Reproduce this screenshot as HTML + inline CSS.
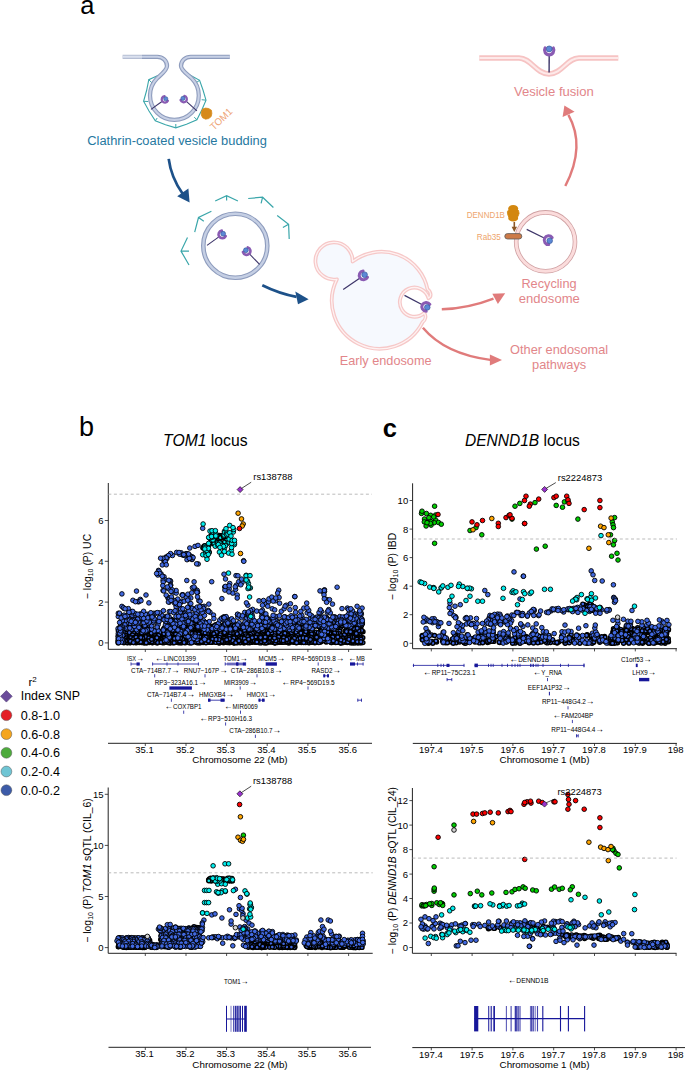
<!DOCTYPE html>
<html><head><meta charset="utf-8"><style>
html,body{margin:0;padding:0;background:#fff;overflow:hidden}
svg{display:block;font-family:"Liberation Sans", sans-serif}
</style></head><body>
<svg width="685" height="1070" viewBox="0 0 685 1070">
<rect width="685" height="1070" fill="#fff"/>
<text x="80.2" y="14.3" font-size="25.5" fill="#000">a</text>
<path d="M158.5,75.2 L148.8,79.7 L146.6,90.5 L143.6,101.3 L149,111 L155.3,120.8 L165.5,124.8 L175.8,127.8 L186.5,124.2 L196.9,119.7 L201.8,110 L206,100.2 L203,90 L199.6,80.3 L189.9,74.9" fill="none" stroke="#3aa6aa" stroke-width="1.1" stroke-linejoin="miter"/>
<line x1="148.8" y1="79.7" x2="152" y2="83" stroke="#3aa6aa" stroke-width="1.0"/>
<line x1="143.6" y1="101.3" x2="148.3" y2="101.5" stroke="#3aa6aa" stroke-width="1.0"/>
<line x1="155.3" y1="120.8" x2="157.2" y2="118.0" stroke="#3aa6aa" stroke-width="1.0"/>
<line x1="175.8" y1="127.8" x2="175.8" y2="124" stroke="#3aa6aa" stroke-width="1.0"/>
<line x1="196.9" y1="119.7" x2="194.2" y2="117.2" stroke="#3aa6aa" stroke-width="1.0"/>
<line x1="206" y1="100.2" x2="201.7" y2="99.7" stroke="#3aa6aa" stroke-width="1.0"/>
<line x1="199.6" y1="80.3" x2="196.3" y2="82.6" stroke="#3aa6aa" stroke-width="1.0"/>
<path d="M122.6,56.8 H157.3 C162.5,56.8 167,60.5 167,66 C167,70.5 160.5,74.9 157.15,78.25 A24.4,24.4 0 1 0 191.65,78.25 C188.3,74.9 181,70.5 181,66 C181,60.5 185.5,56.8 190.7,56.8 H229.8" fill="none" stroke="#8e9cbd" stroke-width="4.3"/>
<path d="M122.6,56.8 H157.3 C162.5,56.8 167,60.5 167,66 C167,70.5 160.5,74.9 157.15,78.25 A24.4,24.4 0 1 0 191.65,78.25 C188.3,74.9 181,70.5 181,66 C181,60.5 185.5,56.8 190.7,56.8 H229.8" fill="none" stroke="#c8d1e6" stroke-width="2.1"/>
<rect x="121" y="54" width="21" height="6" fill="#fff" opacity="0.35"/>
<line x1="151.0" y1="109.4" x2="162.3" y2="101.2" stroke="#3d3569" stroke-width="1.1"/>
<path d="M167.94,100.75 A3.28,3.28 0 1 1 164.55,96.05" fill="none" stroke="#8a5bb3" stroke-width="2.25" stroke-linecap="round"/>
<circle cx="165.73" cy="98.77" r="2.09" fill="#5c88d6" stroke="#2d4f8f" stroke-width="0.6"/>
<line x1="196.9" y1="110.8" x2="186.1" y2="101.2" stroke="#3d3569" stroke-width="1.1"/>
<path d="M184.37,95.81 A3.28,3.28 0 1 1 180.53,100.14" fill="none" stroke="#8a5bb3" stroke-width="2.25" stroke-linecap="round"/>
<circle cx="182.93" cy="98.40" r="2.09" fill="#5c88d6" stroke="#2d4f8f" stroke-width="0.6"/>
<path d="M211.85,113.50 L211.17,116.57 L208.70,118.55 L205.59,119.16 L202.65,117.83 L201.29,115.00 L201.32,112.01 L202.55,109.05 L205.62,108.09 L208.66,108.54 L211.44,110.26Z" fill="#d68a1b" stroke="#d68a1b" stroke-width="0.8" stroke-linejoin="round"/>
<text transform="translate(214.0,130.8) rotate(-44)" font-size="10" fill="#eea272" textLength="26.5" lengthAdjust="spacingAndGlyphs">TOM1</text>
<text x="87.3" y="145.3" font-size="12" fill="#26789f" textLength="179.6" lengthAdjust="spacingAndGlyphs">Clathrin-coated vesicle budding</text>
<path d="M168.7,158.8 Q171,177 182.5,193.5" fill="none" stroke="#1d5189" stroke-width="2.7" stroke-linecap="butt"/><path d="M189.6,202.6 L177.2,196.2 L188.4,188.6 Z" fill="#1d5189"/>
<path d="M215.2,201 L226.6,195.7 L237.9,201 M226.6,195.7 L226.6,200.6" fill="none" stroke="#3aa6aa" stroke-width="1.2"/>
<path d="M248.2,198.5 L262.6,197.2 L273.4,207.5 M262.6,197.2 L261.1,203.3" fill="none" stroke="#3aa6aa" stroke-width="1.2"/>
<path d="M277.2,215.6 L288.6,224.2 L289.2,239 M288.6,224.2 L282.9,227.6" fill="none" stroke="#3aa6aa" stroke-width="1.2"/>
<path d="M211.4,211.3 L198.5,217.5 L194.7,232.1 M198.5,217.5 L203.8,221.3" fill="none" stroke="#3aa6aa" stroke-width="1.2"/>
<path d="M187.5,237.4 L181,251.1 L189,265 M181,251.1 L189,251.1" fill="none" stroke="#3aa6aa" stroke-width="1.2"/>
<circle cx="235.3" cy="245.8" r="32.0" fill="none" stroke="#8e9cbd" stroke-width="4.6"/>
<circle cx="235.3" cy="245.8" r="32.0" fill="none" stroke="#c5cfe4" stroke-width="2.4"/>
<line x1="207.0" y1="245.4" x2="219.2" y2="236.6" stroke="#3d3569" stroke-width="1.1"/>
<path d="M225.71,236.08 A3.80,3.80 0 1 1 221.79,230.63" fill="none" stroke="#8a5bb3" stroke-width="2.61" stroke-linecap="round"/>
<circle cx="223.15" cy="233.79" r="2.43" fill="#5c88d6" stroke="#2d4f8f" stroke-width="0.6"/>
<line x1="259.6" y1="264.4" x2="249.2" y2="253.7" stroke="#3d3569" stroke-width="1.1"/>
<path d="M247.77,247.38 A3.80,3.80 0 1 1 242.95,252.06" fill="none" stroke="#8a5bb3" stroke-width="2.61" stroke-linecap="round"/>
<circle cx="245.87" cy="250.25" r="2.43" fill="#5c88d6" stroke="#2d4f8f" stroke-width="0.6"/>
<path d="M262.3,285.2 Q279,293.5 296.5,296.8" fill="none" stroke="#1d5189" stroke-width="2.7" stroke-linecap="butt"/><path d="M308.6,299.3 L295.3,291.6 L298.0,304.2 Z" fill="#1d5189"/>
<path d="M352.6,261.6 A47,47 0 0 1 427.5,289.2 C431.5,292 431.5,297 428.5,298.2 A14.6,14.6 0 1 0 424.2,313.0 C426.5,316 425.5,320 422.5,322.3 A47,47 0 0 1 336.9,279.3 A18.6,18.6 0 1 1 352.6,261.6 Z" fill="#f6f9fe" stroke="#f6c8c8" stroke-width="3.8" stroke-linejoin="round"/>
<path d="M352.6,261.6 A47,47 0 0 1 427.5,289.2 C431.5,292 431.5,297 428.5,298.2 A14.6,14.6 0 1 0 424.2,313.0 C426.5,316 425.5,320 422.5,322.3 A47,47 0 0 1 336.9,279.3 A18.6,18.6 0 1 1 352.6,261.6 Z" fill="none" stroke="#fef2f2" stroke-width="1.3" stroke-linejoin="round"/>
<line x1="343.2" y1="289.6" x2="360.0" y2="277.9" stroke="#3d3569" stroke-width="1.2"/>
<path d="M367.51,277.41 A4.40,4.40 0 1 1 363.08,271.03" fill="none" stroke="#8a5bb3" stroke-width="3.03" stroke-linecap="round"/>
<circle cx="364.59" cy="274.71" r="2.82" fill="#5c88d6" stroke="#2d4f8f" stroke-width="0.6"/>
<line x1="404.5" y1="295.4" x2="422.3" y2="304.8" stroke="#3d3569" stroke-width="1.2"/>
<path d="M426.22,311.20 A4.40,4.40 0 1 1 429.84,304.32" fill="none" stroke="#8a5bb3" stroke-width="3.03" stroke-linecap="round"/>
<circle cx="427.27" cy="307.36" r="2.82" fill="#5c88d6" stroke="#2d4f8f" stroke-width="0.6"/>
<text x="339.7" y="364.7" font-size="12.2" fill="#e2868a" textLength="91.9" lengthAdjust="spacingAndGlyphs">Early endosome</text>
<path d="M441.8,309.3 Q468,308.5 493.5,298.6" fill="none" stroke="#e07b7b" stroke-width="2.4" stroke-linecap="butt"/><path d="M505.2,293.3 L492.3,293.8 L497.9,303.9 Z" fill="#e07b7b"/>
<path d="M422.9,327.8 Q445,354 490.2,359.9" fill="none" stroke="#e07b7b" stroke-width="2.4" stroke-linecap="butt"/><path d="M502.0,360.0 L489.9,354.6 L489.9,365.4 Z" fill="#e07b7b"/>
<circle cx="545.6" cy="241.8" r="29.4" fill="#fff" stroke="#cfa0a2" stroke-width="4.6"/>
<circle cx="545.6" cy="241.8" r="29.4" fill="none" stroke="#fbdcdc" stroke-width="3.0"/>
<line x1="526.7" y1="229.4" x2="544.7" y2="238.3" stroke="#3d3569" stroke-width="1.2"/>
<path d="M548.73,244.60 A4.40,4.40 0 1 1 552.17,237.63" fill="none" stroke="#8a5bb3" stroke-width="3.03" stroke-linecap="round"/>
<circle cx="549.69" cy="240.74" r="2.82" fill="#5c88d6" stroke="#2d4f8f" stroke-width="0.6"/>
<path d="M519.08,213.20 L518.29,215.87 L516.68,218.25 L513.89,218.85 L511.06,218.85 L508.77,217.12 L507.69,214.56 L507.35,211.76 L508.96,209.45 L511.08,207.62 L513.89,207.56 L516.44,208.51 L518.48,210.43Z" fill="#d3870f" stroke="#d3870f" stroke-width="0.8" stroke-linejoin="round"/>
<ellipse cx="513.2" cy="208.5" rx="5" ry="3.5" fill="#d3870f"/>
<ellipse cx="513.2" cy="218" rx="5" ry="3.6" fill="#d3870f"/>
<line x1="514.3" y1="222" x2="514.3" y2="227.5" stroke="#8c5626" stroke-width="1.6"/>
<path d="M511.6,226.8 L517,226.8 L514.3,232 Z" fill="#8c5626"/>
<rect x="504.8" y="233.6" width="17" height="5.4" rx="2.7" fill="#cd7a48" stroke="#5a5a5a" stroke-width="0.8"/>
<text x="466.8" y="218.3" font-size="9" fill="#eea46c" textLength="38.1" lengthAdjust="spacingAndGlyphs">DENND1B</text>
<text x="476.8" y="239.6" font-size="9" fill="#eea46c" textLength="24.1" lengthAdjust="spacingAndGlyphs">Rab35</text>
<text x="521.4" y="287.6" font-size="12.4" fill="#e2868a" textLength="55.2" lengthAdjust="spacingAndGlyphs">Recycling</text>
<text x="518.8" y="303.4" font-size="12.4" fill="#e2868a" textLength="61" lengthAdjust="spacingAndGlyphs">endosome</text>
<text x="510.1" y="354.3" font-size="12.4" fill="#e2868a" textLength="98" lengthAdjust="spacingAndGlyphs">Other endosomal</text>
<text x="532" y="368.6" font-size="12.4" fill="#e2868a" textLength="54.3" lengthAdjust="spacingAndGlyphs">pathways</text>
<path d="M565.3,186 Q586,146 568.4,114.8" fill="none" stroke="#e07b7b" stroke-width="2.4" stroke-linecap="butt"/><path d="M564.4,105.6 L562.6,116.9 L574.6,111.8 Z" fill="#e07b7b"/>
<path d="M479.3,58 H519 C531,58 536,74 549,74 C562,74 567,58 579,58 H618.3" fill="none" stroke="#f6c3c3" stroke-width="5.4"/>
<path d="M479.3,58 H519 C531,58 536,74 549,74 C562,74 567,58 579,58 H618.3" fill="none" stroke="#fde9e9" stroke-width="2.0"/>
<line x1="549.1" y1="72.5" x2="549.2" y2="54.8" stroke="#3d3569" stroke-width="1.4"/>
<path d="M553.31,48.04 A4.64,4.64 0 1 1 545.11,48.00" fill="none" stroke="#8a5bb3" stroke-width="3.19" stroke-linecap="round"/>
<circle cx="549.21" cy="48.92" r="2.97" fill="#5c88d6" stroke="#2d4f8f" stroke-width="0.6"/>
<text x="513.9" y="96.3" font-size="12.4" fill="#e2868a" textLength="79.9" lengthAdjust="spacingAndGlyphs">Vesicle fusion</text>
<text x="79" y="436.2" font-size="27">b</text>
<text x="163.1" y="445.8" font-size="16.2" textLength="84.5" lengthAdjust="spacingAndGlyphs"><tspan font-style="italic">TOM1</tspan> locus</text>
<text x="382.8" y="436.9" font-size="25.5" font-weight="bold">c</text>
<text x="465" y="446" font-size="16.0" textLength="114.8" lengthAdjust="spacingAndGlyphs"><tspan font-style="italic">DENND1B</tspan> locus</text>
<g fill="#4169e1" stroke="#000" stroke-width="1.4">
<circle cx="228.8" cy="634.5" r="2.0"/><circle cx="344.4" cy="635.6" r="2.0"/><circle cx="242.4" cy="633.9" r="2.0"/><circle cx="163.2" cy="636.3" r="2.0"/><circle cx="272.3" cy="629.5" r="2.0"/><circle cx="141.1" cy="639.6" r="2.0"/><circle cx="140.2" cy="630.6" r="2.0"/><circle cx="287.9" cy="642.6" r="2.0"/><circle cx="358.6" cy="623.5" r="2.0"/><circle cx="278.2" cy="633.4" r="2.0"/><circle cx="156.6" cy="642.8" r="2.0"/><circle cx="247.5" cy="642.5" r="2.0"/><circle cx="164.6" cy="640.5" r="2.0"/><circle cx="125.4" cy="637.1" r="2.0"/><circle cx="225.9" cy="628.3" r="2.0"/><circle cx="245.2" cy="632.8" r="2.0"/><circle cx="240.4" cy="632.4" r="2.0"/><circle cx="230.0" cy="639.6" r="2.0"/><circle cx="362.4" cy="622.6" r="2.0"/><circle cx="323.9" cy="630.1" r="2.0"/><circle cx="195.2" cy="639.7" r="2.0"/><circle cx="188.8" cy="642.2" r="2.0"/><circle cx="305.7" cy="637.0" r="2.0"/><circle cx="325.4" cy="637.2" r="2.0"/><circle cx="352.7" cy="626.6" r="2.0"/><circle cx="118.1" cy="640.9" r="2.0"/><circle cx="341.0" cy="635.5" r="2.0"/><circle cx="358.2" cy="637.0" r="2.0"/><circle cx="135.9" cy="634.2" r="2.0"/><circle cx="308.7" cy="639.4" r="2.0"/><circle cx="139.4" cy="639.2" r="2.0"/><circle cx="354.2" cy="628.9" r="2.0"/><circle cx="146.9" cy="640.4" r="2.0"/><circle cx="142.8" cy="642.5" r="2.0"/><circle cx="313.3" cy="640.9" r="2.0"/><circle cx="255.0" cy="636.7" r="2.0"/><circle cx="164.7" cy="632.2" r="2.0"/><circle cx="150.1" cy="633.9" r="2.0"/><circle cx="146.5" cy="637.8" r="2.0"/><circle cx="170.2" cy="638.9" r="2.0"/><circle cx="355.9" cy="627.7" r="2.0"/><circle cx="192.5" cy="623.0" r="2.0"/><circle cx="169.6" cy="636.2" r="2.0"/><circle cx="327.3" cy="631.7" r="2.0"/><circle cx="142.6" cy="626.8" r="2.0"/><circle cx="170.2" cy="639.1" r="2.0"/><circle cx="307.3" cy="638.4" r="2.0"/><circle cx="190.6" cy="642.2" r="2.0"/><circle cx="140.1" cy="635.0" r="2.0"/><circle cx="177.5" cy="631.1" r="2.0"/><circle cx="209.1" cy="636.6" r="2.0"/><circle cx="353.0" cy="635.2" r="2.0"/><circle cx="258.8" cy="627.8" r="2.0"/><circle cx="162.8" cy="641.6" r="2.0"/><circle cx="340.6" cy="627.4" r="2.0"/><circle cx="179.1" cy="640.4" r="2.0"/><circle cx="299.2" cy="626.0" r="2.0"/><circle cx="166.2" cy="621.0" r="2.0"/><circle cx="334.1" cy="632.6" r="2.0"/><circle cx="221.3" cy="642.0" r="2.0"/><circle cx="127.5" cy="627.4" r="2.0"/><circle cx="176.4" cy="628.3" r="2.0"/><circle cx="181.0" cy="624.8" r="2.0"/><circle cx="264.1" cy="639.4" r="2.0"/><circle cx="161.0" cy="632.4" r="2.0"/><circle cx="134.9" cy="640.7" r="2.0"/><circle cx="255.0" cy="628.1" r="2.0"/><circle cx="268.5" cy="639.6" r="2.0"/><circle cx="342.8" cy="640.5" r="2.0"/><circle cx="122.1" cy="640.1" r="2.0"/><circle cx="227.2" cy="642.5" r="2.0"/><circle cx="161.2" cy="638.7" r="2.0"/><circle cx="258.2" cy="641.7" r="2.0"/><circle cx="206.7" cy="622.8" r="2.0"/><circle cx="358.2" cy="631.3" r="2.0"/><circle cx="287.3" cy="634.0" r="2.0"/><circle cx="152.4" cy="642.7" r="2.0"/><circle cx="122.4" cy="628.5" r="2.0"/><circle cx="289.7" cy="625.5" r="2.0"/><circle cx="123.2" cy="634.0" r="2.0"/><circle cx="236.1" cy="630.9" r="2.0"/><circle cx="196.1" cy="619.5" r="2.0"/><circle cx="136.4" cy="635.7" r="2.0"/><circle cx="298.6" cy="627.0" r="2.0"/><circle cx="298.6" cy="631.5" r="2.0"/><circle cx="312.4" cy="624.8" r="2.0"/><circle cx="204.2" cy="628.8" r="2.0"/><circle cx="338.7" cy="626.0" r="2.0"/><circle cx="220.2" cy="629.5" r="2.0"/><circle cx="329.6" cy="633.3" r="2.0"/><circle cx="271.1" cy="637.9" r="2.0"/><circle cx="260.8" cy="633.5" r="2.0"/><circle cx="137.6" cy="634.0" r="2.0"/><circle cx="361.4" cy="625.7" r="2.0"/><circle cx="296.4" cy="637.8" r="2.0"/><circle cx="298.1" cy="634.1" r="2.0"/><circle cx="225.9" cy="628.4" r="2.0"/><circle cx="138.5" cy="631.8" r="2.0"/><circle cx="125.3" cy="634.7" r="2.0"/><circle cx="235.8" cy="640.4" r="2.0"/><circle cx="289.1" cy="635.8" r="2.0"/><circle cx="268.6" cy="626.5" r="2.0"/><circle cx="180.7" cy="642.8" r="2.0"/><circle cx="191.8" cy="629.0" r="2.0"/><circle cx="167.6" cy="640.8" r="2.0"/><circle cx="339.9" cy="631.3" r="2.0"/><circle cx="226.3" cy="627.2" r="2.0"/><circle cx="198.1" cy="629.4" r="2.0"/><circle cx="166.6" cy="635.4" r="2.0"/><circle cx="315.5" cy="624.8" r="2.0"/><circle cx="333.7" cy="637.3" r="2.0"/><circle cx="260.9" cy="639.0" r="2.0"/><circle cx="151.4" cy="636.6" r="2.0"/><circle cx="323.1" cy="626.6" r="2.0"/><circle cx="292.2" cy="625.8" r="2.0"/><circle cx="185.8" cy="640.8" r="2.0"/><circle cx="228.4" cy="639.7" r="2.0"/><circle cx="170.4" cy="635.8" r="2.0"/><circle cx="271.3" cy="635.8" r="2.0"/><circle cx="195.3" cy="624.4" r="2.0"/><circle cx="358.6" cy="635.9" r="2.0"/><circle cx="136.3" cy="642.7" r="2.0"/><circle cx="331.8" cy="642.6" r="2.0"/><circle cx="291.6" cy="634.3" r="2.0"/><circle cx="193.7" cy="625.8" r="2.0"/><circle cx="122.7" cy="641.8" r="2.0"/><circle cx="229.4" cy="642.8" r="2.0"/><circle cx="321.3" cy="640.0" r="2.0"/><circle cx="152.5" cy="642.6" r="2.0"/><circle cx="272.1" cy="636.7" r="2.0"/><circle cx="272.3" cy="632.5" r="2.0"/><circle cx="315.8" cy="623.6" r="2.0"/><circle cx="285.7" cy="640.8" r="2.0"/><circle cx="234.4" cy="641.1" r="2.0"/><circle cx="120.6" cy="637.0" r="2.0"/><circle cx="293.0" cy="641.1" r="2.0"/><circle cx="184.7" cy="637.3" r="2.0"/><circle cx="288.8" cy="635.3" r="2.0"/><circle cx="268.5" cy="630.3" r="2.0"/><circle cx="214.4" cy="629.5" r="2.0"/><circle cx="340.0" cy="642.1" r="2.0"/><circle cx="346.5" cy="629.7" r="2.0"/><circle cx="149.8" cy="637.3" r="2.0"/><circle cx="271.3" cy="626.7" r="2.0"/><circle cx="210.3" cy="634.3" r="2.0"/><circle cx="333.4" cy="627.9" r="2.0"/><circle cx="349.3" cy="635.7" r="2.0"/><circle cx="277.6" cy="640.7" r="2.0"/><circle cx="294.9" cy="628.9" r="2.0"/><circle cx="275.2" cy="631.2" r="2.0"/><circle cx="170.3" cy="622.6" r="2.0"/><circle cx="358.2" cy="623.1" r="2.0"/><circle cx="249.6" cy="629.5" r="2.0"/><circle cx="196.5" cy="622.2" r="2.0"/><circle cx="327.7" cy="638.0" r="2.0"/><circle cx="138.3" cy="637.5" r="2.0"/><circle cx="252.8" cy="630.0" r="2.0"/><circle cx="237.4" cy="642.8" r="2.0"/><circle cx="316.2" cy="642.4" r="2.0"/><circle cx="314.0" cy="641.0" r="2.0"/><circle cx="200.1" cy="625.9" r="2.0"/><circle cx="152.4" cy="641.7" r="2.0"/><circle cx="244.5" cy="631.0" r="2.0"/><circle cx="323.8" cy="630.6" r="2.0"/><circle cx="349.7" cy="635.1" r="2.0"/><circle cx="350.5" cy="642.2" r="2.0"/><circle cx="172.2" cy="633.0" r="2.0"/><circle cx="189.1" cy="627.6" r="2.0"/><circle cx="274.5" cy="635.3" r="2.0"/><circle cx="324.7" cy="633.6" r="2.0"/><circle cx="194.4" cy="636.5" r="2.0"/><circle cx="325.1" cy="625.2" r="2.0"/><circle cx="169.0" cy="624.0" r="2.0"/><circle cx="355.3" cy="634.4" r="2.0"/><circle cx="258.4" cy="640.8" r="2.0"/><circle cx="249.3" cy="635.6" r="2.0"/><circle cx="266.3" cy="642.8" r="2.0"/><circle cx="355.5" cy="634.5" r="2.0"/><circle cx="216.1" cy="629.3" r="2.0"/><circle cx="255.9" cy="635.9" r="2.0"/><circle cx="287.3" cy="642.4" r="2.0"/><circle cx="250.0" cy="637.3" r="2.0"/><circle cx="352.4" cy="624.6" r="2.0"/><circle cx="184.0" cy="634.4" r="2.0"/><circle cx="149.1" cy="637.6" r="2.0"/><circle cx="317.9" cy="625.2" r="2.0"/><circle cx="234.8" cy="639.0" r="2.0"/><circle cx="164.9" cy="634.4" r="2.0"/><circle cx="344.7" cy="641.6" r="2.0"/><circle cx="308.9" cy="642.8" r="2.0"/><circle cx="165.6" cy="639.7" r="2.0"/><circle cx="286.3" cy="638.9" r="2.0"/><circle cx="205.1" cy="630.6" r="2.0"/><circle cx="143.7" cy="632.2" r="2.0"/><circle cx="148.1" cy="636.3" r="2.0"/><circle cx="179.4" cy="640.3" r="2.0"/><circle cx="247.9" cy="636.9" r="2.0"/><circle cx="210.1" cy="637.3" r="2.0"/><circle cx="247.7" cy="641.4" r="2.0"/><circle cx="168.0" cy="630.3" r="2.0"/><circle cx="274.4" cy="635.1" r="2.0"/><circle cx="326.6" cy="632.4" r="2.0"/><circle cx="327.9" cy="640.1" r="2.0"/><circle cx="299.5" cy="629.1" r="2.0"/><circle cx="339.2" cy="638.6" r="2.0"/><circle cx="195.2" cy="621.9" r="2.0"/><circle cx="171.4" cy="619.5" r="2.0"/><circle cx="335.4" cy="641.5" r="2.0"/><circle cx="176.6" cy="627.7" r="2.0"/><circle cx="181.6" cy="641.9" r="2.0"/><circle cx="321.9" cy="636.5" r="2.0"/><circle cx="311.5" cy="641.7" r="2.0"/><circle cx="216.7" cy="631.9" r="2.0"/><circle cx="122.4" cy="641.0" r="2.0"/><circle cx="285.2" cy="626.7" r="2.0"/><circle cx="355.3" cy="641.8" r="2.0"/><circle cx="241.9" cy="630.3" r="2.0"/><circle cx="241.2" cy="631.9" r="2.0"/><circle cx="164.3" cy="642.4" r="2.0"/><circle cx="144.0" cy="642.7" r="2.0"/><circle cx="253.2" cy="635.4" r="2.0"/><circle cx="257.3" cy="641.5" r="2.0"/><circle cx="163.2" cy="641.0" r="2.0"/><circle cx="323.9" cy="622.8" r="2.0"/><circle cx="345.1" cy="642.0" r="2.0"/><circle cx="133.2" cy="627.6" r="2.0"/><circle cx="231.2" cy="630.1" r="2.0"/><circle cx="198.1" cy="634.5" r="2.0"/><circle cx="244.2" cy="637.0" r="2.0"/><circle cx="265.2" cy="642.8" r="2.0"/><circle cx="289.8" cy="628.3" r="2.0"/><circle cx="162.4" cy="637.3" r="2.0"/><circle cx="299.1" cy="637.5" r="2.0"/><circle cx="165.8" cy="640.8" r="2.0"/><circle cx="243.6" cy="642.8" r="2.0"/><circle cx="336.8" cy="627.8" r="2.0"/><circle cx="290.6" cy="627.9" r="2.0"/><circle cx="272.2" cy="637.5" r="2.0"/><circle cx="264.9" cy="635.6" r="2.0"/><circle cx="358.8" cy="627.7" r="2.0"/><circle cx="181.3" cy="622.2" r="2.0"/><circle cx="300.4" cy="628.4" r="2.0"/><circle cx="317.6" cy="636.9" r="2.0"/><circle cx="337.7" cy="625.7" r="2.0"/><circle cx="288.2" cy="630.1" r="2.0"/><circle cx="305.5" cy="636.9" r="2.0"/><circle cx="295.0" cy="642.4" r="2.0"/><circle cx="201.7" cy="634.5" r="2.0"/><circle cx="120.6" cy="638.9" r="2.0"/><circle cx="274.5" cy="633.2" r="2.0"/><circle cx="174.9" cy="621.2" r="2.0"/><circle cx="281.2" cy="638.7" r="2.0"/><circle cx="279.6" cy="634.3" r="2.0"/><circle cx="248.6" cy="637.8" r="2.0"/><circle cx="363.0" cy="631.7" r="2.0"/><circle cx="289.8" cy="630.2" r="2.0"/><circle cx="358.1" cy="642.8" r="2.0"/><circle cx="268.8" cy="630.7" r="2.0"/><circle cx="180.9" cy="636.1" r="2.0"/><circle cx="130.4" cy="641.1" r="2.0"/><circle cx="210.0" cy="642.1" r="2.0"/><circle cx="179.5" cy="622.4" r="2.0"/><circle cx="252.8" cy="635.5" r="2.0"/><circle cx="354.9" cy="633.4" r="2.0"/><circle cx="361.8" cy="631.8" r="2.0"/><circle cx="316.3" cy="642.3" r="2.0"/><circle cx="264.4" cy="630.2" r="2.0"/><circle cx="129.1" cy="628.1" r="2.0"/><circle cx="157.2" cy="637.0" r="2.0"/><circle cx="159.4" cy="636.6" r="2.0"/><circle cx="267.7" cy="642.5" r="2.0"/><circle cx="349.6" cy="636.6" r="2.0"/><circle cx="247.1" cy="633.7" r="2.0"/><circle cx="207.6" cy="639.5" r="2.0"/><circle cx="278.5" cy="634.5" r="2.0"/><circle cx="187.5" cy="627.9" r="2.0"/><circle cx="190.5" cy="642.8" r="2.0"/><circle cx="178.0" cy="642.6" r="2.0"/><circle cx="156.4" cy="631.7" r="2.0"/><circle cx="213.5" cy="627.0" r="2.0"/><circle cx="301.3" cy="642.5" r="2.0"/><circle cx="360.2" cy="624.0" r="2.0"/><circle cx="136.0" cy="628.6" r="2.0"/><circle cx="223.2" cy="636.1" r="2.0"/><circle cx="356.4" cy="639.9" r="2.0"/><circle cx="246.2" cy="626.1" r="2.0"/><circle cx="295.1" cy="636.3" r="2.0"/><circle cx="357.8" cy="627.4" r="2.0"/><circle cx="265.9" cy="641.9" r="2.0"/><circle cx="270.9" cy="636.5" r="2.0"/><circle cx="167.9" cy="642.5" r="2.0"/><circle cx="247.4" cy="641.8" r="2.0"/><circle cx="226.5" cy="632.3" r="2.0"/><circle cx="229.6" cy="639.9" r="2.0"/><circle cx="260.6" cy="637.2" r="2.0"/><circle cx="308.6" cy="634.2" r="2.0"/><circle cx="362.4" cy="623.8" r="2.0"/><circle cx="297.9" cy="640.2" r="2.0"/><circle cx="145.9" cy="628.9" r="2.0"/><circle cx="310.2" cy="632.1" r="2.0"/><circle cx="206.0" cy="638.9" r="2.0"/><circle cx="285.8" cy="634.4" r="2.0"/><circle cx="263.0" cy="633.0" r="2.0"/><circle cx="302.6" cy="640.7" r="2.0"/><circle cx="179.0" cy="620.1" r="2.0"/><circle cx="342.4" cy="625.8" r="2.0"/><circle cx="127.7" cy="642.5" r="2.0"/><circle cx="184.4" cy="635.5" r="2.0"/><circle cx="270.7" cy="642.1" r="2.0"/><circle cx="250.7" cy="642.4" r="2.0"/><circle cx="139.2" cy="633.3" r="2.0"/><circle cx="252.9" cy="633.0" r="2.0"/><circle cx="209.4" cy="636.1" r="2.0"/><circle cx="169.6" cy="637.4" r="2.0"/><circle cx="300.5" cy="626.8" r="2.0"/><circle cx="136.2" cy="642.0" r="2.0"/><circle cx="316.2" cy="632.1" r="2.0"/><circle cx="306.3" cy="640.4" r="2.0"/><circle cx="222.0" cy="640.0" r="2.0"/><circle cx="316.4" cy="637.6" r="2.0"/><circle cx="278.1" cy="624.8" r="2.0"/><circle cx="197.7" cy="632.5" r="2.0"/><circle cx="300.8" cy="624.6" r="2.0"/><circle cx="222.8" cy="638.1" r="2.0"/><circle cx="141.8" cy="629.3" r="2.0"/><circle cx="137.2" cy="642.3" r="2.0"/><circle cx="256.2" cy="636.0" r="2.0"/><circle cx="285.9" cy="639.3" r="2.0"/><circle cx="308.0" cy="642.3" r="2.0"/><circle cx="170.2" cy="629.5" r="2.0"/><circle cx="138.0" cy="639.6" r="2.0"/><circle cx="295.6" cy="631.7" r="2.0"/><circle cx="187.3" cy="641.2" r="2.0"/><circle cx="205.7" cy="627.7" r="2.0"/><circle cx="207.8" cy="641.9" r="2.0"/><circle cx="291.8" cy="634.3" r="2.0"/><circle cx="343.0" cy="624.1" r="2.0"/><circle cx="341.8" cy="636.2" r="2.0"/><circle cx="314.7" cy="638.8" r="2.0"/><circle cx="195.8" cy="636.1" r="2.0"/><circle cx="347.0" cy="625.3" r="2.0"/><circle cx="178.8" cy="637.0" r="2.0"/><circle cx="207.6" cy="638.2" r="2.0"/><circle cx="214.9" cy="637.8" r="2.0"/><circle cx="165.8" cy="632.1" r="2.0"/><circle cx="313.3" cy="634.0" r="2.0"/><circle cx="322.9" cy="633.5" r="2.0"/><circle cx="161.3" cy="631.7" r="2.0"/><circle cx="333.8" cy="639.2" r="2.0"/><circle cx="123.4" cy="636.2" r="2.0"/><circle cx="251.3" cy="634.4" r="2.0"/><circle cx="354.8" cy="631.5" r="2.0"/><circle cx="315.1" cy="642.4" r="2.0"/><circle cx="252.0" cy="629.6" r="2.0"/><circle cx="138.6" cy="642.3" r="2.0"/><circle cx="298.6" cy="627.0" r="2.0"/><circle cx="138.8" cy="634.1" r="2.0"/><circle cx="153.3" cy="631.9" r="2.0"/><circle cx="277.0" cy="640.1" r="2.0"/><circle cx="172.0" cy="626.5" r="2.0"/><circle cx="245.8" cy="630.1" r="2.0"/><circle cx="214.6" cy="638.7" r="2.0"/><circle cx="355.2" cy="631.0" r="2.0"/><circle cx="238.9" cy="635.0" r="2.0"/><circle cx="294.6" cy="631.4" r="2.0"/><circle cx="342.2" cy="636.8" r="2.0"/><circle cx="320.4" cy="631.1" r="2.0"/><circle cx="327.1" cy="627.7" r="2.0"/><circle cx="322.3" cy="625.5" r="2.0"/><circle cx="352.7" cy="631.7" r="2.0"/><circle cx="246.3" cy="631.3" r="2.0"/><circle cx="314.6" cy="636.5" r="2.0"/><circle cx="221.0" cy="641.5" r="2.0"/><circle cx="299.6" cy="624.8" r="2.0"/><circle cx="210.0" cy="641.3" r="2.0"/><circle cx="168.1" cy="635.5" r="2.0"/><circle cx="189.5" cy="620.4" r="2.0"/><circle cx="132.5" cy="639.6" r="2.0"/><circle cx="146.1" cy="633.8" r="2.0"/><circle cx="308.1" cy="640.9" r="2.0"/><circle cx="133.3" cy="637.2" r="2.0"/><circle cx="261.1" cy="626.8" r="2.0"/><circle cx="126.9" cy="642.1" r="2.0"/><circle cx="163.2" cy="640.8" r="2.0"/><circle cx="175.7" cy="627.9" r="2.0"/><circle cx="263.7" cy="640.5" r="2.0"/><circle cx="163.3" cy="640.0" r="2.0"/><circle cx="160.3" cy="631.7" r="2.0"/><circle cx="194.4" cy="632.5" r="2.0"/><circle cx="318.2" cy="635.3" r="2.0"/><circle cx="181.8" cy="622.9" r="2.0"/><circle cx="342.0" cy="638.1" r="2.0"/><circle cx="252.1" cy="625.6" r="2.0"/><circle cx="236.2" cy="640.5" r="2.0"/><circle cx="130.2" cy="627.7" r="2.0"/><circle cx="314.3" cy="637.3" r="2.0"/><circle cx="247.3" cy="635.4" r="2.0"/><circle cx="185.3" cy="619.7" r="2.0"/><circle cx="279.1" cy="640.3" r="2.0"/><circle cx="120.7" cy="637.0" r="2.0"/><circle cx="209.0" cy="629.4" r="2.0"/><circle cx="292.8" cy="633.6" r="2.0"/><circle cx="156.5" cy="641.6" r="2.0"/><circle cx="196.8" cy="639.1" r="2.0"/><circle cx="331.0" cy="634.5" r="2.0"/><circle cx="274.1" cy="624.7" r="2.0"/><circle cx="183.3" cy="632.8" r="2.0"/><circle cx="154.9" cy="631.4" r="2.0"/><circle cx="118.3" cy="630.4" r="2.0"/><circle cx="325.3" cy="627.2" r="2.0"/><circle cx="138.2" cy="640.1" r="2.0"/><circle cx="293.5" cy="642.1" r="2.0"/><circle cx="235.6" cy="636.3" r="2.0"/><circle cx="352.1" cy="633.0" r="2.0"/><circle cx="328.0" cy="638.8" r="2.0"/><circle cx="311.4" cy="636.6" r="2.0"/><circle cx="342.6" cy="642.1" r="2.0"/><circle cx="320.4" cy="640.4" r="2.0"/><circle cx="251.1" cy="635.2" r="2.0"/><circle cx="156.6" cy="630.2" r="2.0"/><circle cx="194.3" cy="638.1" r="2.0"/><circle cx="136.6" cy="639.6" r="2.0"/><circle cx="232.5" cy="631.2" r="2.0"/><circle cx="206.1" cy="628.8" r="2.0"/><circle cx="143.9" cy="638.3" r="2.0"/><circle cx="231.1" cy="625.4" r="2.0"/><circle cx="321.3" cy="631.4" r="2.0"/><circle cx="121.0" cy="638.5" r="2.0"/><circle cx="292.0" cy="640.3" r="2.0"/><circle cx="256.2" cy="636.5" r="2.0"/><circle cx="120.6" cy="626.8" r="2.0"/><circle cx="313.9" cy="640.5" r="2.0"/><circle cx="268.9" cy="639.4" r="2.0"/><circle cx="210.1" cy="634.9" r="2.0"/><circle cx="191.1" cy="637.5" r="2.0"/><circle cx="214.1" cy="632.3" r="2.0"/><circle cx="180.8" cy="640.2" r="2.0"/><circle cx="297.2" cy="638.8" r="2.0"/><circle cx="349.5" cy="633.5" r="2.0"/><circle cx="295.3" cy="638.8" r="2.0"/><circle cx="320.6" cy="642.1" r="2.0"/><circle cx="152.5" cy="642.2" r="2.0"/><circle cx="284.0" cy="631.4" r="2.0"/><circle cx="162.1" cy="638.1" r="2.0"/><circle cx="323.0" cy="632.8" r="2.0"/><circle cx="140.1" cy="640.7" r="2.0"/><circle cx="156.5" cy="641.9" r="2.0"/><circle cx="217.7" cy="642.4" r="2.0"/><circle cx="343.6" cy="636.4" r="2.0"/><circle cx="243.3" cy="632.7" r="2.0"/><circle cx="305.9" cy="627.3" r="2.0"/><circle cx="212.6" cy="638.8" r="2.0"/><circle cx="219.0" cy="642.8" r="2.0"/><circle cx="216.2" cy="631.6" r="2.0"/><circle cx="358.6" cy="628.1" r="2.0"/><circle cx="279.8" cy="633.5" r="2.0"/><circle cx="122.5" cy="639.2" r="2.0"/><circle cx="201.8" cy="629.8" r="2.0"/><circle cx="144.0" cy="638.5" r="2.0"/><circle cx="242.8" cy="629.6" r="2.0"/><circle cx="320.2" cy="632.4" r="2.0"/><circle cx="156.8" cy="631.5" r="2.0"/><circle cx="339.2" cy="633.8" r="2.0"/><circle cx="204.4" cy="633.7" r="2.0"/><circle cx="152.7" cy="632.6" r="2.0"/><circle cx="359.8" cy="634.5" r="2.0"/><circle cx="293.3" cy="628.5" r="2.0"/><circle cx="166.3" cy="621.2" r="2.0"/><circle cx="271.6" cy="640.8" r="2.0"/><circle cx="138.4" cy="640.5" r="2.0"/><circle cx="259.2" cy="631.6" r="2.0"/><circle cx="198.7" cy="621.7" r="2.0"/><circle cx="206.5" cy="634.6" r="2.0"/><circle cx="148.4" cy="627.2" r="2.0"/><circle cx="151.2" cy="628.7" r="2.0"/><circle cx="251.1" cy="634.5" r="2.0"/><circle cx="255.3" cy="639.9" r="2.0"/><circle cx="340.8" cy="622.7" r="2.0"/><circle cx="318.3" cy="632.6" r="2.0"/><circle cx="148.0" cy="630.3" r="2.0"/><circle cx="188.7" cy="622.6" r="2.0"/><circle cx="177.0" cy="631.8" r="2.0"/><circle cx="321.5" cy="640.8" r="2.0"/><circle cx="252.2" cy="642.3" r="2.0"/><circle cx="125.8" cy="641.3" r="2.0"/><circle cx="359.8" cy="624.1" r="2.0"/><circle cx="279.3" cy="639.2" r="2.0"/><circle cx="282.5" cy="630.7" r="2.0"/><circle cx="211.5" cy="633.9" r="2.0"/><circle cx="314.9" cy="642.8" r="2.0"/><circle cx="166.9" cy="634.5" r="2.0"/><circle cx="153.0" cy="638.4" r="2.0"/><circle cx="257.5" cy="641.2" r="2.0"/><circle cx="245.3" cy="639.9" r="2.0"/><circle cx="257.2" cy="638.8" r="2.0"/><circle cx="275.2" cy="642.7" r="2.0"/><circle cx="282.4" cy="641.5" r="2.0"/><circle cx="353.0" cy="632.7" r="2.0"/><circle cx="233.1" cy="637.4" r="2.0"/><circle cx="270.8" cy="631.8" r="2.0"/><circle cx="303.7" cy="629.0" r="2.0"/><circle cx="237.0" cy="624.7" r="2.0"/><circle cx="323.4" cy="626.4" r="2.0"/><circle cx="218.2" cy="637.0" r="2.0"/><circle cx="256.7" cy="626.8" r="2.0"/><circle cx="246.9" cy="635.2" r="2.0"/><circle cx="223.9" cy="626.9" r="2.0"/><circle cx="196.6" cy="642.4" r="2.0"/><circle cx="295.8" cy="627.0" r="2.0"/><circle cx="297.3" cy="633.7" r="2.0"/><circle cx="302.2" cy="638.8" r="2.0"/><circle cx="263.4" cy="642.4" r="2.0"/><circle cx="148.5" cy="637.4" r="2.0"/><circle cx="241.1" cy="637.6" r="2.0"/><circle cx="130.7" cy="632.9" r="2.0"/><circle cx="246.9" cy="640.2" r="2.0"/><circle cx="193.0" cy="636.2" r="2.0"/><circle cx="175.8" cy="642.3" r="2.0"/><circle cx="341.3" cy="623.4" r="2.0"/><circle cx="281.1" cy="627.8" r="2.0"/><circle cx="221.2" cy="629.2" r="2.0"/><circle cx="172.3" cy="627.1" r="2.0"/><circle cx="256.9" cy="626.9" r="2.0"/><circle cx="142.1" cy="631.0" r="2.0"/><circle cx="148.3" cy="635.8" r="2.0"/><circle cx="351.0" cy="642.9" r="2.0"/><circle cx="177.8" cy="638.3" r="2.0"/><circle cx="197.6" cy="642.3" r="2.0"/><circle cx="337.3" cy="627.4" r="2.0"/><circle cx="215.3" cy="638.3" r="2.0"/><circle cx="261.4" cy="642.6" r="2.0"/><circle cx="125.6" cy="628.8" r="2.0"/><circle cx="193.4" cy="633.7" r="2.0"/><circle cx="346.8" cy="623.1" r="2.0"/><circle cx="233.8" cy="640.7" r="2.0"/><circle cx="190.4" cy="621.9" r="2.0"/><circle cx="337.7" cy="640.6" r="2.0"/><circle cx="323.3" cy="637.9" r="2.0"/><circle cx="233.8" cy="641.2" r="2.0"/><circle cx="333.5" cy="622.6" r="2.0"/><circle cx="167.5" cy="630.3" r="2.0"/><circle cx="164.9" cy="629.2" r="2.0"/><circle cx="130.3" cy="642.1" r="2.0"/><circle cx="295.8" cy="639.1" r="2.0"/><circle cx="338.6" cy="626.0" r="2.0"/><circle cx="292.7" cy="641.7" r="2.0"/><circle cx="288.5" cy="626.1" r="2.0"/><circle cx="227.1" cy="642.3" r="2.0"/><circle cx="172.7" cy="638.1" r="2.0"/><circle cx="292.1" cy="640.9" r="2.0"/><circle cx="162.3" cy="640.6" r="2.0"/><circle cx="280.8" cy="629.5" r="2.0"/><circle cx="209.3" cy="632.4" r="2.0"/><circle cx="334.7" cy="632.9" r="2.0"/><circle cx="174.1" cy="638.3" r="2.0"/><circle cx="345.1" cy="631.1" r="2.0"/><circle cx="185.8" cy="630.1" r="2.0"/><circle cx="140.0" cy="627.0" r="2.0"/><circle cx="225.9" cy="635.1" r="2.0"/><circle cx="248.0" cy="642.6" r="2.0"/><circle cx="264.9" cy="639.5" r="2.0"/><circle cx="179.5" cy="625.4" r="2.0"/><circle cx="139.4" cy="639.9" r="2.0"/><circle cx="303.1" cy="639.8" r="2.0"/><circle cx="186.4" cy="632.5" r="2.0"/><circle cx="163.7" cy="628.8" r="2.0"/><circle cx="360.0" cy="642.7" r="2.0"/><circle cx="231.1" cy="630.4" r="2.0"/><circle cx="212.3" cy="626.3" r="2.0"/><circle cx="240.5" cy="641.1" r="2.0"/><circle cx="254.2" cy="632.7" r="2.0"/><circle cx="206.1" cy="629.6" r="2.0"/><circle cx="309.8" cy="634.5" r="2.0"/><circle cx="241.9" cy="628.3" r="2.0"/><circle cx="285.6" cy="635.3" r="2.0"/><circle cx="351.1" cy="641.0" r="2.0"/><circle cx="309.0" cy="641.1" r="2.0"/><circle cx="267.0" cy="640.3" r="2.0"/><circle cx="225.9" cy="629.9" r="2.0"/><circle cx="310.7" cy="628.0" r="2.0"/><circle cx="175.8" cy="634.0" r="2.0"/><circle cx="172.2" cy="631.7" r="2.0"/><circle cx="240.2" cy="642.7" r="2.0"/><circle cx="264.2" cy="631.2" r="2.0"/><circle cx="258.3" cy="627.6" r="2.0"/><circle cx="162.1" cy="641.6" r="2.0"/><circle cx="122.4" cy="636.6" r="2.0"/><circle cx="224.5" cy="636.8" r="2.0"/><circle cx="182.4" cy="625.6" r="2.0"/><circle cx="135.8" cy="628.6" r="2.0"/><circle cx="257.4" cy="634.8" r="2.0"/><circle cx="311.9" cy="640.0" r="2.0"/><circle cx="153.8" cy="639.5" r="2.0"/><circle cx="128.4" cy="639.5" r="2.0"/><circle cx="270.2" cy="635.2" r="2.0"/><circle cx="182.9" cy="631.4" r="2.0"/><circle cx="139.7" cy="630.4" r="2.0"/><circle cx="160.0" cy="640.3" r="2.0"/><circle cx="157.2" cy="633.0" r="2.0"/><circle cx="321.6" cy="628.1" r="2.0"/><circle cx="133.0" cy="638.0" r="2.0"/><circle cx="207.3" cy="640.6" r="2.0"/><circle cx="355.8" cy="642.6" r="2.0"/><circle cx="237.9" cy="630.2" r="2.0"/><circle cx="359.6" cy="641.4" r="2.0"/><circle cx="229.6" cy="630.6" r="2.0"/><circle cx="127.6" cy="640.5" r="2.0"/><circle cx="336.1" cy="641.4" r="2.0"/><circle cx="214.3" cy="639.3" r="2.0"/><circle cx="222.0" cy="642.3" r="2.0"/><circle cx="126.4" cy="626.7" r="2.0"/><circle cx="305.0" cy="629.5" r="2.0"/><circle cx="174.3" cy="639.2" r="2.0"/><circle cx="253.2" cy="640.2" r="2.0"/><circle cx="231.1" cy="626.2" r="2.0"/><circle cx="207.2" cy="638.7" r="2.0"/><circle cx="358.4" cy="632.4" r="2.0"/><circle cx="127.7" cy="638.1" r="2.0"/><circle cx="277.2" cy="642.5" r="2.0"/><circle cx="202.1" cy="628.6" r="2.0"/><circle cx="329.8" cy="632.9" r="2.0"/><circle cx="335.2" cy="635.7" r="2.0"/><circle cx="214.3" cy="628.3" r="2.0"/><circle cx="211.4" cy="629.7" r="2.0"/><circle cx="170.8" cy="637.3" r="2.0"/><circle cx="163.0" cy="635.6" r="2.0"/><circle cx="158.1" cy="641.0" r="2.0"/><circle cx="170.5" cy="634.5" r="2.0"/><circle cx="193.6" cy="635.0" r="2.0"/><circle cx="361.4" cy="630.8" r="2.0"/><circle cx="329.4" cy="640.5" r="2.0"/><circle cx="211.8" cy="642.4" r="2.0"/><circle cx="287.4" cy="638.2" r="2.0"/><circle cx="185.3" cy="642.8" r="2.0"/><circle cx="162.6" cy="640.2" r="2.0"/><circle cx="214.3" cy="626.4" r="2.0"/><circle cx="293.2" cy="639.8" r="2.0"/><circle cx="206.5" cy="641.0" r="2.0"/><circle cx="347.5" cy="637.8" r="2.0"/><circle cx="305.6" cy="629.7" r="2.0"/><circle cx="340.2" cy="642.8" r="2.0"/><circle cx="196.9" cy="636.4" r="2.0"/><circle cx="138.4" cy="629.1" r="2.0"/><circle cx="197.7" cy="626.4" r="2.0"/><circle cx="245.2" cy="642.5" r="2.0"/><circle cx="214.5" cy="640.3" r="2.0"/><circle cx="128.0" cy="641.6" r="2.0"/><circle cx="263.9" cy="642.7" r="2.0"/><circle cx="194.5" cy="635.5" r="2.0"/><circle cx="251.3" cy="641.7" r="2.0"/><circle cx="291.1" cy="639.9" r="2.0"/><circle cx="295.7" cy="632.3" r="2.0"/><circle cx="154.1" cy="641.0" r="2.0"/><circle cx="186.7" cy="628.0" r="2.0"/><circle cx="217.3" cy="637.8" r="2.0"/><circle cx="330.2" cy="640.2" r="2.0"/><circle cx="189.6" cy="637.3" r="2.0"/><circle cx="170.9" cy="642.6" r="2.0"/><circle cx="124.0" cy="634.1" r="2.0"/><circle cx="256.7" cy="629.1" r="2.0"/><circle cx="357.0" cy="638.9" r="2.0"/><circle cx="282.3" cy="626.5" r="2.0"/><circle cx="171.0" cy="628.7" r="2.0"/><circle cx="281.3" cy="625.6" r="2.0"/><circle cx="330.8" cy="640.0" r="2.0"/><circle cx="273.0" cy="642.2" r="2.0"/><circle cx="222.8" cy="637.7" r="2.0"/><circle cx="132.7" cy="638.4" r="2.0"/><circle cx="198.4" cy="633.8" r="2.0"/><circle cx="186.6" cy="640.9" r="2.0"/><circle cx="216.6" cy="636.2" r="2.0"/><circle cx="158.8" cy="633.5" r="2.0"/><circle cx="176.8" cy="641.9" r="2.0"/><circle cx="201.7" cy="635.6" r="2.0"/><circle cx="154.9" cy="635.0" r="2.0"/><circle cx="289.8" cy="634.6" r="2.0"/><circle cx="289.5" cy="642.8" r="2.0"/><circle cx="213.9" cy="638.2" r="2.0"/><circle cx="133.4" cy="638.1" r="2.0"/><circle cx="131.4" cy="636.6" r="2.0"/><circle cx="261.5" cy="636.3" r="2.0"/><circle cx="197.8" cy="639.2" r="2.0"/><circle cx="123.8" cy="639.0" r="2.0"/><circle cx="336.5" cy="633.4" r="2.0"/><circle cx="182.2" cy="629.3" r="2.0"/><circle cx="163.6" cy="637.0" r="2.0"/><circle cx="268.7" cy="625.7" r="2.0"/><circle cx="206.8" cy="631.8" r="2.0"/><circle cx="348.9" cy="628.5" r="2.0"/><circle cx="271.7" cy="633.3" r="2.0"/><circle cx="218.7" cy="637.3" r="2.0"/><circle cx="185.7" cy="624.7" r="2.0"/><circle cx="333.5" cy="637.3" r="2.0"/><circle cx="340.9" cy="642.7" r="2.0"/><circle cx="151.3" cy="636.4" r="2.0"/><circle cx="193.6" cy="637.0" r="2.0"/><circle cx="357.4" cy="641.3" r="2.0"/><circle cx="165.2" cy="639.7" r="2.0"/><circle cx="284.6" cy="640.3" r="2.0"/><circle cx="118.2" cy="635.7" r="2.0"/><circle cx="214.5" cy="640.2" r="2.0"/><circle cx="238.9" cy="632.6" r="2.0"/><circle cx="252.3" cy="633.2" r="2.0"/><circle cx="255.4" cy="628.6" r="2.0"/><circle cx="355.4" cy="638.3" r="2.0"/><circle cx="202.9" cy="623.0" r="2.0"/><circle cx="194.8" cy="628.0" r="2.0"/><circle cx="288.4" cy="631.8" r="2.0"/><circle cx="354.2" cy="627.2" r="2.0"/><circle cx="157.1" cy="634.3" r="2.0"/><circle cx="238.2" cy="634.4" r="2.0"/><circle cx="208.5" cy="639.5" r="2.0"/><circle cx="301.5" cy="634.2" r="2.0"/><circle cx="176.1" cy="639.3" r="2.0"/><circle cx="197.6" cy="640.6" r="2.0"/><circle cx="243.9" cy="641.8" r="2.0"/><circle cx="133.5" cy="642.5" r="2.0"/><circle cx="143.0" cy="632.7" r="2.0"/><circle cx="145.6" cy="637.3" r="2.0"/><circle cx="307.2" cy="635.3" r="2.0"/><circle cx="157.8" cy="629.5" r="2.0"/><circle cx="331.1" cy="642.5" r="2.0"/><circle cx="180.2" cy="633.5" r="2.0"/><circle cx="313.1" cy="637.1" r="2.0"/><circle cx="293.4" cy="640.0" r="2.0"/><circle cx="293.4" cy="638.8" r="2.0"/><circle cx="199.8" cy="626.7" r="2.0"/><circle cx="324.5" cy="627.1" r="2.0"/><circle cx="257.0" cy="637.2" r="2.0"/><circle cx="291.2" cy="633.2" r="2.0"/><circle cx="321.6" cy="627.8" r="2.0"/><circle cx="148.7" cy="638.5" r="2.0"/><circle cx="282.0" cy="640.4" r="2.0"/><circle cx="163.2" cy="642.9" r="2.0"/><circle cx="261.5" cy="626.0" r="2.0"/><circle cx="355.8" cy="641.6" r="2.0"/><circle cx="286.5" cy="637.2" r="2.0"/><circle cx="272.7" cy="637.6" r="2.0"/><circle cx="346.7" cy="622.8" r="2.0"/><circle cx="129.9" cy="632.6" r="2.0"/><circle cx="147.0" cy="642.7" r="2.0"/><circle cx="188.1" cy="627.5" r="2.0"/><circle cx="361.4" cy="641.7" r="2.0"/><circle cx="198.9" cy="642.7" r="2.0"/><circle cx="250.9" cy="636.0" r="2.0"/><circle cx="209.5" cy="639.1" r="2.0"/><circle cx="314.1" cy="626.8" r="2.0"/><circle cx="187.5" cy="636.3" r="2.0"/><circle cx="269.4" cy="630.1" r="2.0"/><circle cx="358.3" cy="637.2" r="2.0"/><circle cx="288.0" cy="634.8" r="2.0"/><circle cx="314.0" cy="641.4" r="2.0"/><circle cx="160.9" cy="642.1" r="2.0"/><circle cx="346.7" cy="639.7" r="2.0"/><circle cx="237.6" cy="641.8" r="2.0"/><circle cx="197.3" cy="642.8" r="2.0"/><circle cx="256.7" cy="641.6" r="2.0"/><circle cx="271.2" cy="639.7" r="2.0"/><circle cx="173.8" cy="634.1" r="2.0"/><circle cx="207.6" cy="639.9" r="2.0"/><circle cx="130.6" cy="642.5" r="2.0"/><circle cx="336.7" cy="638.7" r="2.0"/><circle cx="137.2" cy="641.3" r="2.0"/><circle cx="236.4" cy="624.6" r="2.0"/><circle cx="167.5" cy="623.5" r="2.0"/><circle cx="236.6" cy="637.3" r="2.0"/><circle cx="315.7" cy="637.1" r="2.0"/><circle cx="132.1" cy="635.6" r="2.0"/><circle cx="278.9" cy="633.2" r="2.0"/><circle cx="185.9" cy="621.4" r="2.0"/><circle cx="329.8" cy="622.7" r="2.0"/><circle cx="226.6" cy="628.5" r="2.0"/><circle cx="295.6" cy="641.1" r="2.0"/><circle cx="124.6" cy="641.4" r="2.0"/><circle cx="147.1" cy="642.4" r="2.0"/><circle cx="205.9" cy="626.9" r="2.0"/><circle cx="194.0" cy="633.3" r="2.0"/><circle cx="120.6" cy="640.9" r="2.0"/><circle cx="353.0" cy="642.9" r="2.0"/><circle cx="247.2" cy="629.1" r="2.0"/><circle cx="312.1" cy="629.4" r="2.0"/><circle cx="215.8" cy="629.2" r="2.0"/><circle cx="320.8" cy="628.6" r="2.0"/><circle cx="359.6" cy="642.0" r="2.0"/><circle cx="350.8" cy="636.9" r="2.0"/><circle cx="290.8" cy="640.1" r="2.0"/><circle cx="340.9" cy="642.8" r="2.0"/><circle cx="259.3" cy="640.4" r="2.0"/><circle cx="213.2" cy="638.1" r="2.0"/><circle cx="279.0" cy="629.1" r="2.0"/><circle cx="207.3" cy="632.9" r="2.0"/><circle cx="204.7" cy="638.7" r="2.0"/><circle cx="339.8" cy="638.5" r="2.0"/><circle cx="141.1" cy="639.2" r="2.0"/><circle cx="299.7" cy="640.6" r="2.0"/><circle cx="300.1" cy="633.9" r="2.0"/><circle cx="284.7" cy="641.1" r="2.0"/><circle cx="143.9" cy="641.7" r="2.0"/><circle cx="203.8" cy="635.4" r="2.0"/><circle cx="120.3" cy="636.5" r="2.0"/><circle cx="216.8" cy="638.9" r="2.0"/><circle cx="249.6" cy="625.7" r="2.0"/><circle cx="168.1" cy="623.1" r="2.0"/><circle cx="196.6" cy="626.9" r="2.0"/><circle cx="144.5" cy="626.9" r="2.0"/><circle cx="223.4" cy="625.5" r="2.0"/><circle cx="171.8" cy="635.9" r="2.0"/><circle cx="291.0" cy="641.1" r="2.0"/><circle cx="185.0" cy="629.0" r="2.0"/><circle cx="350.2" cy="638.5" r="2.0"/><circle cx="162.9" cy="638.8" r="2.0"/><circle cx="360.4" cy="641.4" r="2.0"/><circle cx="273.5" cy="638.0" r="2.0"/><circle cx="275.7" cy="640.6" r="2.0"/><circle cx="269.0" cy="627.3" r="2.0"/><circle cx="327.8" cy="632.0" r="2.0"/><circle cx="241.7" cy="634.3" r="2.0"/><circle cx="146.0" cy="630.1" r="2.0"/><circle cx="287.0" cy="636.6" r="2.0"/><circle cx="281.0" cy="637.2" r="2.0"/><circle cx="212.2" cy="640.4" r="2.0"/><circle cx="265.2" cy="634.2" r="2.0"/><circle cx="244.2" cy="642.7" r="2.0"/><circle cx="271.7" cy="636.7" r="2.0"/><circle cx="263.4" cy="633.8" r="2.0"/><circle cx="346.2" cy="641.3" r="2.0"/><circle cx="232.8" cy="624.7" r="2.0"/><circle cx="298.8" cy="639.1" r="2.0"/><circle cx="298.5" cy="624.8" r="2.0"/><circle cx="216.5" cy="627.7" r="2.0"/><circle cx="149.0" cy="626.8" r="2.0"/><circle cx="238.3" cy="640.3" r="2.0"/><circle cx="323.9" cy="631.5" r="2.0"/><circle cx="347.7" cy="627.1" r="2.0"/><circle cx="313.4" cy="634.6" r="2.0"/><circle cx="361.5" cy="642.4" r="2.0"/><circle cx="331.2" cy="630.0" r="2.0"/><circle cx="179.4" cy="625.3" r="2.0"/><circle cx="229.2" cy="635.0" r="2.0"/><circle cx="330.1" cy="640.6" r="2.0"/><circle cx="186.5" cy="630.0" r="2.0"/><circle cx="136.0" cy="635.5" r="2.0"/><circle cx="310.8" cy="635.1" r="2.0"/><circle cx="177.2" cy="625.5" r="2.0"/><circle cx="327.5" cy="628.5" r="2.0"/><circle cx="252.6" cy="626.8" r="2.0"/><circle cx="313.2" cy="641.3" r="2.0"/><circle cx="207.6" cy="642.1" r="2.0"/><circle cx="127.0" cy="639.0" r="2.0"/><circle cx="329.9" cy="626.9" r="2.0"/><circle cx="146.8" cy="641.3" r="2.0"/><circle cx="213.2" cy="628.2" r="2.0"/><circle cx="269.2" cy="626.9" r="2.0"/><circle cx="135.6" cy="626.8" r="2.0"/><circle cx="168.7" cy="630.3" r="2.0"/><circle cx="332.8" cy="629.6" r="2.0"/><circle cx="166.3" cy="629.3" r="2.0"/><circle cx="223.5" cy="642.8" r="2.0"/><circle cx="201.2" cy="638.0" r="2.0"/><circle cx="272.3" cy="639.6" r="2.0"/><circle cx="265.8" cy="631.7" r="2.0"/><circle cx="162.3" cy="641.9" r="2.0"/><circle cx="288.0" cy="636.3" r="2.0"/><circle cx="149.6" cy="642.0" r="2.0"/><circle cx="348.6" cy="632.4" r="2.0"/><circle cx="205.6" cy="640.3" r="2.0"/><circle cx="361.7" cy="630.5" r="2.0"/><circle cx="298.4" cy="638.3" r="2.0"/><circle cx="194.0" cy="635.9" r="2.0"/><circle cx="153.8" cy="634.1" r="2.0"/><circle cx="222.1" cy="628.9" r="2.0"/><circle cx="218.2" cy="636.5" r="2.0"/><circle cx="242.1" cy="626.0" r="2.0"/><circle cx="202.9" cy="628.3" r="2.0"/><circle cx="175.6" cy="631.7" r="2.0"/><circle cx="187.8" cy="623.4" r="2.0"/><circle cx="188.2" cy="623.9" r="2.0"/><circle cx="283.8" cy="636.6" r="2.0"/><circle cx="346.8" cy="637.2" r="2.0"/><circle cx="300.1" cy="632.6" r="2.0"/><circle cx="227.9" cy="642.4" r="2.0"/><circle cx="220.7" cy="639.6" r="2.0"/><circle cx="226.0" cy="625.7" r="2.0"/><circle cx="189.8" cy="628.5" r="2.0"/><circle cx="282.7" cy="640.2" r="2.0"/><circle cx="218.8" cy="641.7" r="2.0"/><circle cx="337.4" cy="639.7" r="2.0"/><circle cx="221.1" cy="638.6" r="2.0"/><circle cx="319.0" cy="626.5" r="2.0"/><circle cx="262.7" cy="634.8" r="2.0"/><circle cx="142.4" cy="628.8" r="2.0"/><circle cx="139.7" cy="638.7" r="2.0"/><circle cx="209.7" cy="631.0" r="2.0"/><circle cx="282.0" cy="638.6" r="2.0"/><circle cx="338.0" cy="623.9" r="2.0"/><circle cx="123.7" cy="634.1" r="2.0"/><circle cx="233.0" cy="638.2" r="2.0"/><circle cx="231.9" cy="639.0" r="2.0"/><circle cx="282.4" cy="633.6" r="2.0"/><circle cx="355.7" cy="623.1" r="2.0"/><circle cx="361.2" cy="637.1" r="2.0"/><circle cx="321.0" cy="631.5" r="2.0"/><circle cx="289.8" cy="624.6" r="2.0"/><circle cx="134.3" cy="637.1" r="2.0"/><circle cx="216.3" cy="632.5" r="2.0"/><circle cx="171.4" cy="619.8" r="2.0"/><circle cx="169.3" cy="636.8" r="2.0"/><circle cx="153.0" cy="638.2" r="2.0"/><circle cx="299.7" cy="642.3" r="2.0"/><circle cx="158.9" cy="633.8" r="2.0"/><circle cx="270.6" cy="630.6" r="2.0"/><circle cx="180.1" cy="625.2" r="2.0"/><circle cx="297.1" cy="629.9" r="2.0"/><circle cx="147.3" cy="637.0" r="2.0"/><circle cx="121.9" cy="629.6" r="2.0"/><circle cx="349.4" cy="625.3" r="2.0"/><circle cx="123.9" cy="638.9" r="2.0"/><circle cx="249.3" cy="635.0" r="2.0"/><circle cx="145.3" cy="631.0" r="2.0"/><circle cx="191.9" cy="633.5" r="2.0"/><circle cx="148.5" cy="635.3" r="2.0"/><circle cx="149.8" cy="642.3" r="2.0"/><circle cx="243.5" cy="639.4" r="2.0"/><circle cx="308.5" cy="639.8" r="2.0"/><circle cx="219.4" cy="642.5" r="2.0"/><circle cx="171.3" cy="634.9" r="2.0"/><circle cx="254.7" cy="636.5" r="2.0"/><circle cx="326.4" cy="641.9" r="2.0"/><circle cx="326.3" cy="641.3" r="2.0"/><circle cx="355.7" cy="634.4" r="2.0"/><circle cx="217.6" cy="633.4" r="2.0"/><circle cx="329.6" cy="623.5" r="2.0"/><circle cx="219.3" cy="642.9" r="2.0"/><circle cx="155.7" cy="630.4" r="2.0"/><circle cx="297.9" cy="631.3" r="2.0"/><circle cx="156.4" cy="636.0" r="2.0"/><circle cx="125.0" cy="642.1" r="2.0"/><circle cx="191.7" cy="620.5" r="2.0"/><circle cx="275.5" cy="628.2" r="2.0"/><circle cx="129.3" cy="637.9" r="2.0"/><circle cx="137.2" cy="640.2" r="2.0"/><circle cx="145.4" cy="628.3" r="2.0"/><circle cx="198.6" cy="634.0" r="2.0"/><circle cx="278.2" cy="627.3" r="2.0"/><circle cx="349.9" cy="633.4" r="2.0"/><circle cx="240.7" cy="626.9" r="2.0"/><circle cx="214.6" cy="639.3" r="2.0"/><circle cx="299.1" cy="639.9" r="2.0"/><circle cx="208.1" cy="637.0" r="2.0"/><circle cx="234.8" cy="638.3" r="2.0"/><circle cx="223.5" cy="636.6" r="2.0"/><circle cx="130.1" cy="630.1" r="2.0"/><circle cx="133.1" cy="636.0" r="2.0"/><circle cx="252.1" cy="637.6" r="2.0"/><circle cx="172.6" cy="641.9" r="2.0"/><circle cx="209.1" cy="639.0" r="2.0"/><circle cx="236.6" cy="640.4" r="2.0"/><circle cx="301.6" cy="635.2" r="2.0"/><circle cx="120.2" cy="638.1" r="2.0"/><circle cx="354.7" cy="642.9" r="2.0"/><circle cx="263.4" cy="625.5" r="2.0"/><circle cx="207.6" cy="633.7" r="2.0"/><circle cx="208.4" cy="639.3" r="2.0"/><circle cx="267.3" cy="633.9" r="2.0"/><circle cx="195.2" cy="633.8" r="2.0"/><circle cx="244.5" cy="630.4" r="2.0"/><circle cx="131.0" cy="642.2" r="2.0"/><circle cx="179.7" cy="638.9" r="2.0"/><circle cx="312.9" cy="636.5" r="2.0"/><circle cx="328.7" cy="636.9" r="2.0"/><circle cx="188.0" cy="629.0" r="2.0"/><circle cx="138.9" cy="626.9" r="2.0"/><circle cx="321.7" cy="638.4" r="2.0"/><circle cx="195.8" cy="625.0" r="2.0"/><circle cx="311.1" cy="631.7" r="2.0"/><circle cx="131.9" cy="631.6" r="2.0"/><circle cx="129.7" cy="634.3" r="2.0"/><circle cx="253.3" cy="626.3" r="2.0"/><circle cx="274.5" cy="642.8" r="2.0"/><circle cx="346.9" cy="629.0" r="2.0"/><circle cx="260.1" cy="642.9" r="2.0"/><circle cx="298.5" cy="637.2" r="2.0"/><circle cx="284.5" cy="624.9" r="2.0"/><circle cx="342.6" cy="642.3" r="2.0"/><circle cx="309.4" cy="636.2" r="2.0"/><circle cx="302.1" cy="637.4" r="2.0"/><circle cx="227.7" cy="636.9" r="2.0"/><circle cx="146.9" cy="639.4" r="2.0"/><circle cx="298.0" cy="642.4" r="2.0"/><circle cx="146.4" cy="630.1" r="2.0"/><circle cx="281.2" cy="634.7" r="2.0"/><circle cx="145.7" cy="642.0" r="2.0"/><circle cx="194.0" cy="620.9" r="2.0"/><circle cx="255.2" cy="626.4" r="2.0"/><circle cx="169.7" cy="635.7" r="2.0"/><circle cx="249.4" cy="628.4" r="2.0"/><circle cx="148.2" cy="629.3" r="2.0"/><circle cx="233.7" cy="642.7" r="2.0"/><circle cx="223.8" cy="638.0" r="2.0"/><circle cx="283.2" cy="626.3" r="2.0"/><circle cx="238.9" cy="631.8" r="2.0"/><circle cx="213.1" cy="629.8" r="2.0"/><circle cx="143.8" cy="632.0" r="2.0"/><circle cx="158.8" cy="635.0" r="2.0"/><circle cx="167.5" cy="637.3" r="2.0"/><circle cx="158.1" cy="638.9" r="2.0"/><circle cx="262.9" cy="635.3" r="2.0"/><circle cx="213.2" cy="634.2" r="2.0"/><circle cx="324.4" cy="637.8" r="2.0"/><circle cx="261.0" cy="636.1" r="2.0"/><circle cx="358.2" cy="638.4" r="2.0"/><circle cx="288.9" cy="640.3" r="2.0"/><circle cx="182.0" cy="627.5" r="2.0"/><circle cx="258.9" cy="640.0" r="2.0"/><circle cx="133.7" cy="630.3" r="2.0"/><circle cx="210.5" cy="631.2" r="2.0"/><circle cx="224.0" cy="633.3" r="2.0"/><circle cx="255.1" cy="625.1" r="2.0"/><circle cx="340.9" cy="635.8" r="2.0"/><circle cx="237.3" cy="640.4" r="2.0"/><circle cx="302.5" cy="642.0" r="2.0"/><circle cx="193.1" cy="624.1" r="2.0"/><circle cx="126.6" cy="632.8" r="2.0"/><circle cx="257.2" cy="634.7" r="2.0"/><circle cx="199.6" cy="641.1" r="2.0"/><circle cx="351.0" cy="628.7" r="2.0"/><circle cx="315.4" cy="642.0" r="2.0"/><circle cx="310.1" cy="640.3" r="2.0"/><circle cx="166.8" cy="632.8" r="2.0"/><circle cx="267.4" cy="641.8" r="2.0"/><circle cx="305.4" cy="633.1" r="2.0"/><circle cx="338.3" cy="624.6" r="2.0"/><circle cx="286.9" cy="638.2" r="2.0"/><circle cx="351.0" cy="629.8" r="2.0"/><circle cx="189.3" cy="623.8" r="2.0"/><circle cx="296.1" cy="639.8" r="2.0"/><circle cx="179.1" cy="642.8" r="2.0"/><circle cx="249.6" cy="640.0" r="2.0"/><circle cx="189.8" cy="639.2" r="2.0"/><circle cx="150.2" cy="636.8" r="2.0"/><circle cx="184.8" cy="638.6" r="2.0"/><circle cx="186.0" cy="633.5" r="2.0"/><circle cx="332.1" cy="641.2" r="2.0"/><circle cx="328.6" cy="626.4" r="2.0"/><circle cx="267.3" cy="634.8" r="2.0"/><circle cx="297.8" cy="635.0" r="2.0"/><circle cx="279.7" cy="626.5" r="2.0"/><circle cx="307.9" cy="639.6" r="2.0"/><circle cx="131.3" cy="628.0" r="2.0"/><circle cx="206.9" cy="625.9" r="2.0"/><circle cx="175.2" cy="634.8" r="2.0"/><circle cx="208.8" cy="630.9" r="2.0"/><circle cx="349.2" cy="634.8" r="2.0"/><circle cx="256.7" cy="638.5" r="2.0"/><circle cx="174.9" cy="621.0" r="2.0"/><circle cx="145.0" cy="627.9" r="2.0"/><circle cx="279.0" cy="642.4" r="2.0"/><circle cx="338.9" cy="642.0" r="2.0"/><circle cx="256.5" cy="641.9" r="2.0"/><circle cx="360.3" cy="638.7" r="2.0"/><circle cx="331.7" cy="642.4" r="2.0"/><circle cx="281.3" cy="642.4" r="2.0"/><circle cx="125.3" cy="635.2" r="2.0"/><circle cx="358.8" cy="630.7" r="2.0"/><circle cx="327.6" cy="628.2" r="2.0"/><circle cx="245.7" cy="642.3" r="2.0"/><circle cx="247.1" cy="641.0" r="2.0"/><circle cx="247.0" cy="638.4" r="2.0"/><circle cx="240.3" cy="640.8" r="2.0"/><circle cx="290.7" cy="637.3" r="2.0"/><circle cx="237.0" cy="642.3" r="2.0"/><circle cx="237.3" cy="634.6" r="2.0"/><circle cx="356.3" cy="633.5" r="2.0"/><circle cx="151.0" cy="639.7" r="2.0"/><circle cx="200.2" cy="628.3" r="2.0"/><circle cx="348.0" cy="623.2" r="2.0"/><circle cx="350.7" cy="624.5" r="2.0"/><circle cx="328.4" cy="624.3" r="2.0"/><circle cx="122.9" cy="636.7" r="2.0"/><circle cx="262.7" cy="631.9" r="2.0"/><circle cx="268.1" cy="633.4" r="2.0"/><circle cx="346.6" cy="642.2" r="2.0"/><circle cx="245.2" cy="625.5" r="2.0"/><circle cx="125.8" cy="642.1" r="2.0"/><circle cx="330.9" cy="623.7" r="2.0"/><circle cx="123.9" cy="642.7" r="2.0"/><circle cx="321.3" cy="630.6" r="2.0"/><circle cx="245.3" cy="634.1" r="2.0"/><circle cx="303.6" cy="627.6" r="2.0"/><circle cx="118.2" cy="642.5" r="2.0"/><circle cx="312.6" cy="623.2" r="2.0"/><circle cx="322.2" cy="636.8" r="2.0"/><circle cx="200.2" cy="637.3" r="2.0"/><circle cx="121.7" cy="631.4" r="2.0"/><circle cx="182.3" cy="631.5" r="2.0"/><circle cx="246.9" cy="638.7" r="2.0"/><circle cx="283.4" cy="636.6" r="2.0"/><circle cx="175.4" cy="623.1" r="2.0"/><circle cx="161.0" cy="641.6" r="2.0"/><circle cx="180.1" cy="634.2" r="2.0"/><circle cx="310.0" cy="638.3" r="2.0"/><circle cx="176.4" cy="629.7" r="2.0"/><circle cx="181.8" cy="633.1" r="2.0"/><circle cx="180.5" cy="623.2" r="2.0"/><circle cx="163.2" cy="640.6" r="2.0"/><circle cx="191.9" cy="637.7" r="2.0"/><circle cx="296.0" cy="632.1" r="2.0"/><circle cx="311.6" cy="634.0" r="2.0"/><circle cx="137.3" cy="631.6" r="2.0"/><circle cx="177.9" cy="639.9" r="2.0"/><circle cx="219.5" cy="624.8" r="2.0"/><circle cx="208.8" cy="638.3" r="2.0"/><circle cx="341.2" cy="622.8" r="2.0"/><circle cx="212.9" cy="641.7" r="2.0"/><circle cx="311.5" cy="628.3" r="2.0"/><circle cx="200.8" cy="625.8" r="2.0"/><circle cx="211.0" cy="639.5" r="2.0"/><circle cx="263.4" cy="630.6" r="2.0"/><circle cx="234.6" cy="628.9" r="2.0"/><circle cx="121.4" cy="636.5" r="2.0"/><circle cx="211.2" cy="642.4" r="2.0"/><circle cx="342.1" cy="641.4" r="2.0"/><circle cx="168.4" cy="623.2" r="2.0"/><circle cx="353.3" cy="624.4" r="2.0"/><circle cx="201.8" cy="621.6" r="2.0"/><circle cx="152.7" cy="632.5" r="2.0"/><circle cx="349.7" cy="640.7" r="2.0"/><circle cx="151.2" cy="633.2" r="2.0"/><circle cx="334.2" cy="629.6" r="2.0"/><circle cx="350.6" cy="635.9" r="2.0"/><circle cx="209.2" cy="641.8" r="2.0"/><circle cx="184.9" cy="621.4" r="2.0"/><circle cx="135.6" cy="641.2" r="2.0"/><circle cx="203.1" cy="642.5" r="2.0"/><circle cx="193.2" cy="640.5" r="2.0"/><circle cx="148.1" cy="636.0" r="2.0"/><circle cx="250.4" cy="634.4" r="2.0"/><circle cx="304.8" cy="634.3" r="2.0"/><circle cx="350.0" cy="642.2" r="2.0"/><circle cx="172.6" cy="642.2" r="2.0"/><circle cx="193.8" cy="626.7" r="2.0"/><circle cx="344.4" cy="634.8" r="2.0"/><circle cx="157.3" cy="639.2" r="2.0"/><circle cx="257.3" cy="639.4" r="2.0"/><circle cx="312.2" cy="623.3" r="2.0"/><circle cx="230.6" cy="633.6" r="2.0"/><circle cx="325.3" cy="635.6" r="2.0"/><circle cx="164.7" cy="627.8" r="2.0"/><circle cx="357.6" cy="642.8" r="2.0"/><circle cx="304.9" cy="637.0" r="2.0"/><circle cx="130.7" cy="641.5" r="2.0"/><circle cx="160.4" cy="632.1" r="2.0"/><circle cx="169.8" cy="642.8" r="2.0"/><circle cx="171.8" cy="625.6" r="2.0"/><circle cx="240.3" cy="632.6" r="2.0"/><circle cx="231.9" cy="641.1" r="2.0"/><circle cx="121.7" cy="639.6" r="2.0"/><circle cx="128.2" cy="640.2" r="2.0"/><circle cx="269.6" cy="638.1" r="2.0"/><circle cx="233.9" cy="633.2" r="2.0"/><circle cx="195.7" cy="637.1" r="2.0"/><circle cx="334.6" cy="633.1" r="2.0"/><circle cx="220.2" cy="634.9" r="2.0"/><circle cx="230.8" cy="638.7" r="2.0"/><circle cx="341.9" cy="640.0" r="2.0"/><circle cx="347.3" cy="626.4" r="2.0"/><circle cx="334.1" cy="641.1" r="2.0"/><circle cx="242.7" cy="624.9" r="2.0"/><circle cx="188.7" cy="640.7" r="2.0"/><circle cx="295.2" cy="640.3" r="2.0"/><circle cx="261.0" cy="641.4" r="2.0"/><circle cx="350.1" cy="639.2" r="2.0"/><circle cx="141.7" cy="633.1" r="2.0"/><circle cx="203.0" cy="632.2" r="2.0"/><circle cx="239.8" cy="626.4" r="2.0"/><circle cx="244.0" cy="637.9" r="2.0"/><circle cx="118.4" cy="636.6" r="2.0"/><circle cx="183.9" cy="631.8" r="2.0"/><circle cx="272.8" cy="636.4" r="2.0"/><circle cx="140.0" cy="636.5" r="2.0"/><circle cx="236.0" cy="632.8" r="2.0"/><circle cx="355.7" cy="639.2" r="2.0"/><circle cx="226.5" cy="642.2" r="2.0"/><circle cx="314.0" cy="640.0" r="2.0"/><circle cx="321.1" cy="627.9" r="2.0"/><circle cx="180.4" cy="622.5" r="2.0"/><circle cx="241.5" cy="637.1" r="2.0"/><circle cx="254.0" cy="625.9" r="2.0"/><circle cx="238.0" cy="636.0" r="2.0"/><circle cx="189.2" cy="624.3" r="2.0"/><circle cx="241.2" cy="638.6" r="2.0"/><circle cx="166.1" cy="640.0" r="2.0"/><circle cx="322.4" cy="627.7" r="2.0"/><circle cx="357.8" cy="624.7" r="2.0"/><circle cx="285.9" cy="629.4" r="2.0"/><circle cx="292.4" cy="629.1" r="2.0"/><circle cx="314.3" cy="640.9" r="2.0"/><circle cx="317.6" cy="638.8" r="2.0"/><circle cx="177.8" cy="622.0" r="2.0"/><circle cx="123.6" cy="636.3" r="2.0"/><circle cx="202.1" cy="625.8" r="2.0"/><circle cx="267.6" cy="626.7" r="2.0"/><circle cx="346.5" cy="631.6" r="2.0"/><circle cx="133.8" cy="633.4" r="2.0"/><circle cx="144.8" cy="627.0" r="2.0"/><circle cx="331.5" cy="638.7" r="2.0"/><circle cx="163.6" cy="632.9" r="2.0"/><circle cx="303.7" cy="622.9" r="2.0"/><circle cx="270.6" cy="641.8" r="2.0"/><circle cx="296.0" cy="642.5" r="2.0"/><circle cx="330.6" cy="628.6" r="2.0"/><circle cx="310.4" cy="625.9" r="2.0"/><circle cx="257.4" cy="625.9" r="2.0"/><circle cx="274.6" cy="635.9" r="2.0"/><circle cx="212.2" cy="638.4" r="2.0"/><circle cx="123.6" cy="641.5" r="2.0"/><circle cx="312.9" cy="640.1" r="2.0"/><circle cx="278.1" cy="629.9" r="2.0"/><circle cx="288.1" cy="635.4" r="2.0"/><circle cx="195.4" cy="638.8" r="2.0"/><circle cx="163.9" cy="633.8" r="2.0"/><circle cx="286.1" cy="626.0" r="2.0"/><circle cx="199.0" cy="621.7" r="2.0"/><circle cx="341.3" cy="639.1" r="2.0"/><circle cx="351.3" cy="632.2" r="2.0"/><circle cx="353.8" cy="628.5" r="2.0"/><circle cx="199.7" cy="638.7" r="2.0"/><circle cx="246.0" cy="635.9" r="2.0"/><circle cx="126.7" cy="629.5" r="2.0"/><circle cx="249.2" cy="636.2" r="2.0"/><circle cx="300.4" cy="639.8" r="2.0"/><circle cx="166.8" cy="631.6" r="2.0"/><circle cx="177.1" cy="637.7" r="2.0"/><circle cx="135.1" cy="642.6" r="2.0"/><circle cx="205.1" cy="633.0" r="2.0"/><circle cx="350.5" cy="631.7" r="2.0"/><circle cx="219.5" cy="637.4" r="2.0"/><circle cx="175.7" cy="634.3" r="2.0"/><circle cx="353.0" cy="641.7" r="2.0"/><circle cx="224.1" cy="631.9" r="2.0"/><circle cx="304.8" cy="633.7" r="2.0"/><circle cx="275.1" cy="626.1" r="2.0"/><circle cx="339.1" cy="639.7" r="2.0"/><circle cx="250.6" cy="624.6" r="2.0"/><circle cx="247.3" cy="641.0" r="2.0"/><circle cx="305.7" cy="642.5" r="2.0"/><circle cx="154.8" cy="635.6" r="2.0"/><circle cx="184.8" cy="627.9" r="2.0"/><circle cx="296.1" cy="639.0" r="2.0"/><circle cx="305.9" cy="631.5" r="2.0"/><circle cx="291.0" cy="636.5" r="2.0"/><circle cx="224.0" cy="642.0" r="2.0"/><circle cx="234.3" cy="625.7" r="2.0"/><circle cx="335.7" cy="642.5" r="2.0"/><circle cx="135.4" cy="640.1" r="2.0"/><circle cx="288.1" cy="636.9" r="2.0"/><circle cx="149.3" cy="637.7" r="2.0"/><circle cx="258.4" cy="630.6" r="2.0"/><circle cx="216.7" cy="632.6" r="2.0"/><circle cx="284.9" cy="633.4" r="2.0"/><circle cx="129.4" cy="632.6" r="2.0"/><circle cx="149.5" cy="642.6" r="2.0"/><circle cx="234.0" cy="642.8" r="2.0"/><circle cx="135.9" cy="638.3" r="2.0"/><circle cx="232.8" cy="642.0" r="2.0"/><circle cx="351.7" cy="626.5" r="2.0"/><circle cx="237.2" cy="633.9" r="2.0"/><circle cx="195.3" cy="620.0" r="2.0"/><circle cx="147.4" cy="639.6" r="2.0"/><circle cx="172.1" cy="623.6" r="2.0"/><circle cx="242.7" cy="637.4" r="2.0"/><circle cx="215.7" cy="627.3" r="2.0"/><circle cx="181.1" cy="625.8" r="2.0"/><circle cx="291.5" cy="636.7" r="2.0"/><circle cx="207.6" cy="636.9" r="2.0"/><circle cx="229.0" cy="639.0" r="2.0"/><circle cx="270.8" cy="637.4" r="2.0"/><circle cx="192.4" cy="626.3" r="2.0"/><circle cx="229.5" cy="636.2" r="2.0"/><circle cx="333.5" cy="635.9" r="2.0"/><circle cx="210.1" cy="627.0" r="2.0"/><circle cx="357.2" cy="628.2" r="2.0"/><circle cx="216.4" cy="632.2" r="2.0"/><circle cx="299.5" cy="639.3" r="2.0"/><circle cx="295.4" cy="625.8" r="2.0"/><circle cx="278.7" cy="632.2" r="2.0"/><circle cx="224.6" cy="632.6" r="2.0"/><circle cx="173.4" cy="626.4" r="2.0"/><circle cx="250.1" cy="625.0" r="2.0"/><circle cx="201.7" cy="628.1" r="2.0"/><circle cx="122.1" cy="637.9" r="2.0"/><circle cx="305.8" cy="639.6" r="2.0"/><circle cx="268.3" cy="640.5" r="2.0"/><circle cx="215.6" cy="624.7" r="2.0"/><circle cx="166.2" cy="622.2" r="2.0"/><circle cx="132.6" cy="635.0" r="2.0"/><circle cx="319.2" cy="626.8" r="2.0"/><circle cx="213.9" cy="633.9" r="2.0"/><circle cx="292.5" cy="630.2" r="2.0"/><circle cx="300.9" cy="633.1" r="2.0"/><circle cx="179.6" cy="638.6" r="2.0"/><circle cx="255.5" cy="639.6" r="2.0"/><circle cx="359.8" cy="642.1" r="2.0"/><circle cx="309.3" cy="640.9" r="2.0"/><circle cx="296.0" cy="637.1" r="2.0"/><circle cx="185.2" cy="639.4" r="2.0"/><circle cx="247.4" cy="639.9" r="2.0"/><circle cx="158.9" cy="639.1" r="2.0"/><circle cx="336.9" cy="638.8" r="2.0"/><circle cx="188.8" cy="638.0" r="2.0"/><circle cx="220.9" cy="642.0" r="2.0"/><circle cx="266.4" cy="640.1" r="2.0"/><circle cx="247.8" cy="636.8" r="2.0"/><circle cx="257.5" cy="637.1" r="2.0"/><circle cx="204.4" cy="638.3" r="2.0"/><circle cx="136.5" cy="641.1" r="2.0"/><circle cx="287.5" cy="638.7" r="2.0"/><circle cx="321.0" cy="640.6" r="2.0"/><circle cx="185.0" cy="640.7" r="2.0"/><circle cx="249.6" cy="642.8" r="2.0"/><circle cx="209.8" cy="638.9" r="2.0"/><circle cx="154.4" cy="641.0" r="2.0"/><circle cx="331.8" cy="637.2" r="2.0"/><circle cx="179.2" cy="641.8" r="2.0"/><circle cx="146.8" cy="642.4" r="2.0"/><circle cx="312.5" cy="638.4" r="2.0"/><circle cx="182.8" cy="639.9" r="2.0"/><circle cx="288.4" cy="642.7" r="2.0"/><circle cx="318.6" cy="637.6" r="2.0"/><circle cx="169.8" cy="638.6" r="2.0"/><circle cx="289.3" cy="640.8" r="2.0"/><circle cx="333.2" cy="641.6" r="2.0"/><circle cx="234.1" cy="641.0" r="2.0"/><circle cx="226.3" cy="637.9" r="2.0"/><circle cx="257.6" cy="639.2" r="2.0"/><circle cx="359.8" cy="641.5" r="2.0"/><circle cx="172.6" cy="639.1" r="2.0"/><circle cx="154.8" cy="637.0" r="2.0"/><circle cx="201.6" cy="640.2" r="2.0"/><circle cx="223.6" cy="637.8" r="2.0"/><circle cx="342.3" cy="638.8" r="2.0"/><circle cx="160.0" cy="640.7" r="2.0"/><circle cx="291.1" cy="641.6" r="2.0"/><circle cx="334.3" cy="637.6" r="2.0"/><circle cx="173.5" cy="640.7" r="2.0"/><circle cx="174.0" cy="638.5" r="2.0"/><circle cx="129.5" cy="638.6" r="2.0"/><circle cx="133.3" cy="637.8" r="2.0"/><circle cx="251.1" cy="639.3" r="2.0"/><circle cx="141.3" cy="642.6" r="2.0"/><circle cx="204.5" cy="636.9" r="2.0"/><circle cx="265.0" cy="637.6" r="2.0"/><circle cx="133.3" cy="642.3" r="2.0"/><circle cx="123.1" cy="638.6" r="2.0"/><circle cx="161.2" cy="641.2" r="2.0"/><circle cx="281.4" cy="638.6" r="2.0"/><circle cx="197.0" cy="640.0" r="2.0"/><circle cx="188.8" cy="639.5" r="2.0"/><circle cx="205.2" cy="640.7" r="2.0"/><circle cx="179.0" cy="641.1" r="2.0"/><circle cx="181.9" cy="642.8" r="2.0"/><circle cx="194.0" cy="639.3" r="2.0"/><circle cx="183.8" cy="642.2" r="2.0"/><circle cx="325.3" cy="640.0" r="2.0"/><circle cx="243.4" cy="641.0" r="2.0"/><circle cx="335.3" cy="638.3" r="2.0"/><circle cx="270.5" cy="638.9" r="2.0"/><circle cx="287.6" cy="639.8" r="2.0"/><circle cx="219.2" cy="640.5" r="2.0"/><circle cx="241.5" cy="640.0" r="2.0"/><circle cx="247.6" cy="639.6" r="2.0"/><circle cx="311.2" cy="637.4" r="2.0"/><circle cx="172.9" cy="642.8" r="2.0"/><circle cx="191.8" cy="642.7" r="2.0"/><circle cx="313.1" cy="639.1" r="2.0"/><circle cx="188.0" cy="641.7" r="2.0"/><circle cx="330.8" cy="637.8" r="2.0"/><circle cx="285.5" cy="638.7" r="2.0"/><circle cx="300.4" cy="640.1" r="2.0"/><circle cx="215.4" cy="639.5" r="2.0"/><circle cx="333.7" cy="636.8" r="2.0"/><circle cx="342.7" cy="637.8" r="2.0"/><circle cx="136.2" cy="641.4" r="2.0"/><circle cx="355.9" cy="639.6" r="2.0"/><circle cx="244.1" cy="641.0" r="2.0"/><circle cx="329.2" cy="639.7" r="2.0"/><circle cx="360.6" cy="642.4" r="2.0"/><circle cx="361.4" cy="642.8" r="2.0"/><circle cx="154.3" cy="640.5" r="2.0"/><circle cx="274.7" cy="642.2" r="2.0"/><circle cx="255.8" cy="637.2" r="2.0"/><circle cx="224.7" cy="638.2" r="2.0"/><circle cx="263.0" cy="639.3" r="2.0"/><circle cx="160.4" cy="640.1" r="2.0"/><circle cx="338.6" cy="638.8" r="2.0"/><circle cx="171.1" cy="640.2" r="2.0"/><circle cx="251.2" cy="640.8" r="2.0"/><circle cx="259.6" cy="639.0" r="2.0"/><circle cx="122.4" cy="641.6" r="2.0"/><circle cx="278.9" cy="641.6" r="2.0"/><circle cx="135.8" cy="638.2" r="2.0"/><circle cx="199.8" cy="637.0" r="2.0"/><circle cx="254.9" cy="642.3" r="2.0"/><circle cx="274.0" cy="641.3" r="2.0"/><circle cx="317.5" cy="638.5" r="2.0"/><circle cx="303.8" cy="642.5" r="2.0"/><circle cx="126.4" cy="638.0" r="2.0"/><circle cx="152.4" cy="641.7" r="2.0"/><circle cx="125.3" cy="641.9" r="2.0"/><circle cx="234.0" cy="637.0" r="2.0"/><circle cx="196.7" cy="641.3" r="2.0"/><circle cx="320.8" cy="641.8" r="2.0"/><circle cx="273.6" cy="639.1" r="2.0"/><circle cx="347.2" cy="642.6" r="2.0"/><circle cx="256.0" cy="640.6" r="2.0"/><circle cx="319.8" cy="641.4" r="2.0"/><circle cx="293.2" cy="641.8" r="2.0"/><circle cx="239.3" cy="637.0" r="2.0"/><circle cx="176.8" cy="641.2" r="2.0"/><circle cx="342.8" cy="638.8" r="2.0"/><circle cx="134.1" cy="641.8" r="2.0"/><circle cx="176.1" cy="641.1" r="2.0"/><circle cx="324.9" cy="638.6" r="2.0"/><circle cx="358.0" cy="638.8" r="2.0"/><circle cx="271.8" cy="640.6" r="2.0"/><circle cx="293.8" cy="639.9" r="2.0"/><circle cx="132.4" cy="639.9" r="2.0"/><circle cx="212.1" cy="639.7" r="2.0"/><circle cx="129.9" cy="642.7" r="2.0"/><circle cx="358.8" cy="640.6" r="2.0"/><circle cx="198.9" cy="642.0" r="2.0"/><circle cx="263.2" cy="637.3" r="2.0"/><circle cx="162.2" cy="639.8" r="2.0"/><circle cx="240.4" cy="638.2" r="2.0"/><circle cx="256.4" cy="641.4" r="2.0"/><circle cx="164.5" cy="638.5" r="2.0"/><circle cx="137.1" cy="637.6" r="2.0"/><circle cx="126.2" cy="641.7" r="2.0"/><circle cx="232.6" cy="637.7" r="2.0"/><circle cx="269.8" cy="638.3" r="2.0"/><circle cx="304.5" cy="638.5" r="2.0"/><circle cx="130.6" cy="637.8" r="2.0"/><circle cx="154.2" cy="641.9" r="2.0"/><circle cx="127.2" cy="642.7" r="2.0"/><circle cx="332.9" cy="640.6" r="2.0"/><circle cx="139.2" cy="642.6" r="2.0"/><circle cx="325.4" cy="639.2" r="2.0"/><circle cx="342.5" cy="642.7" r="2.0"/><circle cx="145.6" cy="641.1" r="2.0"/><circle cx="164.8" cy="642.2" r="2.0"/><circle cx="167.1" cy="639.0" r="2.0"/><circle cx="159.2" cy="641.9" r="2.0"/><circle cx="249.2" cy="640.6" r="2.0"/><circle cx="154.7" cy="639.4" r="2.0"/><circle cx="242.4" cy="640.5" r="2.0"/><circle cx="234.2" cy="642.7" r="2.0"/><circle cx="268.7" cy="641.7" r="2.0"/><circle cx="200.3" cy="642.8" r="2.0"/><circle cx="335.5" cy="639.3" r="2.0"/><circle cx="214.1" cy="639.6" r="2.0"/><circle cx="348.3" cy="642.1" r="2.0"/><circle cx="211.9" cy="638.6" r="2.0"/><circle cx="209.2" cy="638.6" r="2.0"/><circle cx="340.5" cy="642.6" r="2.0"/><circle cx="187.7" cy="641.1" r="2.0"/><circle cx="301.8" cy="638.1" r="2.0"/><circle cx="289.4" cy="637.2" r="2.0"/><circle cx="163.5" cy="640.5" r="2.0"/><circle cx="327.0" cy="638.2" r="2.0"/><circle cx="145.6" cy="636.9" r="2.0"/><circle cx="299.4" cy="637.6" r="2.0"/><circle cx="206.7" cy="639.2" r="2.0"/><circle cx="352.9" cy="637.4" r="2.0"/><circle cx="259.4" cy="637.5" r="2.0"/><circle cx="362.8" cy="637.8" r="2.0"/><circle cx="278.7" cy="637.0" r="2.0"/><circle cx="153.2" cy="640.4" r="2.0"/><circle cx="256.2" cy="642.1" r="2.0"/><circle cx="309.3" cy="642.5" r="2.0"/><circle cx="272.0" cy="641.2" r="2.0"/><circle cx="197.1" cy="639.2" r="2.0"/><circle cx="164.9" cy="640.2" r="2.0"/><circle cx="328.0" cy="636.9" r="2.0"/><circle cx="182.3" cy="640.7" r="2.0"/><circle cx="288.0" cy="641.7" r="2.0"/><circle cx="326.0" cy="641.7" r="2.0"/><circle cx="254.4" cy="640.8" r="2.0"/><circle cx="118.3" cy="642.9" r="2.0"/><circle cx="118.5" cy="640.9" r="2.0"/><circle cx="185.4" cy="636.8" r="2.0"/><circle cx="274.2" cy="642.5" r="2.0"/><circle cx="293.4" cy="641.5" r="2.0"/><circle cx="236.0" cy="638.5" r="2.0"/><circle cx="327.9" cy="637.2" r="2.0"/><circle cx="221.1" cy="641.0" r="2.0"/><circle cx="215.4" cy="641.0" r="2.0"/><circle cx="299.7" cy="640.1" r="2.0"/><circle cx="286.0" cy="642.0" r="2.0"/><circle cx="309.8" cy="637.0" r="2.0"/><circle cx="167.7" cy="639.1" r="2.0"/><circle cx="157.7" cy="642.7" r="2.0"/><circle cx="219.4" cy="641.8" r="2.0"/><circle cx="297.0" cy="639.4" r="2.0"/><circle cx="283.3" cy="637.0" r="2.0"/><circle cx="132.3" cy="642.3" r="2.0"/><circle cx="126.8" cy="640.1" r="2.0"/><circle cx="320.0" cy="638.7" r="2.0"/><circle cx="252.2" cy="637.7" r="2.0"/><circle cx="209.2" cy="642.2" r="2.0"/><circle cx="275.2" cy="642.7" r="2.0"/><circle cx="174.2" cy="642.7" r="2.0"/><circle cx="157.6" cy="642.5" r="2.0"/><circle cx="248.2" cy="642.1" r="2.0"/><circle cx="265.8" cy="637.9" r="2.0"/><circle cx="202.4" cy="642.2" r="2.0"/><circle cx="282.4" cy="638.4" r="2.0"/><circle cx="334.6" cy="639.5" r="2.0"/><circle cx="260.6" cy="637.6" r="2.0"/><circle cx="283.9" cy="636.9" r="2.0"/><circle cx="188.3" cy="638.2" r="2.0"/><circle cx="273.0" cy="640.0" r="2.0"/><circle cx="120.6" cy="640.0" r="2.0"/><circle cx="182.5" cy="639.2" r="2.0"/><circle cx="242.8" cy="639.8" r="2.0"/><circle cx="132.4" cy="642.1" r="2.0"/><circle cx="266.7" cy="638.7" r="2.0"/><circle cx="360.7" cy="638.0" r="2.0"/><circle cx="189.1" cy="640.1" r="2.0"/><circle cx="241.9" cy="638.0" r="2.0"/><circle cx="214.7" cy="637.3" r="2.0"/><circle cx="236.6" cy="640.5" r="2.0"/><circle cx="235.5" cy="640.7" r="2.0"/><circle cx="362.9" cy="642.6" r="2.0"/><circle cx="215.9" cy="642.4" r="2.0"/><circle cx="284.1" cy="642.0" r="2.0"/><circle cx="154.5" cy="640.3" r="2.0"/><circle cx="265.5" cy="638.2" r="2.0"/><circle cx="226.9" cy="641.1" r="2.0"/><circle cx="208.1" cy="637.5" r="2.0"/><circle cx="170.2" cy="642.8" r="2.0"/><circle cx="335.0" cy="639.9" r="2.0"/><circle cx="150.4" cy="642.1" r="2.0"/><circle cx="336.1" cy="638.3" r="2.0"/><circle cx="133.8" cy="638.8" r="2.0"/><circle cx="170.4" cy="640.2" r="2.0"/><circle cx="266.2" cy="642.6" r="2.0"/><circle cx="347.2" cy="640.8" r="2.0"/><circle cx="153.3" cy="638.1" r="2.0"/><circle cx="144.7" cy="642.7" r="2.0"/><circle cx="277.7" cy="640.0" r="2.0"/><circle cx="338.6" cy="638.1" r="2.0"/><circle cx="168.6" cy="642.6" r="2.0"/><circle cx="265.8" cy="640.0" r="2.0"/><circle cx="191.8" cy="637.3" r="2.0"/><circle cx="169.1" cy="639.0" r="2.0"/><circle cx="136.0" cy="637.2" r="2.0"/><circle cx="350.4" cy="639.1" r="2.0"/><circle cx="196.5" cy="638.5" r="2.0"/><circle cx="339.4" cy="638.0" r="2.0"/><circle cx="128.0" cy="639.8" r="2.0"/><circle cx="152.3" cy="639.6" r="2.0"/><circle cx="350.8" cy="637.6" r="2.0"/><circle cx="179.0" cy="639.5" r="2.0"/><circle cx="195.8" cy="641.9" r="2.0"/><circle cx="300.2" cy="638.3" r="2.0"/><circle cx="200.5" cy="640.3" r="2.0"/><circle cx="288.6" cy="638.4" r="2.0"/><circle cx="231.6" cy="642.2" r="2.0"/><circle cx="141.4" cy="641.9" r="2.0"/><circle cx="320.5" cy="639.9" r="2.0"/><circle cx="275.9" cy="640.7" r="2.0"/><circle cx="208.4" cy="641.8" r="2.0"/><circle cx="356.8" cy="639.2" r="2.0"/><circle cx="149.5" cy="638.6" r="2.0"/><circle cx="264.5" cy="639.1" r="2.0"/><circle cx="306.6" cy="639.2" r="2.0"/><circle cx="332.7" cy="637.0" r="2.0"/><circle cx="217.6" cy="638.9" r="2.0"/><circle cx="209.7" cy="640.4" r="2.0"/><circle cx="207.7" cy="638.9" r="2.0"/><circle cx="204.4" cy="640.7" r="2.0"/><circle cx="325.5" cy="638.0" r="2.0"/><circle cx="283.7" cy="637.7" r="2.0"/><circle cx="212.6" cy="639.0" r="2.0"/><circle cx="179.6" cy="641.0" r="2.0"/><circle cx="142.7" cy="638.0" r="2.0"/><circle cx="343.7" cy="641.0" r="2.0"/><circle cx="210.7" cy="642.2" r="2.0"/><circle cx="152.8" cy="639.0" r="2.0"/><circle cx="336.5" cy="642.4" r="2.0"/><circle cx="180.4" cy="638.3" r="2.0"/><circle cx="173.3" cy="637.5" r="2.0"/><circle cx="204.4" cy="640.0" r="2.0"/><circle cx="167.4" cy="641.1" r="2.0"/><circle cx="222.0" cy="641.2" r="2.0"/><circle cx="296.6" cy="642.7" r="2.0"/><circle cx="274.5" cy="638.0" r="2.0"/><circle cx="197.9" cy="641.7" r="2.0"/><circle cx="147.4" cy="642.4" r="2.0"/><circle cx="312.1" cy="639.2" r="2.0"/><circle cx="121.7" cy="640.1" r="2.0"/><circle cx="264.7" cy="640.9" r="2.0"/><circle cx="126.5" cy="640.3" r="2.0"/><circle cx="204.6" cy="636.9" r="2.0"/><circle cx="206.1" cy="637.3" r="2.0"/><circle cx="330.7" cy="639.4" r="2.0"/><circle cx="148.9" cy="638.0" r="2.0"/><circle cx="140.1" cy="639.5" r="2.0"/><circle cx="141.8" cy="642.3" r="2.0"/><circle cx="218.6" cy="641.9" r="2.0"/><circle cx="361.0" cy="639.4" r="2.0"/><circle cx="337.8" cy="637.0" r="2.0"/><circle cx="303.7" cy="638.9" r="2.0"/><circle cx="233.9" cy="638.1" r="2.0"/><circle cx="282.0" cy="641.9" r="2.0"/><circle cx="247.9" cy="640.4" r="2.0"/><circle cx="244.3" cy="638.5" r="2.0"/><circle cx="286.8" cy="639.4" r="2.0"/><circle cx="311.3" cy="637.8" r="2.0"/><circle cx="140.6" cy="642.0" r="2.0"/><circle cx="129.6" cy="641.9" r="2.0"/><circle cx="352.9" cy="641.0" r="2.0"/><circle cx="225.6" cy="640.1" r="2.0"/><circle cx="256.3" cy="641.2" r="2.0"/><circle cx="308.8" cy="640.9" r="2.0"/><circle cx="325.2" cy="638.0" r="2.0"/><circle cx="118.3" cy="639.5" r="2.0"/><circle cx="140.8" cy="637.5" r="2.0"/><circle cx="135.0" cy="641.3" r="2.0"/><circle cx="306.3" cy="639.3" r="2.0"/><circle cx="281.4" cy="640.4" r="2.0"/><circle cx="245.5" cy="641.7" r="2.0"/><circle cx="231.3" cy="641.3" r="2.0"/><circle cx="283.5" cy="642.2" r="2.0"/><circle cx="151.7" cy="641.7" r="2.0"/><circle cx="248.6" cy="639.3" r="2.0"/><circle cx="118.7" cy="636.9" r="2.0"/><circle cx="322.7" cy="640.6" r="2.0"/><circle cx="156.9" cy="637.8" r="2.0"/><circle cx="357.4" cy="641.8" r="2.0"/><circle cx="303.2" cy="637.9" r="2.0"/><circle cx="347.6" cy="641.6" r="2.0"/><circle cx="147.5" cy="641.9" r="2.0"/><circle cx="174.7" cy="637.4" r="2.0"/><circle cx="340.9" cy="640.0" r="2.0"/><circle cx="149.2" cy="640.7" r="2.0"/><circle cx="177.1" cy="638.9" r="2.0"/><circle cx="294.4" cy="638.2" r="2.0"/><circle cx="225.1" cy="640.1" r="2.0"/><circle cx="232.6" cy="640.6" r="2.0"/><circle cx="229.5" cy="638.7" r="2.0"/><circle cx="292.3" cy="640.9" r="2.0"/><circle cx="256.9" cy="642.0" r="2.0"/><circle cx="129.1" cy="640.5" r="2.0"/><circle cx="206.0" cy="642.7" r="2.0"/><circle cx="137.5" cy="640.3" r="2.0"/><circle cx="348.9" cy="637.8" r="2.0"/><circle cx="125.4" cy="641.0" r="2.0"/><circle cx="208.3" cy="641.0" r="2.0"/><circle cx="151.6" cy="639.3" r="2.0"/><circle cx="323.6" cy="640.6" r="2.0"/><circle cx="161.2" cy="642.3" r="2.0"/><circle cx="121.7" cy="638.2" r="2.0"/><circle cx="174.5" cy="638.5" r="2.0"/><circle cx="311.7" cy="642.4" r="2.0"/><circle cx="164.3" cy="641.0" r="2.0"/><circle cx="306.4" cy="638.4" r="2.0"/><circle cx="192.2" cy="640.1" r="2.0"/><circle cx="205.0" cy="640.0" r="2.0"/><circle cx="312.4" cy="641.3" r="2.0"/><circle cx="316.6" cy="637.3" r="2.0"/><circle cx="265.2" cy="637.0" r="2.0"/><circle cx="347.8" cy="641.9" r="2.0"/><circle cx="360.9" cy="641.7" r="2.0"/><circle cx="315.1" cy="642.2" r="2.0"/><circle cx="192.2" cy="640.2" r="2.0"/><circle cx="323.6" cy="638.7" r="2.0"/><circle cx="167.9" cy="637.4" r="2.0"/><circle cx="330.0" cy="639.8" r="2.0"/><circle cx="130.4" cy="641.2" r="2.0"/><circle cx="189.6" cy="640.3" r="2.0"/><circle cx="348.9" cy="639.3" r="2.0"/><circle cx="318.8" cy="642.5" r="2.0"/><circle cx="178.1" cy="638.4" r="2.0"/><circle cx="201.4" cy="641.5" r="2.0"/><circle cx="133.4" cy="642.6" r="2.0"/><circle cx="219.0" cy="639.6" r="2.0"/><circle cx="216.0" cy="639.4" r="2.0"/><circle cx="189.3" cy="642.8" r="2.0"/><circle cx="283.2" cy="640.8" r="2.0"/><circle cx="238.4" cy="640.6" r="2.0"/><circle cx="184.1" cy="642.6" r="2.0"/><circle cx="190.7" cy="641.1" r="2.0"/><circle cx="146.2" cy="642.7" r="2.0"/><circle cx="235.8" cy="642.8" r="2.0"/><circle cx="333.3" cy="640.7" r="2.0"/><circle cx="226.7" cy="639.7" r="2.0"/><circle cx="123.9" cy="642.3" r="2.0"/><circle cx="310.4" cy="639.5" r="2.0"/><circle cx="238.9" cy="640.8" r="2.0"/>
</g>
<g fill="#4169e1" stroke="#000" stroke-width="0.9">
<circle cx="302.0" cy="622.9" r="2.3"/><circle cx="312.1" cy="619.0" r="2.3"/><circle cx="337.0" cy="619.8" r="2.3"/><circle cx="283.1" cy="623.2" r="2.3"/><circle cx="248.7" cy="619.8" r="2.3"/><circle cx="246.7" cy="615.5" r="2.3"/><circle cx="328.2" cy="628.0" r="2.3"/><circle cx="302.2" cy="621.7" r="2.3"/><circle cx="264.6" cy="614.2" r="2.3"/><circle cx="130.1" cy="623.3" r="2.3"/><circle cx="210.0" cy="612.2" r="2.3"/><circle cx="158.3" cy="620.7" r="2.3"/><circle cx="153.4" cy="617.4" r="2.3"/><circle cx="237.8" cy="617.3" r="2.3"/><circle cx="193.2" cy="608.5" r="2.3"/><circle cx="119.7" cy="627.3" r="2.3"/><circle cx="297.7" cy="618.7" r="2.3"/><circle cx="308.4" cy="625.5" r="2.3"/><circle cx="137.8" cy="618.9" r="2.3"/><circle cx="297.2" cy="629.3" r="2.3"/><circle cx="347.0" cy="620.5" r="2.3"/><circle cx="126.2" cy="623.0" r="2.3"/><circle cx="200.9" cy="624.4" r="2.3"/><circle cx="334.9" cy="617.3" r="2.3"/><circle cx="148.4" cy="623.3" r="2.3"/><circle cx="185.0" cy="612.8" r="2.3"/><circle cx="144.9" cy="625.4" r="2.3"/><circle cx="218.5" cy="623.3" r="2.3"/><circle cx="224.6" cy="621.0" r="2.3"/><circle cx="348.4" cy="614.4" r="2.3"/><circle cx="340.3" cy="618.5" r="2.3"/><circle cx="173.9" cy="621.5" r="2.3"/><circle cx="230.6" cy="619.6" r="2.3"/><circle cx="266.5" cy="624.1" r="2.3"/><circle cx="361.0" cy="623.8" r="2.3"/><circle cx="122.8" cy="629.8" r="2.3"/><circle cx="169.3" cy="611.6" r="2.3"/><circle cx="324.0" cy="628.1" r="2.3"/><circle cx="176.1" cy="621.6" r="2.3"/><circle cx="310.7" cy="618.3" r="2.3"/><circle cx="182.5" cy="624.4" r="2.3"/><circle cx="354.9" cy="613.8" r="2.3"/><circle cx="293.6" cy="623.7" r="2.3"/><circle cx="301.0" cy="620.0" r="2.3"/><circle cx="242.8" cy="625.2" r="2.3"/><circle cx="246.7" cy="618.3" r="2.3"/><circle cx="197.5" cy="613.5" r="2.3"/><circle cx="153.9" cy="613.3" r="2.3"/><circle cx="169.8" cy="621.9" r="2.3"/><circle cx="353.3" cy="614.1" r="2.3"/><circle cx="344.7" cy="616.9" r="2.3"/><circle cx="325.9" cy="618.9" r="2.3"/><circle cx="256.8" cy="628.7" r="2.3"/><circle cx="297.3" cy="619.2" r="2.3"/><circle cx="323.3" cy="628.1" r="2.3"/><circle cx="133.0" cy="618.8" r="2.3"/><circle cx="237.5" cy="614.5" r="2.3"/><circle cx="360.7" cy="621.8" r="2.3"/><circle cx="283.5" cy="620.2" r="2.3"/><circle cx="288.0" cy="624.8" r="2.3"/><circle cx="274.7" cy="629.0" r="2.3"/><circle cx="338.5" cy="619.8" r="2.3"/><circle cx="314.6" cy="623.3" r="2.3"/><circle cx="168.3" cy="617.3" r="2.3"/><circle cx="284.7" cy="622.0" r="2.3"/><circle cx="144.6" cy="631.4" r="2.3"/><circle cx="215.5" cy="626.7" r="2.3"/><circle cx="173.6" cy="622.0" r="2.3"/><circle cx="219.8" cy="620.0" r="2.3"/><circle cx="341.7" cy="620.3" r="2.3"/><circle cx="123.1" cy="615.7" r="2.3"/><circle cx="267.2" cy="617.6" r="2.3"/><circle cx="268.3" cy="624.1" r="2.3"/><circle cx="201.1" cy="625.0" r="2.3"/><circle cx="280.7" cy="629.2" r="2.3"/><circle cx="284.9" cy="616.7" r="2.3"/><circle cx="281.6" cy="620.9" r="2.3"/><circle cx="316.0" cy="617.5" r="2.3"/><circle cx="317.1" cy="617.1" r="2.3"/><circle cx="230.6" cy="629.8" r="2.3"/><circle cx="268.5" cy="619.3" r="2.3"/><circle cx="329.4" cy="621.3" r="2.3"/><circle cx="207.0" cy="629.9" r="2.3"/><circle cx="321.5" cy="621.3" r="2.3"/><circle cx="359.4" cy="619.5" r="2.3"/><circle cx="326.9" cy="619.5" r="2.3"/><circle cx="360.8" cy="621.5" r="2.3"/><circle cx="337.8" cy="623.8" r="2.3"/><circle cx="120.8" cy="625.5" r="2.3"/><circle cx="204.1" cy="606.3" r="2.3"/><circle cx="214.7" cy="626.2" r="2.3"/><circle cx="287.2" cy="628.7" r="2.3"/><circle cx="192.8" cy="618.5" r="2.3"/><circle cx="148.5" cy="620.5" r="2.3"/><circle cx="221.6" cy="618.2" r="2.3"/><circle cx="201.2" cy="606.6" r="2.3"/><circle cx="165.9" cy="616.5" r="2.3"/><circle cx="173.4" cy="626.2" r="2.3"/><circle cx="191.9" cy="608.3" r="2.3"/><circle cx="189.4" cy="616.6" r="2.3"/><circle cx="246.4" cy="625.3" r="2.3"/><circle cx="249.0" cy="628.9" r="2.3"/><circle cx="203.6" cy="620.7" r="2.3"/><circle cx="317.8" cy="619.6" r="2.3"/><circle cx="289.7" cy="621.7" r="2.3"/><circle cx="330.3" cy="619.8" r="2.3"/><circle cx="131.5" cy="629.2" r="2.3"/><circle cx="301.2" cy="619.2" r="2.3"/><circle cx="360.4" cy="616.8" r="2.3"/><circle cx="156.7" cy="620.7" r="2.3"/><circle cx="271.0" cy="620.0" r="2.3"/><circle cx="150.9" cy="613.5" r="2.3"/><circle cx="243.0" cy="625.3" r="2.3"/><circle cx="358.3" cy="622.7" r="2.3"/><circle cx="135.1" cy="619.8" r="2.3"/><circle cx="181.6" cy="622.1" r="2.3"/><circle cx="192.1" cy="614.2" r="2.3"/><circle cx="196.4" cy="613.0" r="2.3"/><circle cx="339.8" cy="616.5" r="2.3"/><circle cx="335.8" cy="617.5" r="2.3"/><circle cx="180.0" cy="609.8" r="2.3"/><circle cx="140.0" cy="621.1" r="2.3"/><circle cx="136.5" cy="629.7" r="2.3"/><circle cx="350.4" cy="626.7" r="2.3"/><circle cx="293.7" cy="622.9" r="2.3"/><circle cx="118.3" cy="616.5" r="2.3"/><circle cx="132.9" cy="616.1" r="2.3"/><circle cx="318.5" cy="622.8" r="2.3"/><circle cx="227.3" cy="629.6" r="2.3"/><circle cx="289.5" cy="629.5" r="2.3"/><circle cx="246.9" cy="613.6" r="2.3"/><circle cx="284.1" cy="628.3" r="2.3"/><circle cx="294.7" cy="620.7" r="2.3"/><circle cx="198.7" cy="610.8" r="2.3"/><circle cx="259.8" cy="622.7" r="2.3"/><circle cx="246.8" cy="625.2" r="2.3"/><circle cx="188.4" cy="608.4" r="2.3"/><circle cx="203.6" cy="610.8" r="2.3"/><circle cx="207.9" cy="626.1" r="2.3"/><circle cx="118.3" cy="613.3" r="2.3"/><circle cx="302.1" cy="617.6" r="2.3"/><circle cx="262.3" cy="628.9" r="2.3"/><circle cx="158.0" cy="630.5" r="2.3"/><circle cx="268.0" cy="619.5" r="2.3"/><circle cx="352.1" cy="624.1" r="2.3"/><circle cx="175.2" cy="622.0" r="2.3"/><circle cx="154.1" cy="630.9" r="2.3"/><circle cx="239.0" cy="622.7" r="2.3"/><circle cx="208.2" cy="610.4" r="2.3"/><circle cx="194.9" cy="609.7" r="2.3"/><circle cx="248.5" cy="628.2" r="2.3"/><circle cx="125.3" cy="620.6" r="2.3"/><circle cx="332.2" cy="628.0" r="2.3"/><circle cx="290.0" cy="626.8" r="2.3"/><circle cx="286.3" cy="618.0" r="2.3"/><circle cx="296.2" cy="626.8" r="2.3"/><circle cx="156.2" cy="613.2" r="2.3"/><circle cx="342.3" cy="617.1" r="2.3"/><circle cx="250.6" cy="629.1" r="2.3"/><circle cx="208.4" cy="611.4" r="2.3"/><circle cx="134.4" cy="626.3" r="2.3"/><circle cx="128.4" cy="616.2" r="2.3"/><circle cx="204.6" cy="624.8" r="2.3"/><circle cx="205.3" cy="622.4" r="2.3"/><circle cx="224.2" cy="620.7" r="2.3"/><circle cx="279.2" cy="628.6" r="2.3"/><circle cx="248.9" cy="629.1" r="2.3"/><circle cx="226.2" cy="617.5" r="2.3"/><circle cx="182.3" cy="609.8" r="2.3"/><circle cx="177.8" cy="618.5" r="2.3"/><circle cx="312.1" cy="628.6" r="2.3"/><circle cx="253.7" cy="620.5" r="2.3"/><circle cx="293.1" cy="617.2" r="2.3"/><circle cx="288.2" cy="626.9" r="2.3"/><circle cx="166.8" cy="617.2" r="2.3"/><circle cx="186.9" cy="615.2" r="2.3"/><circle cx="140.0" cy="619.1" r="2.3"/><circle cx="220.1" cy="629.3" r="2.3"/><circle cx="147.6" cy="614.3" r="2.3"/><circle cx="326.0" cy="618.2" r="2.3"/><circle cx="213.5" cy="615.1" r="2.3"/><circle cx="159.7" cy="617.6" r="2.3"/><circle cx="348.8" cy="625.4" r="2.3"/><circle cx="119.0" cy="629.1" r="2.3"/><circle cx="138.5" cy="617.2" r="2.3"/><circle cx="266.5" cy="621.9" r="2.3"/><circle cx="146.1" cy="619.8" r="2.3"/><circle cx="151.5" cy="629.0" r="2.3"/><circle cx="263.5" cy="618.8" r="2.3"/><circle cx="314.2" cy="619.1" r="2.3"/><circle cx="151.6" cy="625.8" r="2.3"/><circle cx="153.3" cy="622.3" r="2.3"/><circle cx="124.9" cy="616.0" r="2.3"/><circle cx="285.0" cy="618.2" r="2.3"/><circle cx="237.6" cy="614.2" r="2.3"/><circle cx="322.5" cy="618.9" r="2.3"/><circle cx="315.4" cy="626.1" r="2.3"/><circle cx="202.6" cy="625.3" r="2.3"/><circle cx="305.3" cy="623.2" r="2.3"/><circle cx="359.7" cy="624.2" r="2.3"/><circle cx="223.6" cy="617.0" r="2.3"/><circle cx="355.4" cy="617.0" r="2.3"/><circle cx="334.2" cy="617.5" r="2.3"/><circle cx="184.6" cy="614.0" r="2.3"/><circle cx="133.6" cy="619.7" r="2.3"/><circle cx="351.4" cy="620.9" r="2.3"/><circle cx="153.7" cy="620.8" r="2.3"/><circle cx="134.0" cy="623.4" r="2.3"/><circle cx="137.6" cy="624.1" r="2.3"/><circle cx="318.4" cy="620.0" r="2.3"/><circle cx="327.1" cy="623.2" r="2.3"/><circle cx="226.1" cy="629.2" r="2.3"/><circle cx="311.3" cy="622.1" r="2.3"/><circle cx="217.9" cy="628.0" r="2.3"/><circle cx="230.3" cy="629.0" r="2.3"/><circle cx="147.4" cy="630.0" r="2.3"/><circle cx="222.1" cy="628.0" r="2.3"/><circle cx="320.7" cy="621.5" r="2.3"/><circle cx="330.4" cy="622.0" r="2.3"/><circle cx="157.1" cy="626.2" r="2.3"/><circle cx="323.7" cy="621.7" r="2.3"/><circle cx="276.3" cy="620.0" r="2.3"/><circle cx="129.8" cy="628.0" r="2.3"/><circle cx="223.7" cy="617.3" r="2.3"/><circle cx="349.2" cy="619.6" r="2.3"/><circle cx="181.6" cy="625.5" r="2.3"/><circle cx="254.9" cy="622.8" r="2.3"/><circle cx="346.0" cy="625.6" r="2.3"/><circle cx="168.2" cy="626.2" r="2.3"/><circle cx="125.0" cy="617.1" r="2.3"/><circle cx="331.4" cy="626.8" r="2.3"/><circle cx="121.8" cy="620.9" r="2.3"/><circle cx="178.4" cy="614.0" r="2.3"/><circle cx="341.4" cy="619.5" r="2.3"/><circle cx="186.6" cy="614.2" r="2.3"/><circle cx="188.9" cy="611.1" r="2.3"/><circle cx="181.2" cy="608.8" r="2.3"/><circle cx="284.2" cy="616.9" r="2.3"/><circle cx="202.7" cy="607.1" r="2.3"/><circle cx="260.6" cy="625.5" r="2.3"/><circle cx="276.5" cy="625.1" r="2.3"/><circle cx="145.8" cy="630.8" r="2.3"/><circle cx="267.6" cy="625.9" r="2.3"/><circle cx="142.5" cy="617.5" r="2.3"/><circle cx="152.8" cy="617.4" r="2.3"/><circle cx="184.9" cy="619.1" r="2.3"/><circle cx="346.5" cy="616.2" r="2.3"/><circle cx="322.5" cy="617.1" r="2.3"/><circle cx="265.9" cy="613.9" r="2.3"/><circle cx="270.5" cy="620.4" r="2.3"/><circle cx="197.3" cy="618.8" r="2.3"/><circle cx="257.6" cy="625.7" r="2.3"/><circle cx="275.3" cy="616.3" r="2.3"/><circle cx="294.5" cy="627.0" r="2.3"/><circle cx="124.8" cy="624.9" r="2.3"/><circle cx="224.4" cy="617.2" r="2.3"/><circle cx="252.0" cy="620.9" r="2.3"/><circle cx="266.4" cy="620.6" r="2.3"/><circle cx="284.1" cy="621.8" r="2.3"/><circle cx="253.4" cy="625.9" r="2.3"/><circle cx="148.3" cy="623.4" r="2.3"/><circle cx="335.2" cy="617.2" r="2.3"/><circle cx="189.8" cy="614.8" r="2.3"/><circle cx="245.0" cy="622.0" r="2.3"/><circle cx="161.7" cy="615.3" r="2.3"/><circle cx="138.9" cy="627.4" r="2.3"/><circle cx="186.3" cy="622.4" r="2.3"/><circle cx="165.4" cy="625.0" r="2.3"/><circle cx="246.3" cy="627.0" r="2.3"/><circle cx="275.4" cy="620.5" r="2.3"/><circle cx="271.0" cy="622.1" r="2.3"/><circle cx="268.0" cy="625.0" r="2.3"/><circle cx="231.7" cy="618.8" r="2.3"/><circle cx="170.8" cy="611.6" r="2.3"/><circle cx="261.4" cy="612.7" r="2.3"/><circle cx="269.0" cy="620.8" r="2.3"/><circle cx="306.2" cy="625.3" r="2.3"/><circle cx="209.3" cy="621.6" r="2.3"/><circle cx="298.0" cy="620.8" r="2.3"/><circle cx="163.4" cy="610.7" r="2.3"/><circle cx="358.6" cy="621.0" r="2.3"/><circle cx="361.9" cy="619.1" r="2.3"/><circle cx="212.2" cy="628.6" r="2.3"/><circle cx="122.3" cy="620.7" r="2.3"/><circle cx="294.0" cy="621.8" r="2.3"/><circle cx="309.8" cy="623.6" r="2.3"/><circle cx="299.8" cy="622.4" r="2.3"/><circle cx="273.4" cy="621.2" r="2.3"/><circle cx="281.4" cy="621.6" r="2.3"/><circle cx="140.2" cy="619.4" r="2.3"/><circle cx="290.4" cy="624.1" r="2.3"/><circle cx="355.6" cy="621.3" r="2.3"/><circle cx="158.8" cy="621.7" r="2.3"/><circle cx="205.7" cy="623.2" r="2.3"/><circle cx="335.7" cy="626.5" r="2.3"/><circle cx="292.5" cy="627.7" r="2.3"/><circle cx="244.7" cy="612.4" r="2.3"/><circle cx="139.7" cy="616.2" r="2.3"/><circle cx="119.5" cy="613.2" r="2.3"/><circle cx="340.6" cy="623.1" r="2.3"/><circle cx="274.2" cy="622.6" r="2.3"/><circle cx="158.1" cy="624.7" r="2.3"/><circle cx="226.1" cy="616.6" r="2.3"/><circle cx="146.0" cy="621.7" r="2.3"/><circle cx="233.5" cy="620.8" r="2.3"/><circle cx="312.1" cy="621.7" r="2.3"/><circle cx="197.2" cy="607.1" r="2.3"/><circle cx="264.7" cy="625.3" r="2.3"/><circle cx="252.1" cy="614.7" r="2.3"/><circle cx="129.4" cy="620.3" r="2.3"/><circle cx="237.5" cy="625.1" r="2.3"/><circle cx="157.1" cy="627.1" r="2.3"/><circle cx="225.2" cy="623.6" r="2.3"/><circle cx="265.3" cy="625.4" r="2.3"/><circle cx="269.9" cy="622.1" r="2.3"/><circle cx="312.9" cy="619.3" r="2.3"/><circle cx="176.1" cy="606.6" r="2.3"/><circle cx="251.9" cy="624.1" r="2.3"/><circle cx="180.4" cy="612.0" r="2.3"/><circle cx="225.0" cy="619.6" r="2.3"/><circle cx="180.7" cy="609.0" r="2.3"/><circle cx="182.8" cy="608.8" r="2.3"/><circle cx="225.4" cy="623.9" r="2.3"/><circle cx="259.5" cy="620.8" r="2.3"/><circle cx="252.2" cy="620.1" r="2.3"/><circle cx="350.7" cy="617.3" r="2.3"/><circle cx="140.6" cy="613.8" r="2.3"/><circle cx="121.8" cy="630.5" r="2.3"/><circle cx="318.5" cy="625.4" r="2.3"/><circle cx="125.2" cy="628.3" r="2.3"/><circle cx="239.3" cy="615.2" r="2.3"/><circle cx="122.9" cy="628.5" r="2.3"/><circle cx="121.1" cy="630.5" r="2.3"/><circle cx="195.2" cy="616.5" r="2.3"/><circle cx="355.3" cy="618.7" r="2.3"/><circle cx="327.4" cy="621.6" r="2.3"/><circle cx="341.0" cy="620.4" r="2.3"/><circle cx="176.8" cy="618.9" r="2.3"/><circle cx="235.5" cy="628.2" r="2.3"/><circle cx="344.4" cy="622.0" r="2.3"/><circle cx="167.1" cy="616.9" r="2.3"/><circle cx="315.3" cy="625.5" r="2.3"/><circle cx="262.0" cy="628.4" r="2.3"/><circle cx="177.1" cy="622.7" r="2.3"/><circle cx="241.8" cy="617.8" r="2.3"/><circle cx="173.7" cy="612.5" r="2.3"/><circle cx="261.6" cy="616.7" r="2.3"/><circle cx="361.9" cy="623.5" r="2.3"/><circle cx="362.1" cy="621.7" r="2.3"/><circle cx="242.9" cy="626.9" r="2.3"/><circle cx="138.8" cy="620.0" r="2.3"/><circle cx="143.2" cy="630.8" r="2.3"/><circle cx="138.6" cy="621.9" r="2.3"/><circle cx="166.0" cy="621.5" r="2.3"/><circle cx="305.9" cy="623.5" r="2.3"/><circle cx="154.1" cy="618.7" r="2.3"/><circle cx="361.7" cy="619.1" r="2.3"/><circle cx="227.0" cy="621.6" r="2.3"/><circle cx="290.2" cy="618.3" r="2.3"/><circle cx="310.5" cy="625.8" r="2.3"/><circle cx="309.1" cy="627.4" r="2.3"/><circle cx="149.4" cy="622.1" r="2.3"/><circle cx="163.2" cy="619.3" r="2.3"/><circle cx="187.6" cy="607.3" r="2.3"/><circle cx="224.2" cy="617.7" r="2.3"/><circle cx="349.5" cy="621.7" r="2.3"/><circle cx="306.3" cy="623.0" r="2.3"/><circle cx="215.8" cy="628.3" r="2.3"/><circle cx="279.4" cy="615.8" r="2.3"/><circle cx="286.5" cy="625.5" r="2.3"/><circle cx="246.7" cy="623.7" r="2.3"/><circle cx="213.9" cy="618.6" r="2.3"/><circle cx="119.6" cy="622.5" r="2.3"/><circle cx="243.4" cy="627.4" r="2.3"/><circle cx="297.4" cy="626.8" r="2.3"/><circle cx="216.8" cy="626.6" r="2.3"/><circle cx="264.4" cy="622.5" r="2.3"/><circle cx="285.5" cy="623.8" r="2.3"/><circle cx="310.0" cy="622.3" r="2.3"/><circle cx="143.7" cy="622.6" r="2.3"/><circle cx="180.0" cy="620.4" r="2.3"/><circle cx="350.3" cy="621.3" r="2.3"/><circle cx="299.0" cy="628.1" r="2.3"/><circle cx="272.2" cy="628.1" r="2.3"/><circle cx="172.3" cy="623.9" r="2.3"/><circle cx="124.1" cy="615.1" r="2.3"/><circle cx="354.3" cy="623.0" r="2.3"/><circle cx="121.1" cy="617.9" r="2.3"/><circle cx="280.4" cy="629.4" r="2.3"/><circle cx="305.8" cy="627.9" r="2.3"/><circle cx="175.1" cy="610.7" r="2.3"/><circle cx="306.0" cy="626.0" r="2.3"/><circle cx="242.5" cy="615.8" r="2.3"/><circle cx="265.9" cy="621.0" r="2.3"/><circle cx="163.3" cy="630.0" r="2.3"/><circle cx="164.0" cy="619.8" r="2.3"/><circle cx="264.0" cy="622.0" r="2.3"/><circle cx="273.8" cy="620.9" r="2.3"/><circle cx="276.2" cy="623.5" r="2.3"/><circle cx="324.3" cy="622.3" r="2.3"/><circle cx="333.7" cy="616.8" r="2.3"/><circle cx="320.8" cy="619.6" r="2.3"/><circle cx="287.1" cy="622.1" r="2.3"/><circle cx="178.7" cy="624.4" r="2.3"/><circle cx="279.9" cy="626.2" r="2.3"/><circle cx="268.0" cy="620.7" r="2.3"/><circle cx="266.8" cy="622.7" r="2.3"/><circle cx="176.7" cy="620.3" r="2.3"/><circle cx="288.7" cy="617.5" r="2.3"/><circle cx="196.1" cy="620.1" r="2.3"/><circle cx="227.7" cy="623.3" r="2.3"/><circle cx="272.9" cy="617.7" r="2.3"/><circle cx="306.1" cy="619.4" r="2.3"/><circle cx="295.7" cy="617.2" r="2.3"/><circle cx="227.9" cy="623.0" r="2.3"/><circle cx="277.6" cy="625.1" r="2.3"/><circle cx="321.2" cy="623.7" r="2.3"/><circle cx="254.4" cy="620.8" r="2.3"/><circle cx="207.2" cy="629.8" r="2.3"/><circle cx="186.2" cy="616.8" r="2.3"/><circle cx="122.8" cy="640.7" r="2.3"/><circle cx="122.5" cy="627.0" r="2.3"/><circle cx="122.0" cy="638.3" r="2.3"/><circle cx="118.1" cy="628.5" r="2.3"/><circle cx="118.3" cy="638.0" r="2.3"/><circle cx="122.7" cy="631.9" r="2.3"/><circle cx="122.1" cy="629.3" r="2.3"/><circle cx="118.9" cy="634.7" r="2.3"/><circle cx="118.5" cy="636.7" r="2.3"/><circle cx="120.5" cy="629.6" r="2.3"/><circle cx="119.4" cy="632.0" r="2.3"/><circle cx="118.7" cy="638.7" r="2.3"/><circle cx="118.3" cy="633.4" r="2.3"/><circle cx="120.9" cy="631.3" r="2.3"/><circle cx="120.1" cy="627.6" r="2.3"/><circle cx="121.6" cy="633.6" r="2.3"/><circle cx="122.4" cy="640.0" r="2.3"/><circle cx="119.5" cy="633.9" r="2.3"/><circle cx="121.0" cy="627.3" r="2.3"/><circle cx="121.4" cy="642.1" r="2.3"/><circle cx="122.7" cy="635.3" r="2.3"/><circle cx="119.0" cy="630.5" r="2.3"/><circle cx="121.1" cy="629.0" r="2.3"/><circle cx="120.8" cy="638.7" r="2.3"/><circle cx="120.4" cy="635.3" r="2.3"/><circle cx="119.8" cy="633.4" r="2.3"/><circle cx="118.7" cy="638.8" r="2.3"/><circle cx="118.6" cy="642.5" r="2.3"/><circle cx="120.6" cy="630.9" r="2.3"/><circle cx="120.0" cy="628.2" r="2.3"/><circle cx="190.9" cy="623.2" r="2.3"/><circle cx="177.7" cy="617.6" r="2.3"/><circle cx="180.3" cy="618.8" r="2.3"/><circle cx="176.0" cy="616.4" r="2.3"/><circle cx="194.0" cy="636.0" r="2.3"/><circle cx="196.0" cy="636.7" r="2.3"/><circle cx="181.8" cy="630.2" r="2.3"/><circle cx="179.7" cy="630.7" r="2.3"/><circle cx="172.6" cy="629.7" r="2.3"/><circle cx="169.8" cy="620.0" r="2.3"/><circle cx="180.5" cy="621.9" r="2.3"/><circle cx="183.5" cy="615.9" r="2.3"/><circle cx="202.1" cy="622.1" r="2.3"/><circle cx="200.5" cy="617.3" r="2.3"/><circle cx="204.1" cy="629.3" r="2.3"/><circle cx="190.3" cy="639.7" r="2.3"/><circle cx="180.9" cy="631.6" r="2.3"/><circle cx="191.5" cy="642.4" r="2.3"/><circle cx="196.9" cy="639.5" r="2.3"/><circle cx="183.3" cy="627.5" r="2.3"/><circle cx="200.5" cy="623.8" r="2.3"/><circle cx="172.1" cy="623.0" r="2.3"/><circle cx="175.6" cy="624.2" r="2.3"/><circle cx="183.0" cy="616.3" r="2.3"/><circle cx="184.4" cy="633.2" r="2.3"/><circle cx="178.7" cy="616.3" r="2.3"/><circle cx="180.3" cy="634.0" r="2.3"/><circle cx="187.9" cy="622.9" r="2.3"/><circle cx="204.6" cy="639.3" r="2.3"/><circle cx="179.5" cy="621.7" r="2.3"/><circle cx="186.3" cy="622.4" r="2.3"/><circle cx="193.7" cy="638.8" r="2.3"/><circle cx="168.1" cy="636.0" r="2.3"/><circle cx="178.5" cy="635.8" r="2.3"/><circle cx="177.8" cy="638.0" r="2.3"/><circle cx="167.1" cy="626.5" r="2.3"/><circle cx="197.1" cy="636.6" r="2.3"/><circle cx="169.9" cy="621.5" r="2.3"/><circle cx="169.3" cy="637.2" r="2.3"/><circle cx="186.1" cy="632.5" r="2.3"/><circle cx="198.2" cy="626.9" r="2.3"/><circle cx="187.5" cy="630.4" r="2.3"/><circle cx="167.1" cy="619.4" r="2.3"/><circle cx="182.0" cy="619.2" r="2.3"/><circle cx="170.3" cy="628.8" r="2.3"/><circle cx="188.1" cy="636.7" r="2.3"/><circle cx="169.0" cy="616.8" r="2.3"/><circle cx="204.5" cy="615.4" r="2.3"/><circle cx="188.3" cy="621.4" r="2.3"/><circle cx="190.7" cy="627.7" r="2.3"/><circle cx="173.0" cy="623.6" r="2.3"/><circle cx="184.2" cy="622.7" r="2.3"/><circle cx="167.7" cy="632.6" r="2.3"/><circle cx="170.6" cy="620.7" r="2.3"/><circle cx="185.6" cy="632.8" r="2.3"/><circle cx="198.0" cy="626.6" r="2.3"/><circle cx="177.9" cy="629.9" r="2.3"/><circle cx="166.1" cy="640.0" r="2.3"/><circle cx="167.5" cy="616.2" r="2.3"/><circle cx="202.0" cy="626.0" r="2.3"/><circle cx="204.6" cy="626.1" r="2.3"/><circle cx="193.9" cy="638.4" r="2.3"/><circle cx="183.9" cy="624.3" r="2.3"/><circle cx="182.8" cy="623.3" r="2.3"/><circle cx="180.1" cy="623.3" r="2.3"/><circle cx="174.5" cy="627.3" r="2.3"/><circle cx="183.5" cy="626.4" r="2.3"/><circle cx="168.3" cy="634.0" r="2.3"/><circle cx="195.3" cy="636.3" r="2.3"/><circle cx="185.5" cy="615.5" r="2.3"/><circle cx="326.5" cy="617.4" r="2.3"/><circle cx="328.8" cy="611.1" r="2.3"/><circle cx="323.4" cy="627.4" r="2.3"/><circle cx="328.6" cy="641.2" r="2.3"/><circle cx="324.6" cy="631.4" r="2.3"/><circle cx="325.8" cy="617.5" r="2.3"/><circle cx="330.1" cy="623.9" r="2.3"/><circle cx="327.7" cy="638.6" r="2.3"/><circle cx="327.2" cy="612.1" r="2.3"/><circle cx="326.6" cy="624.4" r="2.3"/><circle cx="325.2" cy="626.8" r="2.3"/><circle cx="320.5" cy="634.0" r="2.3"/><circle cx="329.1" cy="623.7" r="2.3"/><circle cx="318.5" cy="620.8" r="2.3"/><circle cx="329.6" cy="619.7" r="2.3"/><circle cx="320.5" cy="611.5" r="2.3"/><circle cx="320.5" cy="623.9" r="2.3"/><circle cx="324.4" cy="635.1" r="2.3"/><circle cx="321.7" cy="634.4" r="2.3"/><circle cx="320.3" cy="640.4" r="2.3"/><circle cx="327.0" cy="619.3" r="2.3"/><circle cx="321.5" cy="611.5" r="2.3"/><circle cx="323.9" cy="625.5" r="2.3"/><circle cx="331.0" cy="619.8" r="2.3"/><circle cx="324.5" cy="617.1" r="2.3"/><circle cx="319.0" cy="617.8" r="2.3"/><circle cx="252.0" cy="611.3" r="2.3"/><circle cx="319.8" cy="613.3" r="2.3"/><circle cx="256.7" cy="611.1" r="2.3"/><circle cx="262.5" cy="610.3" r="2.3"/><circle cx="307.2" cy="612.8" r="2.3"/><circle cx="252.5" cy="616.9" r="2.3"/><circle cx="318.3" cy="620.8" r="2.3"/><circle cx="248.9" cy="616.2" r="2.3"/><circle cx="330.3" cy="612.9" r="2.3"/><circle cx="268.0" cy="621.2" r="2.3"/><circle cx="328.7" cy="609.6" r="2.3"/><circle cx="315.1" cy="619.3" r="2.3"/><circle cx="320.1" cy="622.3" r="2.3"/><circle cx="262.2" cy="617.6" r="2.3"/><circle cx="340.7" cy="622.0" r="2.3"/><circle cx="261.1" cy="611.3" r="2.3"/><circle cx="321.2" cy="618.4" r="2.3"/><circle cx="252.6" cy="609.4" r="2.3"/><circle cx="342.0" cy="608.6" r="2.3"/><circle cx="301.6" cy="621.2" r="2.3"/><circle cx="319.0" cy="612.6" r="2.3"/><circle cx="328.1" cy="610.9" r="2.3"/><circle cx="295.3" cy="607.6" r="2.3"/><circle cx="291.2" cy="615.7" r="2.3"/><circle cx="308.7" cy="610.4" r="2.3"/><circle cx="303.8" cy="608.1" r="2.3"/><circle cx="272.2" cy="608.8" r="2.3"/><circle cx="332.8" cy="617.2" r="2.3"/><circle cx="247.9" cy="613.3" r="2.3"/><circle cx="307.0" cy="607.8" r="2.3"/><circle cx="300.8" cy="611.4" r="2.3"/><circle cx="320.9" cy="619.9" r="2.3"/><circle cx="311.7" cy="615.8" r="2.3"/><circle cx="266.6" cy="618.3" r="2.3"/><circle cx="281.3" cy="611.3" r="2.3"/><circle cx="300.2" cy="617.6" r="2.3"/><circle cx="250.5" cy="610.5" r="2.3"/><circle cx="320.4" cy="609.7" r="2.3"/><circle cx="323.6" cy="621.5" r="2.3"/><circle cx="273.1" cy="615.4" r="2.3"/><circle cx="274.7" cy="609.9" r="2.3"/><circle cx="265.5" cy="622.3" r="2.3"/><circle cx="290.1" cy="621.7" r="2.3"/><circle cx="247.9" cy="613.2" r="2.3"/><circle cx="146.2" cy="615.9" r="2.3"/><circle cx="127.5" cy="615.6" r="2.3"/><circle cx="143.3" cy="618.8" r="2.3"/><circle cx="132.8" cy="620.6" r="2.3"/><circle cx="141.9" cy="618.0" r="2.3"/><circle cx="145.5" cy="614.2" r="2.3"/><circle cx="134.7" cy="615.1" r="2.3"/><circle cx="134.0" cy="613.4" r="2.3"/><circle cx="132.1" cy="615.2" r="2.3"/><circle cx="150.8" cy="612.7" r="2.3"/><circle cx="143.6" cy="611.3" r="2.3"/><circle cx="159.5" cy="612.8" r="2.3"/><circle cx="137.6" cy="619.2" r="2.3"/><circle cx="146.9" cy="620.9" r="2.3"/><circle cx="131.2" cy="621.3" r="2.3"/><circle cx="147.8" cy="617.8" r="2.3"/><circle cx="157.3" cy="612.6" r="2.3"/><circle cx="143.6" cy="618.3" r="2.3"/><circle cx="136.2" cy="621.9" r="2.3"/><circle cx="128.9" cy="611.8" r="2.3"/><circle cx="135.4" cy="622.4" r="2.3"/><circle cx="159.3" cy="617.8" r="2.3"/><circle cx="152.1" cy="617.0" r="2.3"/><circle cx="158.9" cy="621.5" r="2.3"/><circle cx="141.6" cy="614.6" r="2.3"/><circle cx="347.4" cy="608.1" r="2.3"/><circle cx="352.4" cy="610.8" r="2.3"/><circle cx="348.3" cy="619.9" r="2.3"/><circle cx="348.4" cy="609.5" r="2.3"/><circle cx="362.1" cy="608.1" r="2.3"/><circle cx="355.5" cy="619.6" r="2.3"/><circle cx="359.4" cy="613.0" r="2.3"/><circle cx="359.5" cy="611.4" r="2.3"/><circle cx="356.1" cy="618.1" r="2.3"/><circle cx="349.3" cy="619.9" r="2.3"/><circle cx="353.9" cy="616.1" r="2.3"/><circle cx="362.3" cy="620.7" r="2.3"/><circle cx="135.1" cy="613.6" r="2.3"/><circle cx="137.8" cy="614.2" r="2.3"/><circle cx="131.5" cy="611.6" r="2.3"/><circle cx="124.1" cy="608.5" r="2.3"/><circle cx="132.3" cy="612.7" r="2.3"/><circle cx="128.3" cy="608.6" r="2.3"/><circle cx="132.7" cy="611.4" r="2.3"/><circle cx="121.9" cy="606.4" r="2.3"/><circle cx="123.5" cy="607.7" r="2.3"/><circle cx="125.1" cy="608.8" r="2.3"/><circle cx="138.7" cy="601.8" r="2.3"/><circle cx="140.3" cy="599.4" r="2.3"/><circle cx="132.9" cy="600.3" r="2.3"/><circle cx="137.9" cy="601.5" r="2.3"/><circle cx="141.0" cy="600.7" r="2.3"/><circle cx="135.5" cy="601.7" r="2.3"/><circle cx="121.9" cy="593.9" r="2.3"/><circle cx="136.5" cy="591.1" r="2.3"/><circle cx="146.0" cy="595.0" r="2.3"/><circle cx="148.9" cy="602.9" r="2.3"/><circle cx="125.0" cy="616.4" r="2.3"/><circle cx="129.0" cy="612.3" r="2.3"/><circle cx="164.0" cy="576.7" r="2.3"/><circle cx="157.8" cy="575.0" r="2.3"/><circle cx="158.5" cy="570.4" r="2.3"/><circle cx="161.1" cy="573.9" r="2.3"/><circle cx="170.6" cy="585.2" r="2.3"/><circle cx="159.1" cy="571.2" r="2.3"/><circle cx="165.3" cy="579.9" r="2.3"/><circle cx="159.8" cy="573.4" r="2.3"/><circle cx="156.6" cy="573.5" r="2.3"/><circle cx="170.6" cy="581.2" r="2.3"/><circle cx="163.0" cy="590.5" r="2.3"/><circle cx="163.1" cy="580.2" r="2.3"/><circle cx="162.2" cy="576.3" r="2.3"/><circle cx="163.2" cy="582.1" r="2.3"/><circle cx="163.7" cy="590.9" r="2.3"/><circle cx="162.8" cy="585.6" r="2.3"/><circle cx="170.6" cy="585.1" r="2.3"/><circle cx="169.9" cy="580.6" r="2.3"/><circle cx="168.8" cy="580.3" r="2.3"/><circle cx="170.4" cy="586.0" r="2.3"/><circle cx="171.5" cy="591.3" r="2.3"/><circle cx="188.1" cy="559.0" r="2.3"/><circle cx="182.3" cy="554.8" r="2.3"/><circle cx="181.2" cy="552.8" r="2.3"/><circle cx="165.9" cy="557.1" r="2.3"/><circle cx="187.8" cy="554.2" r="2.3"/><circle cx="166.6" cy="557.3" r="2.3"/><circle cx="186.0" cy="553.6" r="2.3"/><circle cx="187.2" cy="554.0" r="2.3"/><circle cx="182.9" cy="554.8" r="2.3"/><circle cx="176.6" cy="552.4" r="2.3"/><circle cx="192.0" cy="559.5" r="2.3"/><circle cx="187.0" cy="559.7" r="2.3"/><circle cx="163.5" cy="559.9" r="2.3"/><circle cx="192.1" cy="559.1" r="2.3"/><circle cx="179.6" cy="554.2" r="2.3"/><circle cx="184.2" cy="555.4" r="2.3"/><circle cx="164.8" cy="562.0" r="2.3"/><circle cx="183.8" cy="554.6" r="2.3"/><circle cx="172.4" cy="555.5" r="2.3"/><circle cx="198.2" cy="564.0" r="2.3"/><circle cx="190.2" cy="555.9" r="2.3"/><circle cx="170.5" cy="553.6" r="2.3"/><circle cx="168.5" cy="555.5" r="2.3"/><circle cx="166.9" cy="558.5" r="2.3"/><circle cx="192.2" cy="556.8" r="2.3"/><circle cx="196.6" cy="563.8" r="2.3"/><circle cx="193.1" cy="557.6" r="2.3"/><circle cx="189.9" cy="558.3" r="2.3"/><circle cx="179.0" cy="552.5" r="2.3"/><circle cx="162.3" cy="564.9" r="2.3"/><circle cx="166.2" cy="558.0" r="2.3"/><circle cx="189.3" cy="558.3" r="2.3"/><circle cx="162.9" cy="558.3" r="2.3"/><circle cx="188.6" cy="554.0" r="2.3"/><circle cx="189.8" cy="548.0" r="2.3"/><circle cx="195.0" cy="546.4" r="2.3"/><circle cx="198.0" cy="545.4" r="2.3"/><circle cx="160.6" cy="558.2" r="2.3"/><circle cx="165.3" cy="561.7" r="2.3"/><circle cx="166.3" cy="564.8" r="2.3"/><circle cx="174.2" cy="600.5" r="2.3"/><circle cx="174.7" cy="603.3" r="2.3"/><circle cx="167.9" cy="597.9" r="2.3"/><circle cx="190.8" cy="598.0" r="2.3"/><circle cx="189.9" cy="603.7" r="2.3"/><circle cx="182.0" cy="601.1" r="2.3"/><circle cx="188.0" cy="598.4" r="2.3"/><circle cx="182.0" cy="594.9" r="2.3"/><circle cx="190.8" cy="603.6" r="2.3"/><circle cx="177.4" cy="604.2" r="2.3"/><circle cx="180.6" cy="602.6" r="2.3"/><circle cx="184.2" cy="601.2" r="2.3"/><circle cx="166.2" cy="595.2" r="2.3"/><circle cx="169.3" cy="602.1" r="2.3"/><circle cx="179.5" cy="604.5" r="2.3"/><circle cx="186.1" cy="597.1" r="2.3"/><circle cx="169.1" cy="598.2" r="2.3"/><circle cx="169.3" cy="599.2" r="2.3"/><circle cx="168.4" cy="602.0" r="2.3"/><circle cx="177.7" cy="599.1" r="2.3"/><circle cx="183.0" cy="594.8" r="2.3"/><circle cx="174.7" cy="601.2" r="2.3"/><circle cx="171.4" cy="596.9" r="2.3"/><circle cx="175.5" cy="602.8" r="2.3"/><circle cx="171.0" cy="600.4" r="2.3"/><circle cx="187.7" cy="600.2" r="2.3"/><circle cx="195.0" cy="588.8" r="2.3"/><circle cx="174.1" cy="592.2" r="2.3"/><circle cx="168.4" cy="588.7" r="2.3"/><circle cx="176.2" cy="593.1" r="2.3"/><circle cx="187.9" cy="594.2" r="2.3"/><circle cx="176.1" cy="590.5" r="2.3"/><circle cx="191.7" cy="592.8" r="2.3"/><circle cx="172.3" cy="589.9" r="2.3"/><circle cx="197.6" cy="592.4" r="2.3"/><circle cx="167.3" cy="587.0" r="2.3"/><circle cx="182.5" cy="595.2" r="2.3"/><circle cx="171.0" cy="591.4" r="2.3"/><circle cx="197.2" cy="590.4" r="2.3"/><circle cx="193.5" cy="588.1" r="2.3"/><circle cx="197.2" cy="592.2" r="2.3"/><circle cx="198.8" cy="600.7" r="2.3"/><circle cx="202.2" cy="612.5" r="2.3"/><circle cx="192.4" cy="587.7" r="2.3"/><circle cx="203.5" cy="608.6" r="2.3"/><circle cx="196.9" cy="592.3" r="2.3"/><circle cx="194.1" cy="581.8" r="2.3"/><circle cx="201.0" cy="609.7" r="2.3"/><circle cx="194.0" cy="587.0" r="2.3"/><circle cx="199.7" cy="606.7" r="2.3"/><circle cx="200.1" cy="601.3" r="2.3"/><circle cx="197.5" cy="596.9" r="2.3"/><circle cx="186.8" cy="580.5" r="2.3"/><circle cx="211.7" cy="581.7" r="2.3"/><circle cx="208.8" cy="604.1" r="2.3"/><circle cx="221.9" cy="598.6" r="2.3"/><circle cx="202.7" cy="528.3" r="2.3"/><circle cx="243.6" cy="560.7" r="2.3"/><circle cx="243.8" cy="561.3" r="2.3"/><circle cx="229.2" cy="588.8" r="2.3"/><circle cx="224.7" cy="587.0" r="2.3"/><circle cx="224.0" cy="574.2" r="2.3"/><circle cx="236.3" cy="585.2" r="2.3"/><circle cx="224.9" cy="590.1" r="2.3"/><circle cx="235.6" cy="589.4" r="2.3"/><circle cx="225.4" cy="586.4" r="2.3"/><circle cx="232.7" cy="593.1" r="2.3"/><circle cx="229.7" cy="583.5" r="2.3"/><circle cx="235.2" cy="586.8" r="2.3"/><circle cx="225.5" cy="579.0" r="2.3"/><circle cx="229.2" cy="585.8" r="2.3"/><circle cx="228.9" cy="591.9" r="2.3"/><circle cx="237.2" cy="595.0" r="2.3"/><circle cx="237.2" cy="598.0" r="2.3"/><circle cx="236.0" cy="575.6" r="2.3"/><circle cx="238.7" cy="581.7" r="2.3"/><circle cx="242.0" cy="582.6" r="2.3"/><circle cx="240.8" cy="584.8" r="2.3"/><circle cx="241.6" cy="579.1" r="2.3"/><circle cx="237.9" cy="575.8" r="2.3"/><circle cx="250.2" cy="614.1" r="2.3"/><circle cx="249.1" cy="615.8" r="2.3"/><circle cx="248.0" cy="613.0" r="2.3"/><circle cx="247.8" cy="605.2" r="2.3"/><circle cx="250.4" cy="616.6" r="2.3"/><circle cx="248.5" cy="611.9" r="2.3"/><circle cx="249.6" cy="618.1" r="2.3"/><circle cx="246.4" cy="602.9" r="2.3"/><circle cx="259.0" cy="600.8" r="2.3"/><circle cx="265.8" cy="603.5" r="2.3"/><circle cx="268.5" cy="601.8" r="2.3"/><circle cx="267.7" cy="606.2" r="2.3"/><circle cx="262.5" cy="605.2" r="2.3"/><circle cx="263.5" cy="600.5" r="2.3"/><circle cx="268.9" cy="598.9" r="2.3"/><circle cx="278.7" cy="590.2" r="2.3"/><circle cx="277.6" cy="593.1" r="2.3"/><circle cx="271.8" cy="597.1" r="2.3"/><circle cx="275.4" cy="600.8" r="2.3"/><circle cx="279.1" cy="597.5" r="2.3"/><circle cx="273.2" cy="601.1" r="2.3"/><circle cx="275.8" cy="598.0" r="2.3"/><circle cx="290.4" cy="603.8" r="2.3"/><circle cx="284.2" cy="608.7" r="2.3"/><circle cx="279.6" cy="603.2" r="2.3"/><circle cx="286.3" cy="605.2" r="2.3"/><circle cx="285.1" cy="606.1" r="2.3"/><circle cx="289.9" cy="609.7" r="2.3"/><circle cx="294.7" cy="596.6" r="2.3"/><circle cx="294.9" cy="596.6" r="2.3"/><circle cx="306.7" cy="603.1" r="2.3"/><circle cx="323.1" cy="591.9" r="2.3"/><circle cx="324.5" cy="589.8" r="2.3"/><circle cx="327.7" cy="600.1" r="2.3"/><circle cx="325.8" cy="599.2" r="2.3"/><circle cx="324.5" cy="591.5" r="2.3"/><circle cx="324.2" cy="590.5" r="2.3"/><circle cx="324.0" cy="594.9" r="2.3"/><circle cx="329.5" cy="599.7" r="2.3"/><circle cx="324.3" cy="598.8" r="2.3"/><circle cx="320.0" cy="590.9" r="2.3"/><circle cx="326.6" cy="602.3" r="2.3"/><circle cx="337.1" cy="587.2" r="2.3"/><circle cx="332.5" cy="604.1" r="2.3"/><circle cx="351.6" cy="614.9" r="2.3"/><circle cx="352.8" cy="619.2" r="2.3"/><circle cx="351.1" cy="613.9" r="2.3"/><circle cx="350.8" cy="608.7" r="2.3"/><circle cx="350.4" cy="618.2" r="2.3"/><circle cx="357.1" cy="606.3" r="2.3"/><circle cx="359.7" cy="612.0" r="2.3"/><circle cx="361.4" cy="614.1" r="2.3"/><circle cx="360.9" cy="612.7" r="2.3"/><circle cx="360.2" cy="613.7" r="2.3"/><circle cx="359.7" cy="610.9" r="2.3"/><circle cx="295.6" cy="612.3" r="2.3"/><circle cx="301.8" cy="615.4" r="2.3"/><circle cx="299.7" cy="616.1" r="2.3"/><circle cx="297.8" cy="619.7" r="2.3"/><circle cx="295.8" cy="620.2" r="2.3"/><circle cx="303.9" cy="621.6" r="2.3"/><circle cx="292.3" cy="617.3" r="2.3"/><circle cx="309.8" cy="614.5" r="2.3"/>
</g>
<g fill="#00eeee" stroke="#000" stroke-width="1.4">
<circle cx="223.0" cy="537.2" r="2.0"/><circle cx="214.7" cy="539.3" r="2.0"/><circle cx="211.3" cy="539.2" r="2.0"/><circle cx="211.6" cy="542.9" r="2.0"/><circle cx="213.2" cy="540.8" r="2.0"/><circle cx="219.6" cy="542.0" r="2.0"/><circle cx="212.4" cy="542.8" r="2.0"/><circle cx="228.1" cy="534.9" r="2.0"/><circle cx="227.4" cy="542.7" r="2.0"/><circle cx="214.6" cy="535.9" r="2.0"/><circle cx="211.3" cy="542.6" r="2.0"/><circle cx="222.7" cy="535.1" r="2.0"/><circle cx="227.7" cy="536.2" r="2.0"/><circle cx="216.7" cy="537.2" r="2.0"/><circle cx="227.9" cy="535.7" r="2.0"/><circle cx="228.5" cy="537.0" r="2.0"/><circle cx="225.2" cy="537.5" r="2.0"/><circle cx="218.6" cy="538.7" r="2.0"/><circle cx="227.7" cy="538.7" r="2.0"/><circle cx="211.5" cy="539.9" r="2.0"/><circle cx="226.7" cy="537.5" r="2.0"/><circle cx="219.7" cy="535.4" r="2.0"/><circle cx="224.6" cy="541.9" r="2.0"/><circle cx="223.6" cy="536.0" r="2.0"/><circle cx="211.1" cy="535.4" r="2.0"/><circle cx="218.8" cy="536.2" r="2.0"/><circle cx="211.2" cy="541.0" r="2.0"/><circle cx="216.5" cy="542.0" r="2.0"/><circle cx="222.8" cy="536.7" r="2.0"/><circle cx="222.7" cy="535.6" r="2.0"/><circle cx="213.1" cy="541.3" r="2.0"/><circle cx="218.2" cy="536.7" r="2.0"/><circle cx="224.3" cy="534.9" r="2.0"/><circle cx="226.7" cy="539.1" r="2.0"/><circle cx="224.3" cy="536.4" r="2.0"/><circle cx="220.4" cy="537.7" r="2.0"/><circle cx="226.4" cy="536.3" r="2.0"/><circle cx="213.8" cy="543.7" r="2.0"/><circle cx="223.7" cy="536.5" r="2.0"/><circle cx="214.4" cy="536.1" r="2.0"/><circle cx="208.1" cy="552.7" r="2.0"/><circle cx="203.2" cy="548.1" r="2.0"/><circle cx="207.0" cy="552.7" r="2.0"/><circle cx="209.3" cy="552.2" r="2.0"/><circle cx="208.7" cy="545.5" r="2.0"/><circle cx="203.0" cy="547.7" r="2.0"/><circle cx="206.4" cy="545.8" r="2.0"/><circle cx="205.6" cy="550.4" r="2.0"/><circle cx="203.9" cy="546.4" r="2.0"/><circle cx="204.6" cy="545.8" r="2.0"/>
</g>
<g fill="#00eeee" stroke="#000" stroke-width="0.9">
<circle cx="224.4" cy="531.3" r="2.3"/><circle cx="224.2" cy="535.1" r="2.3"/><circle cx="234.4" cy="544.6" r="2.3"/><circle cx="230.5" cy="542.4" r="2.3"/><circle cx="224.7" cy="532.4" r="2.3"/><circle cx="229.4" cy="533.3" r="2.3"/><circle cx="224.4" cy="548.3" r="2.3"/><circle cx="226.5" cy="533.0" r="2.3"/><circle cx="224.3" cy="551.6" r="2.3"/><circle cx="228.2" cy="543.1" r="2.3"/><circle cx="233.3" cy="532.0" r="2.3"/><circle cx="226.6" cy="534.7" r="2.3"/><circle cx="227.9" cy="534.1" r="2.3"/><circle cx="231.3" cy="550.5" r="2.3"/><circle cx="229.2" cy="542.2" r="2.3"/><circle cx="229.1" cy="539.1" r="2.3"/><circle cx="231.6" cy="542.7" r="2.3"/><circle cx="229.7" cy="532.7" r="2.3"/><circle cx="231.5" cy="547.6" r="2.3"/><circle cx="225.5" cy="545.7" r="2.3"/><circle cx="234.5" cy="543.0" r="2.3"/><circle cx="233.7" cy="529.5" r="2.3"/><circle cx="231.7" cy="543.5" r="2.3"/><circle cx="232.2" cy="540.3" r="2.3"/><circle cx="234.5" cy="540.4" r="2.3"/><circle cx="231.0" cy="536.1" r="2.3"/><circle cx="213.0" cy="539.9" r="2.3"/><circle cx="212.5" cy="537.1" r="2.3"/><circle cx="213.4" cy="533.2" r="2.3"/><circle cx="209.7" cy="537.8" r="2.3"/><circle cx="210.0" cy="531.1" r="2.3"/><circle cx="211.9" cy="536.9" r="2.3"/><circle cx="215.7" cy="533.1" r="2.3"/><circle cx="214.9" cy="536.3" r="2.3"/><circle cx="209.0" cy="537.7" r="2.3"/><circle cx="208.7" cy="537.4" r="2.3"/><circle cx="211.6" cy="536.5" r="2.3"/><circle cx="215.8" cy="535.9" r="2.3"/><circle cx="202.7" cy="554.7" r="2.3"/><circle cx="207.8" cy="549.9" r="2.3"/><circle cx="205.1" cy="550.2" r="2.3"/><circle cx="205.1" cy="547.5" r="2.3"/><circle cx="206.9" cy="556.5" r="2.3"/><circle cx="206.0" cy="553.6" r="2.3"/><circle cx="206.8" cy="550.6" r="2.3"/><circle cx="208.6" cy="543.4" r="2.3"/><circle cx="208.4" cy="548.4" r="2.3"/><circle cx="206.1" cy="555.6" r="2.3"/><circle cx="208.3" cy="554.4" r="2.3"/><circle cx="204.8" cy="548.9" r="2.3"/><circle cx="217.4" cy="543.8" r="2.3"/><circle cx="219.9" cy="543.1" r="2.3"/><circle cx="215.2" cy="546.2" r="2.3"/><circle cx="217.9" cy="545.5" r="2.3"/><circle cx="220.8" cy="545.4" r="2.3"/><circle cx="223.5" cy="546.4" r="2.3"/><circle cx="218.3" cy="544.5" r="2.3"/><circle cx="220.0" cy="547.4" r="2.3"/><circle cx="203.1" cy="524.0" r="2.3"/><circle cx="229.7" cy="525.4" r="2.3"/><circle cx="212.0" cy="530.7" r="2.3"/><circle cx="215.4" cy="530.7" r="2.3"/><circle cx="219.4" cy="552.1" r="2.3"/><circle cx="221.5" cy="555.2" r="2.3"/><circle cx="228.6" cy="553.1" r="2.3"/><circle cx="232.0" cy="554.2" r="2.3"/><circle cx="233.0" cy="527.6" r="2.3"/><circle cx="226.0" cy="528.7" r="2.3"/><circle cx="207.0" cy="559.3" r="2.3"/><circle cx="250.4" cy="587.9" r="2.3"/><circle cx="248.4" cy="583.5" r="2.3"/><circle cx="248.9" cy="588.0" r="2.3"/><circle cx="246.2" cy="575.3" r="2.3"/><circle cx="248.0" cy="588.6" r="2.3"/><circle cx="248.6" cy="587.1" r="2.3"/><circle cx="247.5" cy="581.1" r="2.3"/><circle cx="246.1" cy="575.8" r="2.3"/><circle cx="246.2" cy="580.0" r="2.3"/><circle cx="250.0" cy="575.6" r="2.3"/><circle cx="249.6" cy="597.0" r="2.3"/><circle cx="250.8" cy="616.4" r="2.3"/><circle cx="228.5" cy="573.1" r="2.3"/>
</g>
<g fill="#ffa500" stroke="#000" stroke-width="0.9">
<circle cx="238.1" cy="513.2" r="2.3"/><circle cx="241.5" cy="518.9" r="2.3"/><circle cx="243.2" cy="524.0" r="2.3"/><circle cx="242.2" cy="526.0" r="2.3"/><circle cx="240.5" cy="553.5" r="2.3"/>
</g>
<g fill="#ff0000" stroke="#000" stroke-width="0.9">
<circle cx="239.5" cy="528.5" r="2.3"/>
</g><path d="M240.1,486.6 L243.1,489.6 L240.1,492.6 L237.1,489.6 Z" fill="#9932cc" stroke="#000" stroke-width="0.6"/><line x1="241.6" y1="488.4" x2="251.2" y2="482.2" stroke="#000" stroke-width="0.7"/><text x="253.3" y="480.3" font-size="9.4">rs138788</text>
<g fill="#4169e1" stroke="#000" stroke-width="1.4">
<circle cx="148.7" cy="946.2" r="2.0"/><circle cx="118.8" cy="937.9" r="2.0"/><circle cx="123.9" cy="946.4" r="2.0"/><circle cx="138.8" cy="944.2" r="2.0"/><circle cx="146.5" cy="945.4" r="2.0"/><circle cx="148.7" cy="944.5" r="2.0"/><circle cx="137.2" cy="938.6" r="2.0"/><circle cx="139.9" cy="938.6" r="2.0"/><circle cx="140.7" cy="947.1" r="2.0"/><circle cx="146.2" cy="941.9" r="2.0"/><circle cx="127.9" cy="945.8" r="2.0"/><circle cx="145.2" cy="941.9" r="2.0"/><circle cx="148.0" cy="940.1" r="2.0"/><circle cx="148.8" cy="942.1" r="2.0"/><circle cx="140.3" cy="941.7" r="2.0"/><circle cx="126.3" cy="938.3" r="2.0"/><circle cx="128.0" cy="940.0" r="2.0"/><circle cx="148.5" cy="941.3" r="2.0"/><circle cx="122.6" cy="939.6" r="2.0"/><circle cx="139.4" cy="945.8" r="2.0"/><circle cx="119.6" cy="942.4" r="2.0"/><circle cx="119.0" cy="938.6" r="2.0"/><circle cx="134.2" cy="942.6" r="2.0"/><circle cx="131.1" cy="941.2" r="2.0"/><circle cx="147.3" cy="944.6" r="2.0"/><circle cx="130.0" cy="941.9" r="2.0"/><circle cx="127.5" cy="941.8" r="2.0"/><circle cx="135.4" cy="943.4" r="2.0"/><circle cx="139.5" cy="942.5" r="2.0"/><circle cx="120.8" cy="937.9" r="2.0"/><circle cx="129.4" cy="943.4" r="2.0"/><circle cx="130.9" cy="938.6" r="2.0"/><circle cx="148.5" cy="942.6" r="2.0"/><circle cx="130.8" cy="946.7" r="2.0"/><circle cx="146.7" cy="945.9" r="2.0"/><circle cx="135.5" cy="944.2" r="2.0"/><circle cx="128.5" cy="944.1" r="2.0"/><circle cx="124.1" cy="947.2" r="2.0"/><circle cx="135.1" cy="939.9" r="2.0"/><circle cx="138.7" cy="945.6" r="2.0"/><circle cx="140.2" cy="947.1" r="2.0"/><circle cx="131.1" cy="939.6" r="2.0"/><circle cx="147.5" cy="943.1" r="2.0"/><circle cx="145.1" cy="942.8" r="2.0"/><circle cx="134.8" cy="941.9" r="2.0"/><circle cx="149.7" cy="940.4" r="2.0"/><circle cx="133.1" cy="940.5" r="2.0"/><circle cx="138.6" cy="944.2" r="2.0"/><circle cx="143.1" cy="939.6" r="2.0"/><circle cx="137.5" cy="938.4" r="2.0"/><circle cx="118.6" cy="942.7" r="2.0"/><circle cx="138.3" cy="944.3" r="2.0"/><circle cx="123.5" cy="940.9" r="2.0"/><circle cx="131.9" cy="945.0" r="2.0"/><circle cx="119.3" cy="938.2" r="2.0"/><circle cx="129.3" cy="946.5" r="2.0"/><circle cx="124.9" cy="945.1" r="2.0"/><circle cx="145.7" cy="945.8" r="2.0"/><circle cx="126.8" cy="946.7" r="2.0"/><circle cx="133.0" cy="945.6" r="2.0"/><circle cx="129.0" cy="940.5" r="2.0"/><circle cx="147.6" cy="939.5" r="2.0"/><circle cx="119.2" cy="943.9" r="2.0"/><circle cx="145.2" cy="947.3" r="2.0"/><circle cx="124.5" cy="942.8" r="2.0"/><circle cx="130.2" cy="940.3" r="2.0"/><circle cx="141.0" cy="943.1" r="2.0"/><circle cx="126.0" cy="945.4" r="2.0"/><circle cx="126.5" cy="947.0" r="2.0"/><circle cx="139.3" cy="946.1" r="2.0"/><circle cx="146.5" cy="941.3" r="2.0"/><circle cx="119.8" cy="942.8" r="2.0"/><circle cx="137.3" cy="947.2" r="2.0"/><circle cx="133.6" cy="947.3" r="2.0"/><circle cx="142.5" cy="947.6" r="2.0"/><circle cx="138.2" cy="938.0" r="2.0"/><circle cx="145.1" cy="945.3" r="2.0"/><circle cx="135.1" cy="946.2" r="2.0"/><circle cx="129.0" cy="939.2" r="2.0"/><circle cx="144.2" cy="947.5" r="2.0"/><circle cx="130.2" cy="941.4" r="2.0"/><circle cx="123.6" cy="939.8" r="2.0"/><circle cx="146.6" cy="942.2" r="2.0"/><circle cx="129.6" cy="939.4" r="2.0"/><circle cx="134.4" cy="945.8" r="2.0"/><circle cx="126.9" cy="946.1" r="2.0"/><circle cx="144.8" cy="942.6" r="2.0"/><circle cx="140.3" cy="939.7" r="2.0"/><circle cx="149.2" cy="945.8" r="2.0"/><circle cx="131.0" cy="939.1" r="2.0"/><circle cx="142.4" cy="943.8" r="2.0"/><circle cx="139.0" cy="945.7" r="2.0"/><circle cx="123.2" cy="947.1" r="2.0"/><circle cx="130.2" cy="945.3" r="2.0"/><circle cx="134.6" cy="938.2" r="2.0"/><circle cx="122.9" cy="942.2" r="2.0"/><circle cx="145.7" cy="941.8" r="2.0"/><circle cx="134.9" cy="940.1" r="2.0"/><circle cx="118.7" cy="938.4" r="2.0"/><circle cx="140.0" cy="939.8" r="2.0"/><circle cx="144.4" cy="946.6" r="2.0"/><circle cx="120.1" cy="945.9" r="2.0"/><circle cx="134.2" cy="938.5" r="2.0"/><circle cx="147.1" cy="943.6" r="2.0"/><circle cx="137.9" cy="940.4" r="2.0"/><circle cx="128.6" cy="938.2" r="2.0"/><circle cx="148.1" cy="940.5" r="2.0"/><circle cx="146.8" cy="939.8" r="2.0"/><circle cx="138.9" cy="944.5" r="2.0"/><circle cx="127.0" cy="945.3" r="2.0"/><circle cx="119.8" cy="938.6" r="2.0"/><circle cx="127.5" cy="947.4" r="2.0"/><circle cx="128.1" cy="946.6" r="2.0"/><circle cx="132.2" cy="944.4" r="2.0"/><circle cx="123.6" cy="943.0" r="2.0"/><circle cx="131.3" cy="944.2" r="2.0"/><circle cx="144.0" cy="944.6" r="2.0"/><circle cx="135.3" cy="939.1" r="2.0"/><circle cx="148.7" cy="944.0" r="2.0"/><circle cx="119.3" cy="938.4" r="2.0"/><circle cx="134.5" cy="945.5" r="2.0"/><circle cx="122.1" cy="945.3" r="2.0"/><circle cx="127.9" cy="946.3" r="2.0"/><circle cx="119.6" cy="937.9" r="2.0"/><circle cx="144.2" cy="946.5" r="2.0"/><circle cx="133.4" cy="939.8" r="2.0"/><circle cx="134.1" cy="946.9" r="2.0"/><circle cx="128.9" cy="943.9" r="2.0"/><circle cx="147.3" cy="941.9" r="2.0"/><circle cx="132.7" cy="941.5" r="2.0"/><circle cx="119.6" cy="940.9" r="2.0"/><circle cx="143.9" cy="941.1" r="2.0"/><circle cx="129.5" cy="944.8" r="2.0"/><circle cx="118.3" cy="946.8" r="2.0"/><circle cx="122.9" cy="943.2" r="2.0"/><circle cx="142.9" cy="945.5" r="2.0"/><circle cx="133.1" cy="941.4" r="2.0"/><circle cx="138.1" cy="947.4" r="2.0"/><circle cx="147.5" cy="941.9" r="2.0"/><circle cx="127.7" cy="945.3" r="2.0"/><circle cx="140.0" cy="938.5" r="2.0"/><circle cx="128.8" cy="943.7" r="2.0"/><circle cx="135.8" cy="945.9" r="2.0"/><circle cx="131.0" cy="938.7" r="2.0"/><circle cx="135.8" cy="939.6" r="2.0"/><circle cx="126.4" cy="939.2" r="2.0"/><circle cx="143.0" cy="945.4" r="2.0"/><circle cx="135.0" cy="941.0" r="2.0"/><circle cx="136.3" cy="941.8" r="2.0"/><circle cx="125.7" cy="942.2" r="2.0"/><circle cx="129.3" cy="939.9" r="2.0"/><circle cx="129.9" cy="938.1" r="2.0"/><circle cx="136.6" cy="945.4" r="2.0"/><circle cx="131.3" cy="946.4" r="2.0"/><circle cx="141.6" cy="947.2" r="2.0"/><circle cx="137.4" cy="944.6" r="2.0"/><circle cx="142.9" cy="946.4" r="2.0"/><circle cx="139.8" cy="940.7" r="2.0"/><circle cx="125.5" cy="946.3" r="2.0"/><circle cx="129.9" cy="941.3" r="2.0"/><circle cx="126.3" cy="947.5" r="2.0"/><circle cx="132.1" cy="939.7" r="2.0"/><circle cx="123.0" cy="938.5" r="2.0"/><circle cx="134.3" cy="946.0" r="2.0"/><circle cx="121.2" cy="944.0" r="2.0"/><circle cx="133.2" cy="945.9" r="2.0"/><circle cx="120.7" cy="942.7" r="2.0"/><circle cx="126.1" cy="943.3" r="2.0"/><circle cx="132.4" cy="940.8" r="2.0"/><circle cx="136.5" cy="945.4" r="2.0"/><circle cx="123.8" cy="939.3" r="2.0"/><circle cx="119.6" cy="946.4" r="2.0"/><circle cx="120.2" cy="939.6" r="2.0"/><circle cx="135.3" cy="938.6" r="2.0"/><circle cx="138.0" cy="944.3" r="2.0"/><circle cx="131.8" cy="940.5" r="2.0"/><circle cx="125.4" cy="939.8" r="2.0"/><circle cx="131.0" cy="947.2" r="2.0"/><circle cx="129.0" cy="942.2" r="2.0"/><circle cx="122.7" cy="938.8" r="2.0"/><circle cx="147.6" cy="942.6" r="2.0"/><circle cx="146.9" cy="940.9" r="2.0"/><circle cx="135.2" cy="946.1" r="2.0"/><circle cx="148.5" cy="938.7" r="2.0"/><circle cx="132.5" cy="943.9" r="2.0"/><circle cx="120.4" cy="941.6" r="2.0"/><circle cx="145.4" cy="943.8" r="2.0"/><circle cx="127.2" cy="941.6" r="2.0"/><circle cx="143.4" cy="946.0" r="2.0"/><circle cx="127.0" cy="941.4" r="2.0"/><circle cx="119.3" cy="939.7" r="2.0"/><circle cx="128.1" cy="939.5" r="2.0"/><circle cx="132.6" cy="946.0" r="2.0"/><circle cx="118.6" cy="946.5" r="2.0"/><circle cx="126.3" cy="940.2" r="2.0"/><circle cx="143.4" cy="941.5" r="2.0"/><circle cx="127.8" cy="941.2" r="2.0"/><circle cx="141.4" cy="944.0" r="2.0"/><circle cx="120.6" cy="943.0" r="2.0"/><circle cx="125.1" cy="945.8" r="2.0"/><circle cx="130.5" cy="946.9" r="2.0"/><circle cx="146.7" cy="944.9" r="2.0"/><circle cx="146.7" cy="940.4" r="2.0"/><circle cx="118.3" cy="938.9" r="2.0"/><circle cx="143.9" cy="942.5" r="2.0"/><circle cx="146.3" cy="943.0" r="2.0"/><circle cx="118.8" cy="946.1" r="2.0"/><circle cx="127.9" cy="939.3" r="2.0"/><circle cx="144.5" cy="946.5" r="2.0"/><circle cx="129.2" cy="946.5" r="2.0"/><circle cx="125.3" cy="944.2" r="2.0"/><circle cx="131.3" cy="946.1" r="2.0"/><circle cx="139.0" cy="945.2" r="2.0"/><circle cx="146.5" cy="942.9" r="2.0"/><circle cx="131.7" cy="940.2" r="2.0"/><circle cx="129.0" cy="945.1" r="2.0"/><circle cx="121.9" cy="944.7" r="2.0"/><circle cx="125.5" cy="940.5" r="2.0"/><circle cx="129.4" cy="940.7" r="2.0"/><circle cx="126.8" cy="946.9" r="2.0"/><circle cx="127.8" cy="943.8" r="2.0"/><circle cx="147.1" cy="945.7" r="2.0"/><circle cx="124.8" cy="946.1" r="2.0"/><circle cx="126.1" cy="938.3" r="2.0"/><circle cx="147.8" cy="945.4" r="2.0"/><circle cx="119.6" cy="942.9" r="2.0"/><circle cx="136.7" cy="946.5" r="2.0"/><circle cx="131.4" cy="940.1" r="2.0"/><circle cx="118.0" cy="940.6" r="2.0"/><circle cx="139.9" cy="940.0" r="2.0"/><circle cx="133.6" cy="943.1" r="2.0"/><circle cx="134.6" cy="946.3" r="2.0"/><circle cx="134.4" cy="945.3" r="2.0"/><circle cx="128.3" cy="947.2" r="2.0"/><circle cx="123.1" cy="947.1" r="2.0"/><circle cx="135.3" cy="945.3" r="2.0"/><circle cx="135.8" cy="942.7" r="2.0"/><circle cx="125.5" cy="946.4" r="2.0"/><circle cx="137.1" cy="941.0" r="2.0"/><circle cx="140.1" cy="942.7" r="2.0"/><circle cx="136.6" cy="947.4" r="2.0"/><circle cx="127.8" cy="939.8" r="2.0"/><circle cx="130.1" cy="946.6" r="2.0"/><circle cx="131.5" cy="939.5" r="2.0"/><circle cx="121.1" cy="946.5" r="2.0"/><circle cx="133.9" cy="939.1" r="2.0"/><circle cx="130.5" cy="945.2" r="2.0"/><circle cx="142.6" cy="946.7" r="2.0"/><circle cx="127.5" cy="941.8" r="2.0"/><circle cx="145.2" cy="939.2" r="2.0"/><circle cx="128.4" cy="945.0" r="2.0"/><circle cx="129.6" cy="946.4" r="2.0"/><circle cx="126.7" cy="940.2" r="2.0"/><circle cx="149.3" cy="945.0" r="2.0"/><circle cx="120.3" cy="940.4" r="2.0"/><circle cx="148.9" cy="939.9" r="2.0"/><circle cx="131.2" cy="940.4" r="2.0"/><circle cx="142.3" cy="940.4" r="2.0"/><circle cx="133.8" cy="937.9" r="2.0"/><circle cx="143.0" cy="945.3" r="2.0"/><circle cx="177.2" cy="946.5" r="2.0"/><circle cx="175.0" cy="937.6" r="2.0"/><circle cx="179.5" cy="941.2" r="2.0"/><circle cx="191.2" cy="946.5" r="2.0"/><circle cx="174.1" cy="941.7" r="2.0"/><circle cx="179.8" cy="939.2" r="2.0"/><circle cx="197.5" cy="937.8" r="2.0"/><circle cx="181.8" cy="939.2" r="2.0"/><circle cx="181.5" cy="935.5" r="2.0"/><circle cx="183.9" cy="940.3" r="2.0"/><circle cx="175.8" cy="942.5" r="2.0"/><circle cx="190.6" cy="943.0" r="2.0"/><circle cx="196.2" cy="938.7" r="2.0"/><circle cx="198.2" cy="938.9" r="2.0"/><circle cx="182.8" cy="943.1" r="2.0"/><circle cx="160.7" cy="939.5" r="2.0"/><circle cx="190.1" cy="938.7" r="2.0"/><circle cx="190.4" cy="947.2" r="2.0"/><circle cx="187.4" cy="944.2" r="2.0"/><circle cx="175.5" cy="936.9" r="2.0"/><circle cx="176.2" cy="941.9" r="2.0"/><circle cx="162.0" cy="945.4" r="2.0"/><circle cx="168.4" cy="945.0" r="2.0"/><circle cx="180.9" cy="947.0" r="2.0"/><circle cx="163.6" cy="946.5" r="2.0"/><circle cx="189.3" cy="935.7" r="2.0"/><circle cx="190.0" cy="941.3" r="2.0"/><circle cx="165.2" cy="938.0" r="2.0"/><circle cx="165.2" cy="946.7" r="2.0"/><circle cx="180.5" cy="937.0" r="2.0"/><circle cx="172.4" cy="937.0" r="2.0"/><circle cx="173.3" cy="935.7" r="2.0"/><circle cx="189.5" cy="937.0" r="2.0"/><circle cx="199.4" cy="937.6" r="2.0"/><circle cx="167.8" cy="941.3" r="2.0"/><circle cx="181.8" cy="938.7" r="2.0"/><circle cx="169.2" cy="940.5" r="2.0"/><circle cx="171.4" cy="945.3" r="2.0"/><circle cx="178.0" cy="937.7" r="2.0"/><circle cx="182.2" cy="943.3" r="2.0"/><circle cx="169.0" cy="943.2" r="2.0"/><circle cx="176.0" cy="944.3" r="2.0"/><circle cx="172.4" cy="944.8" r="2.0"/><circle cx="171.8" cy="939.3" r="2.0"/><circle cx="185.0" cy="939.9" r="2.0"/><circle cx="197.0" cy="939.4" r="2.0"/><circle cx="165.2" cy="942.6" r="2.0"/><circle cx="181.0" cy="938.4" r="2.0"/><circle cx="181.2" cy="946.5" r="2.0"/><circle cx="179.0" cy="939.6" r="2.0"/><circle cx="191.4" cy="942.1" r="2.0"/><circle cx="168.6" cy="947.2" r="2.0"/><circle cx="180.1" cy="938.4" r="2.0"/><circle cx="164.4" cy="941.2" r="2.0"/><circle cx="183.9" cy="940.7" r="2.0"/><circle cx="169.3" cy="946.5" r="2.0"/><circle cx="160.9" cy="943.9" r="2.0"/><circle cx="195.9" cy="942.5" r="2.0"/><circle cx="199.5" cy="937.5" r="2.0"/><circle cx="183.4" cy="942.2" r="2.0"/><circle cx="182.5" cy="937.3" r="2.0"/><circle cx="173.4" cy="945.7" r="2.0"/><circle cx="195.9" cy="939.9" r="2.0"/><circle cx="175.1" cy="942.7" r="2.0"/><circle cx="164.0" cy="940.6" r="2.0"/><circle cx="191.4" cy="941.5" r="2.0"/><circle cx="187.9" cy="938.5" r="2.0"/><circle cx="173.2" cy="939.8" r="2.0"/><circle cx="198.9" cy="938.8" r="2.0"/><circle cx="167.3" cy="939.5" r="2.0"/><circle cx="185.8" cy="938.1" r="2.0"/><circle cx="188.1" cy="936.4" r="2.0"/><circle cx="199.0" cy="945.0" r="2.0"/><circle cx="179.2" cy="947.0" r="2.0"/><circle cx="199.4" cy="946.3" r="2.0"/><circle cx="177.1" cy="940.0" r="2.0"/><circle cx="177.2" cy="945.5" r="2.0"/><circle cx="180.1" cy="944.9" r="2.0"/><circle cx="179.6" cy="938.8" r="2.0"/><circle cx="172.0" cy="942.1" r="2.0"/><circle cx="185.3" cy="941.1" r="2.0"/><circle cx="192.0" cy="936.7" r="2.0"/><circle cx="198.7" cy="945.6" r="2.0"/><circle cx="179.3" cy="946.2" r="2.0"/><circle cx="187.9" cy="942.7" r="2.0"/><circle cx="194.0" cy="941.7" r="2.0"/><circle cx="191.9" cy="947.2" r="2.0"/><circle cx="184.5" cy="942.5" r="2.0"/><circle cx="193.3" cy="946.3" r="2.0"/><circle cx="163.6" cy="939.2" r="2.0"/><circle cx="173.1" cy="942.3" r="2.0"/><circle cx="176.2" cy="935.5" r="2.0"/><circle cx="185.0" cy="937.4" r="2.0"/><circle cx="193.6" cy="937.1" r="2.0"/><circle cx="177.9" cy="944.0" r="2.0"/><circle cx="180.6" cy="936.6" r="2.0"/><circle cx="195.3" cy="941.7" r="2.0"/><circle cx="196.3" cy="938.2" r="2.0"/><circle cx="161.6" cy="939.8" r="2.0"/><circle cx="191.7" cy="947.1" r="2.0"/><circle cx="175.1" cy="939.7" r="2.0"/><circle cx="180.3" cy="941.1" r="2.0"/><circle cx="163.6" cy="944.4" r="2.0"/><circle cx="194.7" cy="943.3" r="2.0"/><circle cx="179.2" cy="940.4" r="2.0"/><circle cx="171.3" cy="942.5" r="2.0"/><circle cx="180.2" cy="936.9" r="2.0"/><circle cx="193.7" cy="945.4" r="2.0"/><circle cx="180.1" cy="938.4" r="2.0"/><circle cx="195.9" cy="941.1" r="2.0"/><circle cx="185.3" cy="939.7" r="2.0"/><circle cx="186.7" cy="936.6" r="2.0"/><circle cx="199.4" cy="935.4" r="2.0"/><circle cx="165.0" cy="938.8" r="2.0"/><circle cx="175.5" cy="944.2" r="2.0"/><circle cx="164.0" cy="936.4" r="2.0"/><circle cx="195.7" cy="941.1" r="2.0"/><circle cx="179.9" cy="945.1" r="2.0"/><circle cx="197.1" cy="938.3" r="2.0"/><circle cx="166.7" cy="940.6" r="2.0"/><circle cx="199.8" cy="928.3" r="2.0"/><circle cx="180.4" cy="929.2" r="2.0"/><circle cx="188.9" cy="928.0" r="2.0"/><circle cx="185.4" cy="930.7" r="2.0"/><circle cx="197.2" cy="927.9" r="2.0"/><circle cx="193.2" cy="929.3" r="2.0"/><circle cx="173.5" cy="932.1" r="2.0"/><circle cx="172.1" cy="928.7" r="2.0"/><circle cx="170.2" cy="931.1" r="2.0"/><circle cx="196.7" cy="927.5" r="2.0"/><circle cx="195.2" cy="927.8" r="2.0"/><circle cx="199.7" cy="930.3" r="2.0"/><circle cx="194.3" cy="929.3" r="2.0"/><circle cx="189.5" cy="929.4" r="2.0"/><circle cx="176.4" cy="931.0" r="2.0"/><circle cx="173.8" cy="929.5" r="2.0"/><circle cx="179.9" cy="930.3" r="2.0"/><circle cx="193.9" cy="928.9" r="2.0"/><circle cx="174.4" cy="929.2" r="2.0"/><circle cx="179.8" cy="928.5" r="2.0"/><circle cx="172.0" cy="929.3" r="2.0"/><circle cx="194.0" cy="926.8" r="2.0"/><circle cx="198.5" cy="927.7" r="2.0"/><circle cx="198.0" cy="928.8" r="2.0"/><circle cx="189.1" cy="929.3" r="2.0"/><circle cx="192.3" cy="928.5" r="2.0"/><circle cx="169.5" cy="928.2" r="2.0"/><circle cx="174.7" cy="928.8" r="2.0"/><circle cx="179.4" cy="929.6" r="2.0"/><circle cx="176.7" cy="931.1" r="2.0"/><circle cx="192.4" cy="932.4" r="2.0"/><circle cx="177.3" cy="930.6" r="2.0"/><circle cx="196.6" cy="928.7" r="2.0"/><circle cx="195.8" cy="929.7" r="2.0"/><circle cx="178.2" cy="930.9" r="2.0"/><circle cx="198.2" cy="927.7" r="2.0"/><circle cx="192.1" cy="929.0" r="2.0"/><circle cx="185.8" cy="929.9" r="2.0"/><circle cx="189.7" cy="928.4" r="2.0"/><circle cx="187.2" cy="930.7" r="2.0"/><circle cx="171.7" cy="929.8" r="2.0"/><circle cx="184.8" cy="930.7" r="2.0"/><circle cx="169.4" cy="929.8" r="2.0"/><circle cx="183.5" cy="929.4" r="2.0"/><circle cx="192.4" cy="928.3" r="2.0"/><circle cx="178.1" cy="928.4" r="2.0"/><circle cx="175.2" cy="930.5" r="2.0"/><circle cx="173.5" cy="929.8" r="2.0"/><circle cx="178.7" cy="929.7" r="2.0"/><circle cx="187.2" cy="930.3" r="2.0"/><circle cx="181.4" cy="931.8" r="2.0"/><circle cx="186.2" cy="929.1" r="2.0"/><circle cx="196.5" cy="929.3" r="2.0"/><circle cx="185.5" cy="930.3" r="2.0"/><circle cx="199.2" cy="928.6" r="2.0"/><circle cx="178.2" cy="929.8" r="2.0"/><circle cx="178.4" cy="928.9" r="2.0"/><circle cx="170.7" cy="929.2" r="2.0"/><circle cx="191.5" cy="929.5" r="2.0"/><circle cx="194.7" cy="930.0" r="2.0"/><circle cx="188.8" cy="931.4" r="2.0"/><circle cx="176.6" cy="930.0" r="2.0"/><circle cx="182.7" cy="930.2" r="2.0"/><circle cx="184.4" cy="929.1" r="2.0"/><circle cx="167.6" cy="930.5" r="2.0"/><circle cx="175.6" cy="929.4" r="2.0"/><circle cx="194.1" cy="929.1" r="2.0"/><circle cx="188.7" cy="929.9" r="2.0"/><circle cx="191.9" cy="929.7" r="2.0"/><circle cx="175.6" cy="928.6" r="2.0"/><circle cx="279.4" cy="937.8" r="2.0"/><circle cx="292.3" cy="940.5" r="2.0"/><circle cx="248.5" cy="941.5" r="2.0"/><circle cx="279.3" cy="938.8" r="2.0"/><circle cx="262.8" cy="947.1" r="2.0"/><circle cx="275.3" cy="945.9" r="2.0"/><circle cx="272.3" cy="945.4" r="2.0"/><circle cx="289.3" cy="947.4" r="2.0"/><circle cx="274.2" cy="936.9" r="2.0"/><circle cx="278.2" cy="946.4" r="2.0"/><circle cx="273.7" cy="937.6" r="2.0"/><circle cx="277.7" cy="936.8" r="2.0"/><circle cx="286.3" cy="944.1" r="2.0"/><circle cx="253.8" cy="938.2" r="2.0"/><circle cx="270.6" cy="937.5" r="2.0"/><circle cx="268.9" cy="938.8" r="2.0"/><circle cx="254.8" cy="937.2" r="2.0"/><circle cx="288.7" cy="939.1" r="2.0"/><circle cx="284.4" cy="940.6" r="2.0"/><circle cx="256.0" cy="943.8" r="2.0"/><circle cx="261.2" cy="944.4" r="2.0"/><circle cx="275.5" cy="943.9" r="2.0"/><circle cx="278.9" cy="937.2" r="2.0"/><circle cx="294.7" cy="947.6" r="2.0"/><circle cx="276.7" cy="941.3" r="2.0"/><circle cx="268.3" cy="938.5" r="2.0"/><circle cx="289.4" cy="945.6" r="2.0"/><circle cx="277.9" cy="946.3" r="2.0"/><circle cx="268.7" cy="943.8" r="2.0"/><circle cx="286.5" cy="937.6" r="2.0"/><circle cx="288.9" cy="942.6" r="2.0"/><circle cx="281.4" cy="940.6" r="2.0"/><circle cx="273.4" cy="946.5" r="2.0"/><circle cx="260.6" cy="934.4" r="2.0"/><circle cx="276.0" cy="946.7" r="2.0"/><circle cx="264.7" cy="946.4" r="2.0"/><circle cx="253.9" cy="943.0" r="2.0"/><circle cx="261.7" cy="947.5" r="2.0"/><circle cx="271.3" cy="935.9" r="2.0"/><circle cx="269.7" cy="943.3" r="2.0"/><circle cx="265.9" cy="944.9" r="2.0"/><circle cx="263.4" cy="945.7" r="2.0"/><circle cx="268.2" cy="935.8" r="2.0"/><circle cx="265.2" cy="936.1" r="2.0"/><circle cx="271.5" cy="940.2" r="2.0"/><circle cx="270.7" cy="943.4" r="2.0"/><circle cx="289.6" cy="941.9" r="2.0"/><circle cx="256.9" cy="944.1" r="2.0"/><circle cx="266.5" cy="940.9" r="2.0"/><circle cx="265.7" cy="944.9" r="2.0"/><circle cx="262.3" cy="933.9" r="2.0"/><circle cx="282.8" cy="937.9" r="2.0"/><circle cx="290.1" cy="946.6" r="2.0"/><circle cx="273.2" cy="939.1" r="2.0"/><circle cx="270.9" cy="941.6" r="2.0"/><circle cx="277.7" cy="940.6" r="2.0"/><circle cx="256.3" cy="947.2" r="2.0"/><circle cx="260.8" cy="947.3" r="2.0"/><circle cx="262.5" cy="947.3" r="2.0"/><circle cx="252.9" cy="938.7" r="2.0"/><circle cx="257.2" cy="938.0" r="2.0"/><circle cx="267.7" cy="937.0" r="2.0"/><circle cx="274.2" cy="937.0" r="2.0"/><circle cx="268.0" cy="943.0" r="2.0"/><circle cx="291.6" cy="940.9" r="2.0"/><circle cx="268.1" cy="936.5" r="2.0"/><circle cx="282.3" cy="940.7" r="2.0"/><circle cx="249.3" cy="934.4" r="2.0"/><circle cx="253.0" cy="947.5" r="2.0"/><circle cx="263.9" cy="945.7" r="2.0"/><circle cx="259.3" cy="941.7" r="2.0"/><circle cx="271.7" cy="939.6" r="2.0"/><circle cx="288.7" cy="940.6" r="2.0"/><circle cx="288.7" cy="943.6" r="2.0"/><circle cx="255.0" cy="937.9" r="2.0"/><circle cx="294.8" cy="946.4" r="2.0"/><circle cx="276.8" cy="943.7" r="2.0"/><circle cx="294.2" cy="947.4" r="2.0"/><circle cx="270.5" cy="943.8" r="2.0"/><circle cx="265.4" cy="938.2" r="2.0"/><circle cx="248.0" cy="944.3" r="2.0"/><circle cx="293.5" cy="943.5" r="2.0"/><circle cx="248.6" cy="939.0" r="2.0"/><circle cx="278.9" cy="936.6" r="2.0"/><circle cx="289.6" cy="937.5" r="2.0"/><circle cx="260.4" cy="944.1" r="2.0"/><circle cx="280.7" cy="944.3" r="2.0"/><circle cx="265.7" cy="947.3" r="2.0"/><circle cx="257.3" cy="946.3" r="2.0"/><circle cx="265.5" cy="938.8" r="2.0"/><circle cx="257.1" cy="944.4" r="2.0"/><circle cx="251.9" cy="942.5" r="2.0"/><circle cx="275.6" cy="940.9" r="2.0"/><circle cx="278.4" cy="941.9" r="2.0"/><circle cx="280.7" cy="938.6" r="2.0"/><circle cx="287.5" cy="947.6" r="2.0"/><circle cx="291.7" cy="943.2" r="2.0"/><circle cx="294.7" cy="940.2" r="2.0"/><circle cx="269.7" cy="947.3" r="2.0"/><circle cx="252.6" cy="936.7" r="2.0"/><circle cx="248.3" cy="947.2" r="2.0"/><circle cx="280.8" cy="941.1" r="2.0"/><circle cx="279.8" cy="947.1" r="2.0"/><circle cx="293.0" cy="940.2" r="2.0"/><circle cx="248.5" cy="939.8" r="2.0"/><circle cx="263.3" cy="945.2" r="2.0"/><circle cx="276.9" cy="935.7" r="2.0"/><circle cx="249.5" cy="935.9" r="2.0"/><circle cx="291.8" cy="947.0" r="2.0"/><circle cx="290.2" cy="947.5" r="2.0"/><circle cx="263.1" cy="947.4" r="2.0"/><circle cx="256.3" cy="945.9" r="2.0"/><circle cx="274.4" cy="943.0" r="2.0"/><circle cx="293.5" cy="940.2" r="2.0"/><circle cx="251.5" cy="947.0" r="2.0"/><circle cx="261.1" cy="936.7" r="2.0"/><circle cx="285.7" cy="938.5" r="2.0"/><circle cx="288.7" cy="940.1" r="2.0"/><circle cx="274.3" cy="937.5" r="2.0"/><circle cx="286.7" cy="938.9" r="2.0"/><circle cx="289.3" cy="942.5" r="2.0"/><circle cx="252.1" cy="939.1" r="2.0"/><circle cx="280.9" cy="936.6" r="2.0"/><circle cx="283.1" cy="937.5" r="2.0"/><circle cx="290.9" cy="944.8" r="2.0"/><circle cx="291.5" cy="942.2" r="2.0"/><circle cx="268.4" cy="942.6" r="2.0"/><circle cx="271.3" cy="943.2" r="2.0"/><circle cx="281.9" cy="945.3" r="2.0"/><circle cx="268.5" cy="939.8" r="2.0"/><circle cx="293.6" cy="940.5" r="2.0"/><circle cx="274.1" cy="943.8" r="2.0"/><circle cx="279.0" cy="936.7" r="2.0"/><circle cx="248.8" cy="942.7" r="2.0"/><circle cx="261.3" cy="937.4" r="2.0"/><circle cx="279.3" cy="947.6" r="2.0"/><circle cx="290.2" cy="943.9" r="2.0"/><circle cx="254.5" cy="946.7" r="2.0"/><circle cx="251.4" cy="944.8" r="2.0"/><circle cx="251.9" cy="937.8" r="2.0"/><circle cx="254.5" cy="942.3" r="2.0"/><circle cx="278.9" cy="943.1" r="2.0"/><circle cx="261.7" cy="942.2" r="2.0"/><circle cx="269.6" cy="940.9" r="2.0"/><circle cx="275.7" cy="944.5" r="2.0"/><circle cx="280.0" cy="937.8" r="2.0"/><circle cx="293.4" cy="941.8" r="2.0"/><circle cx="261.8" cy="947.6" r="2.0"/><circle cx="268.2" cy="934.6" r="2.0"/><circle cx="294.5" cy="940.8" r="2.0"/><circle cx="257.1" cy="945.5" r="2.0"/><circle cx="255.3" cy="942.3" r="2.0"/><circle cx="292.7" cy="946.0" r="2.0"/><circle cx="286.4" cy="942.2" r="2.0"/><circle cx="260.6" cy="942.2" r="2.0"/><circle cx="250.5" cy="938.9" r="2.0"/><circle cx="290.5" cy="944.8" r="2.0"/><circle cx="293.6" cy="945.3" r="2.0"/><circle cx="264.6" cy="938.9" r="2.0"/><circle cx="258.1" cy="947.3" r="2.0"/><circle cx="271.5" cy="942.2" r="2.0"/><circle cx="255.6" cy="945.8" r="2.0"/><circle cx="253.3" cy="945.6" r="2.0"/><circle cx="255.1" cy="938.9" r="2.0"/><circle cx="289.9" cy="941.8" r="2.0"/><circle cx="258.7" cy="940.7" r="2.0"/><circle cx="292.9" cy="944.5" r="2.0"/><circle cx="282.3" cy="947.6" r="2.0"/><circle cx="284.0" cy="938.1" r="2.0"/><circle cx="273.5" cy="936.6" r="2.0"/><circle cx="276.0" cy="938.5" r="2.0"/><circle cx="271.0" cy="943.5" r="2.0"/><circle cx="260.8" cy="940.6" r="2.0"/><circle cx="284.3" cy="947.4" r="2.0"/><circle cx="279.5" cy="947.4" r="2.0"/><circle cx="278.3" cy="939.5" r="2.0"/><circle cx="291.1" cy="941.2" r="2.0"/><circle cx="278.6" cy="940.0" r="2.0"/><circle cx="279.7" cy="939.9" r="2.0"/><circle cx="280.0" cy="937.9" r="2.0"/><circle cx="264.8" cy="934.9" r="2.0"/><circle cx="257.1" cy="947.3" r="2.0"/><circle cx="250.4" cy="940.3" r="2.0"/><circle cx="288.3" cy="946.7" r="2.0"/><circle cx="289.6" cy="942.9" r="2.0"/><circle cx="279.2" cy="946.2" r="2.0"/><circle cx="294.7" cy="943.5" r="2.0"/><circle cx="259.3" cy="939.6" r="2.0"/><circle cx="250.1" cy="938.6" r="2.0"/><circle cx="287.4" cy="946.7" r="2.0"/><circle cx="259.9" cy="944.6" r="2.0"/><circle cx="257.2" cy="939.5" r="2.0"/><circle cx="286.3" cy="943.2" r="2.0"/><circle cx="280.7" cy="937.1" r="2.0"/><circle cx="286.5" cy="944.1" r="2.0"/><circle cx="290.0" cy="946.2" r="2.0"/><circle cx="286.7" cy="947.0" r="2.0"/><circle cx="263.0" cy="946.7" r="2.0"/><circle cx="274.5" cy="946.7" r="2.0"/><circle cx="276.6" cy="946.2" r="2.0"/><circle cx="279.6" cy="942.5" r="2.0"/><circle cx="262.7" cy="946.3" r="2.0"/><circle cx="283.6" cy="946.0" r="2.0"/><circle cx="263.6" cy="935.3" r="2.0"/><circle cx="289.4" cy="940.3" r="2.0"/><circle cx="278.0" cy="937.8" r="2.0"/><circle cx="287.3" cy="938.7" r="2.0"/><circle cx="283.4" cy="943.6" r="2.0"/><circle cx="283.6" cy="943.8" r="2.0"/><circle cx="274.5" cy="947.4" r="2.0"/><circle cx="255.4" cy="938.5" r="2.0"/><circle cx="252.0" cy="946.7" r="2.0"/><circle cx="289.1" cy="938.1" r="2.0"/><circle cx="293.7" cy="939.8" r="2.0"/><circle cx="262.1" cy="940.0" r="2.0"/><circle cx="272.3" cy="947.0" r="2.0"/><circle cx="255.5" cy="939.5" r="2.0"/><circle cx="267.9" cy="940.8" r="2.0"/><circle cx="291.4" cy="947.1" r="2.0"/><circle cx="255.4" cy="933.5" r="2.0"/><circle cx="312.5" cy="945.1" r="2.0"/><circle cx="337.0" cy="946.0" r="2.0"/><circle cx="327.5" cy="946.7" r="2.0"/><circle cx="351.3" cy="946.7" r="2.0"/><circle cx="346.4" cy="945.4" r="2.0"/><circle cx="334.3" cy="947.3" r="2.0"/><circle cx="355.6" cy="947.6" r="2.0"/><circle cx="354.5" cy="947.6" r="2.0"/><circle cx="327.4" cy="944.4" r="2.0"/><circle cx="340.2" cy="946.5" r="2.0"/><circle cx="361.8" cy="946.1" r="2.0"/><circle cx="318.3" cy="941.4" r="2.0"/><circle cx="342.8" cy="944.4" r="2.0"/><circle cx="359.4" cy="942.4" r="2.0"/><circle cx="323.1" cy="939.6" r="2.0"/><circle cx="355.9" cy="947.5" r="2.0"/><circle cx="334.7" cy="939.9" r="2.0"/><circle cx="328.5" cy="945.4" r="2.0"/><circle cx="333.2" cy="940.2" r="2.0"/><circle cx="306.7" cy="942.3" r="2.0"/><circle cx="345.6" cy="941.8" r="2.0"/><circle cx="342.2" cy="946.5" r="2.0"/><circle cx="342.4" cy="943.5" r="2.0"/><circle cx="313.2" cy="940.9" r="2.0"/><circle cx="339.6" cy="943.0" r="2.0"/><circle cx="342.3" cy="944.3" r="2.0"/><circle cx="314.4" cy="946.8" r="2.0"/><circle cx="306.1" cy="945.5" r="2.0"/><circle cx="318.2" cy="942.9" r="2.0"/><circle cx="311.4" cy="947.0" r="2.0"/><circle cx="335.0" cy="940.9" r="2.0"/><circle cx="333.1" cy="947.4" r="2.0"/><circle cx="358.0" cy="944.7" r="2.0"/><circle cx="357.2" cy="943.4" r="2.0"/><circle cx="356.7" cy="942.9" r="2.0"/><circle cx="347.9" cy="942.5" r="2.0"/><circle cx="343.7" cy="941.7" r="2.0"/><circle cx="357.4" cy="947.0" r="2.0"/><circle cx="332.8" cy="939.1" r="2.0"/><circle cx="343.9" cy="944.3" r="2.0"/><circle cx="329.4" cy="947.2" r="2.0"/><circle cx="329.8" cy="947.6" r="2.0"/><circle cx="315.3" cy="944.3" r="2.0"/><circle cx="330.9" cy="942.5" r="2.0"/><circle cx="339.1" cy="941.1" r="2.0"/><circle cx="337.8" cy="940.8" r="2.0"/><circle cx="308.1" cy="944.2" r="2.0"/><circle cx="358.6" cy="943.4" r="2.0"/><circle cx="352.6" cy="941.7" r="2.0"/><circle cx="315.0" cy="943.9" r="2.0"/><circle cx="355.6" cy="946.2" r="2.0"/><circle cx="334.9" cy="946.6" r="2.0"/><circle cx="310.1" cy="939.5" r="2.0"/><circle cx="347.3" cy="943.2" r="2.0"/><circle cx="356.1" cy="944.7" r="2.0"/><circle cx="353.1" cy="943.2" r="2.0"/><circle cx="331.6" cy="944.2" r="2.0"/><circle cx="317.4" cy="944.4" r="2.0"/><circle cx="353.2" cy="947.5" r="2.0"/><circle cx="359.0" cy="946.8" r="2.0"/><circle cx="334.3" cy="945.7" r="2.0"/><circle cx="308.0" cy="942.7" r="2.0"/><circle cx="316.1" cy="944.7" r="2.0"/><circle cx="352.7" cy="945.4" r="2.0"/><circle cx="325.3" cy="946.9" r="2.0"/><circle cx="307.0" cy="940.6" r="2.0"/><circle cx="333.2" cy="945.6" r="2.0"/><circle cx="348.5" cy="944.9" r="2.0"/><circle cx="318.8" cy="938.9" r="2.0"/><circle cx="329.0" cy="945.4" r="2.0"/><circle cx="360.9" cy="945.6" r="2.0"/><circle cx="332.1" cy="940.4" r="2.0"/><circle cx="342.3" cy="946.6" r="2.0"/><circle cx="308.8" cy="947.3" r="2.0"/><circle cx="314.1" cy="941.3" r="2.0"/><circle cx="327.0" cy="943.6" r="2.0"/><circle cx="322.0" cy="947.5" r="2.0"/><circle cx="361.2" cy="944.0" r="2.0"/><circle cx="344.6" cy="944.2" r="2.0"/><circle cx="308.8" cy="940.5" r="2.0"/><circle cx="354.8" cy="946.7" r="2.0"/><circle cx="354.1" cy="941.8" r="2.0"/><circle cx="315.6" cy="939.4" r="2.0"/><circle cx="308.5" cy="941.3" r="2.0"/><circle cx="360.7" cy="947.1" r="2.0"/><circle cx="331.0" cy="947.5" r="2.0"/><circle cx="335.9" cy="947.4" r="2.0"/><circle cx="333.5" cy="946.6" r="2.0"/><circle cx="316.6" cy="942.2" r="2.0"/><circle cx="319.4" cy="946.8" r="2.0"/><circle cx="322.1" cy="945.0" r="2.0"/><circle cx="343.8" cy="944.6" r="2.0"/><circle cx="338.4" cy="941.9" r="2.0"/><circle cx="321.2" cy="942.0" r="2.0"/><circle cx="309.5" cy="947.2" r="2.0"/><circle cx="337.7" cy="942.4" r="2.0"/><circle cx="321.5" cy="938.6" r="2.0"/><circle cx="312.4" cy="940.6" r="2.0"/><circle cx="336.5" cy="942.9" r="2.0"/><circle cx="329.9" cy="947.4" r="2.0"/><circle cx="330.6" cy="942.0" r="2.0"/><circle cx="347.6" cy="942.9" r="2.0"/><circle cx="322.9" cy="943.7" r="2.0"/><circle cx="312.7" cy="944.5" r="2.0"/><circle cx="329.5" cy="940.8" r="2.0"/><circle cx="311.3" cy="947.4" r="2.0"/><circle cx="340.9" cy="943.1" r="2.0"/><circle cx="310.1" cy="942.0" r="2.0"/><circle cx="314.4" cy="940.1" r="2.0"/><circle cx="341.7" cy="946.8" r="2.0"/><circle cx="327.2" cy="940.3" r="2.0"/><circle cx="359.2" cy="947.5" r="2.0"/><circle cx="330.2" cy="947.0" r="2.0"/><circle cx="360.0" cy="941.9" r="2.0"/><circle cx="329.5" cy="940.2" r="2.0"/><circle cx="320.1" cy="940.2" r="2.0"/><circle cx="316.2" cy="945.6" r="2.0"/><circle cx="335.6" cy="941.3" r="2.0"/><circle cx="332.5" cy="947.1" r="2.0"/><circle cx="307.9" cy="946.8" r="2.0"/><circle cx="321.8" cy="942.3" r="2.0"/><circle cx="316.5" cy="939.5" r="2.0"/><circle cx="342.3" cy="946.3" r="2.0"/><circle cx="338.1" cy="940.2" r="2.0"/><circle cx="320.4" cy="942.2" r="2.0"/><circle cx="341.9" cy="942.8" r="2.0"/><circle cx="343.1" cy="947.4" r="2.0"/><circle cx="354.4" cy="946.8" r="2.0"/><circle cx="340.2" cy="947.2" r="2.0"/><circle cx="350.1" cy="942.8" r="2.0"/><circle cx="351.2" cy="943.7" r="2.0"/><circle cx="357.1" cy="944.9" r="2.0"/><circle cx="353.8" cy="946.4" r="2.0"/><circle cx="313.6" cy="946.2" r="2.0"/><circle cx="328.4" cy="941.0" r="2.0"/><circle cx="349.3" cy="946.3" r="2.0"/><circle cx="349.2" cy="942.3" r="2.0"/><circle cx="328.0" cy="941.9" r="2.0"/><circle cx="322.4" cy="944.9" r="2.0"/><circle cx="317.6" cy="945.5" r="2.0"/><circle cx="310.5" cy="944.9" r="2.0"/><circle cx="350.6" cy="946.9" r="2.0"/><circle cx="318.0" cy="939.5" r="2.0"/><circle cx="325.5" cy="946.1" r="2.0"/><circle cx="315.4" cy="947.5" r="2.0"/><circle cx="355.1" cy="943.6" r="2.0"/><circle cx="360.0" cy="942.4" r="2.0"/><circle cx="341.0" cy="941.9" r="2.0"/><circle cx="320.1" cy="941.5" r="2.0"/><circle cx="351.5" cy="947.1" r="2.0"/><circle cx="357.6" cy="941.7" r="2.0"/><circle cx="318.2" cy="946.7" r="2.0"/><circle cx="312.0" cy="946.5" r="2.0"/><circle cx="325.1" cy="940.7" r="2.0"/><circle cx="318.4" cy="946.3" r="2.0"/><circle cx="344.1" cy="943.0" r="2.0"/><circle cx="306.2" cy="940.8" r="2.0"/><circle cx="344.0" cy="946.2" r="2.0"/><circle cx="332.2" cy="947.4" r="2.0"/><circle cx="330.6" cy="947.6" r="2.0"/><circle cx="347.9" cy="945.0" r="2.0"/><circle cx="315.8" cy="946.4" r="2.0"/><circle cx="338.8" cy="945.8" r="2.0"/><circle cx="348.7" cy="944.5" r="2.0"/><circle cx="349.1" cy="947.2" r="2.0"/><circle cx="317.5" cy="939.1" r="2.0"/><circle cx="346.4" cy="945.6" r="2.0"/><circle cx="362.0" cy="947.4" r="2.0"/><circle cx="339.9" cy="947.0" r="2.0"/><circle cx="323.3" cy="946.4" r="2.0"/><circle cx="327.9" cy="947.4" r="2.0"/><circle cx="316.0" cy="942.0" r="2.0"/><circle cx="315.5" cy="944.0" r="2.0"/><circle cx="360.5" cy="943.2" r="2.0"/><circle cx="311.5" cy="941.4" r="2.0"/><circle cx="338.6" cy="943.5" r="2.0"/><circle cx="350.7" cy="941.8" r="2.0"/><circle cx="326.3" cy="940.5" r="2.0"/><circle cx="317.4" cy="943.3" r="2.0"/><circle cx="355.5" cy="943.1" r="2.0"/><circle cx="325.4" cy="939.7" r="2.0"/><circle cx="338.6" cy="939.7" r="2.0"/><circle cx="350.9" cy="945.4" r="2.0"/><circle cx="325.8" cy="946.9" r="2.0"/><circle cx="355.7" cy="947.2" r="2.0"/><circle cx="310.6" cy="945.6" r="2.0"/><circle cx="313.6" cy="946.2" r="2.0"/><circle cx="345.0" cy="946.2" r="2.0"/><circle cx="353.9" cy="945.8" r="2.0"/><circle cx="354.6" cy="942.8" r="2.0"/><circle cx="320.7" cy="943.2" r="2.0"/><circle cx="343.9" cy="947.0" r="2.0"/><circle cx="308.0" cy="939.9" r="2.0"/><circle cx="306.8" cy="946.5" r="2.0"/><circle cx="313.4" cy="940.3" r="2.0"/><circle cx="342.4" cy="945.0" r="2.0"/><circle cx="334.0" cy="938.8" r="2.0"/><circle cx="317.7" cy="940.4" r="2.0"/><circle cx="322.4" cy="946.0" r="2.0"/><circle cx="344.6" cy="945.7" r="2.0"/>
</g>
<g fill="#4169e1" stroke="#000" stroke-width="0.9">
<circle cx="136.4" cy="938.0" r="2.3"/><circle cx="128.6" cy="937.5" r="2.3"/><circle cx="141.9" cy="937.7" r="2.3"/><circle cx="142.9" cy="938.0" r="2.3"/><circle cx="144.6" cy="938.1" r="2.3"/><circle cx="138.5" cy="937.8" r="2.3"/><circle cx="118.2" cy="938.1" r="2.3"/><circle cx="130.7" cy="938.1" r="2.3"/><circle cx="144.5" cy="938.4" r="2.3"/><circle cx="122.6" cy="937.9" r="2.3"/><circle cx="126.9" cy="937.8" r="2.3"/><circle cx="146.0" cy="938.0" r="2.3"/><circle cx="131.5" cy="937.7" r="2.3"/><circle cx="135.5" cy="938.4" r="2.3"/><circle cx="132.2" cy="938.0" r="2.3"/><circle cx="148.4" cy="938.1" r="2.3"/><circle cx="145.4" cy="939.5" r="2.3"/><circle cx="143.1" cy="939.7" r="2.3"/><circle cx="124.0" cy="939.4" r="2.3"/><circle cx="122.4" cy="939.8" r="2.3"/><circle cx="132.6" cy="939.8" r="2.3"/><circle cx="127.8" cy="939.4" r="2.3"/><circle cx="135.9" cy="939.8" r="2.3"/><circle cx="133.6" cy="939.9" r="2.3"/><circle cx="133.2" cy="939.4" r="2.3"/><circle cx="133.4" cy="939.9" r="2.3"/><circle cx="140.7" cy="939.0" r="2.3"/><circle cx="129.4" cy="939.7" r="2.3"/><circle cx="122.4" cy="939.4" r="2.3"/><circle cx="126.4" cy="939.0" r="2.3"/><circle cx="130.6" cy="939.2" r="2.3"/><circle cx="123.7" cy="939.8" r="2.3"/><circle cx="126.2" cy="942.3" r="2.3"/><circle cx="117.0" cy="940.9" r="2.3"/><circle cx="129.2" cy="941.2" r="2.3"/><circle cx="127.0" cy="941.9" r="2.3"/><circle cx="130.2" cy="941.5" r="2.3"/><circle cx="138.4" cy="942.1" r="2.3"/><circle cx="130.3" cy="941.1" r="2.3"/><circle cx="133.5" cy="941.6" r="2.3"/><circle cx="124.9" cy="941.0" r="2.3"/><circle cx="125.1" cy="941.4" r="2.3"/><circle cx="130.2" cy="941.1" r="2.3"/><circle cx="147.3" cy="941.2" r="2.3"/><circle cx="128.6" cy="941.3" r="2.3"/><circle cx="119.6" cy="942.2" r="2.3"/><circle cx="118.5" cy="942.2" r="2.3"/><circle cx="141.8" cy="941.7" r="2.3"/><circle cx="128.3" cy="944.4" r="2.3"/><circle cx="142.8" cy="943.2" r="2.3"/><circle cx="147.6" cy="943.4" r="2.3"/><circle cx="150.8" cy="943.9" r="2.3"/><circle cx="146.6" cy="944.4" r="2.3"/><circle cx="123.7" cy="944.1" r="2.3"/><circle cx="150.9" cy="943.9" r="2.3"/><circle cx="132.0" cy="944.4" r="2.3"/><circle cx="132.2" cy="944.2" r="2.3"/><circle cx="130.4" cy="944.0" r="2.3"/><circle cx="135.8" cy="943.7" r="2.3"/><circle cx="135.8" cy="944.5" r="2.3"/><circle cx="132.3" cy="943.9" r="2.3"/><circle cx="132.6" cy="943.7" r="2.3"/><circle cx="126.1" cy="943.1" r="2.3"/><circle cx="141.9" cy="943.5" r="2.3"/><circle cx="120.0" cy="946.3" r="2.3"/><circle cx="125.7" cy="946.1" r="2.3"/><circle cx="127.5" cy="945.7" r="2.3"/><circle cx="146.6" cy="946.5" r="2.3"/><circle cx="141.7" cy="946.1" r="2.3"/><circle cx="145.9" cy="946.0" r="2.3"/><circle cx="125.8" cy="946.5" r="2.3"/><circle cx="119.6" cy="945.2" r="2.3"/><circle cx="152.3" cy="946.3" r="2.3"/><circle cx="148.7" cy="946.4" r="2.3"/><circle cx="125.8" cy="946.1" r="2.3"/><circle cx="135.4" cy="945.8" r="2.3"/><circle cx="131.1" cy="946.5" r="2.3"/><circle cx="122.4" cy="946.1" r="2.3"/><circle cx="137.5" cy="946.6" r="2.3"/><circle cx="132.5" cy="946.2" r="2.3"/><circle cx="154.3" cy="947.2" r="2.3"/><circle cx="154.0" cy="946.7" r="2.3"/><circle cx="156.7" cy="946.2" r="2.3"/><circle cx="151.5" cy="947.1" r="2.3"/><circle cx="151.0" cy="946.1" r="2.3"/><circle cx="156.9" cy="944.8" r="2.3"/><circle cx="156.0" cy="947.4" r="2.3"/><circle cx="155.1" cy="946.8" r="2.3"/><circle cx="151.0" cy="947.3" r="2.3"/><circle cx="156.2" cy="947.4" r="2.3"/><circle cx="156.9" cy="946.6" r="2.3"/><circle cx="153.0" cy="944.8" r="2.3"/><circle cx="151.4" cy="946.3" r="2.3"/><circle cx="156.8" cy="945.7" r="2.3"/><circle cx="151.9" cy="947.3" r="2.3"/><circle cx="156.5" cy="945.7" r="2.3"/><circle cx="157.6" cy="947.0" r="2.3"/><circle cx="152.3" cy="945.5" r="2.3"/><circle cx="152.5" cy="944.6" r="2.3"/><circle cx="152.4" cy="947.2" r="2.3"/><circle cx="153.9" cy="947.3" r="2.3"/><circle cx="153.1" cy="944.7" r="2.3"/><circle cx="155.2" cy="946.3" r="2.3"/><circle cx="155.3" cy="945.1" r="2.3"/><circle cx="150.4" cy="944.7" r="2.3"/><circle cx="157.2" cy="946.3" r="2.3"/><circle cx="151.6" cy="945.4" r="2.3"/><circle cx="154.4" cy="947.2" r="2.3"/><circle cx="154.8" cy="946.0" r="2.3"/><circle cx="154.8" cy="947.5" r="2.3"/><circle cx="181.4" cy="938.9" r="2.3"/><circle cx="195.1" cy="933.7" r="2.3"/><circle cx="188.8" cy="936.5" r="2.3"/><circle cx="168.0" cy="931.5" r="2.3"/><circle cx="169.2" cy="929.0" r="2.3"/><circle cx="180.8" cy="939.6" r="2.3"/><circle cx="175.0" cy="938.4" r="2.3"/><circle cx="179.7" cy="944.6" r="2.3"/><circle cx="175.8" cy="946.8" r="2.3"/><circle cx="182.1" cy="945.4" r="2.3"/><circle cx="167.7" cy="947.1" r="2.3"/><circle cx="179.9" cy="947.0" r="2.3"/><circle cx="178.6" cy="934.8" r="2.3"/><circle cx="163.3" cy="941.0" r="2.3"/><circle cx="170.9" cy="938.9" r="2.3"/><circle cx="171.4" cy="940.4" r="2.3"/><circle cx="195.1" cy="947.2" r="2.3"/><circle cx="197.6" cy="930.0" r="2.3"/><circle cx="185.4" cy="932.8" r="2.3"/><circle cx="189.5" cy="939.4" r="2.3"/><circle cx="165.1" cy="945.4" r="2.3"/><circle cx="184.0" cy="934.4" r="2.3"/><circle cx="188.6" cy="928.5" r="2.3"/><circle cx="170.6" cy="935.9" r="2.3"/><circle cx="169.8" cy="930.7" r="2.3"/><circle cx="160.8" cy="935.9" r="2.3"/><circle cx="195.4" cy="943.0" r="2.3"/><circle cx="199.9" cy="939.5" r="2.3"/><circle cx="200.8" cy="941.7" r="2.3"/><circle cx="196.9" cy="940.6" r="2.3"/><circle cx="193.4" cy="929.9" r="2.3"/><circle cx="182.7" cy="933.1" r="2.3"/><circle cx="190.4" cy="930.0" r="2.3"/><circle cx="193.0" cy="935.4" r="2.3"/><circle cx="189.0" cy="936.2" r="2.3"/><circle cx="169.0" cy="947.2" r="2.3"/><circle cx="197.8" cy="945.3" r="2.3"/><circle cx="176.2" cy="944.0" r="2.3"/><circle cx="167.9" cy="944.2" r="2.3"/><circle cx="181.4" cy="945.2" r="2.3"/><circle cx="195.1" cy="935.8" r="2.3"/><circle cx="163.6" cy="943.7" r="2.3"/><circle cx="189.9" cy="928.9" r="2.3"/><circle cx="175.5" cy="947.2" r="2.3"/><circle cx="168.9" cy="936.6" r="2.3"/><circle cx="173.8" cy="933.4" r="2.3"/><circle cx="160.4" cy="928.5" r="2.3"/><circle cx="161.6" cy="935.1" r="2.3"/><circle cx="179.7" cy="930.7" r="2.3"/><circle cx="176.4" cy="940.6" r="2.3"/><circle cx="173.1" cy="929.8" r="2.3"/><circle cx="187.4" cy="940.8" r="2.3"/><circle cx="176.0" cy="940.4" r="2.3"/><circle cx="162.3" cy="929.0" r="2.3"/><circle cx="194.9" cy="929.0" r="2.3"/><circle cx="180.2" cy="946.5" r="2.3"/><circle cx="162.0" cy="943.3" r="2.3"/><circle cx="178.5" cy="941.6" r="2.3"/><circle cx="199.4" cy="930.3" r="2.3"/><circle cx="177.1" cy="941.4" r="2.3"/><circle cx="173.7" cy="939.1" r="2.3"/><circle cx="176.5" cy="945.7" r="2.3"/><circle cx="194.0" cy="933.7" r="2.3"/><circle cx="201.0" cy="941.9" r="2.3"/><circle cx="176.7" cy="932.4" r="2.3"/><circle cx="176.0" cy="930.3" r="2.3"/><circle cx="189.9" cy="942.0" r="2.3"/><circle cx="188.9" cy="939.0" r="2.3"/><circle cx="198.2" cy="943.3" r="2.3"/><circle cx="168.4" cy="941.5" r="2.3"/><circle cx="161.4" cy="945.2" r="2.3"/><circle cx="194.6" cy="937.1" r="2.3"/><circle cx="192.2" cy="932.8" r="2.3"/><circle cx="185.4" cy="939.9" r="2.3"/><circle cx="195.6" cy="941.5" r="2.3"/><circle cx="196.4" cy="946.3" r="2.3"/><circle cx="184.3" cy="928.8" r="2.3"/><circle cx="180.8" cy="940.6" r="2.3"/><circle cx="178.5" cy="939.2" r="2.3"/><circle cx="165.0" cy="939.3" r="2.3"/><circle cx="165.2" cy="928.7" r="2.3"/><circle cx="182.3" cy="928.8" r="2.3"/><circle cx="161.0" cy="928.6" r="2.3"/><circle cx="190.5" cy="929.0" r="2.3"/><circle cx="181.2" cy="928.3" r="2.3"/><circle cx="185.3" cy="928.7" r="2.3"/><circle cx="158.4" cy="929.1" r="2.3"/><circle cx="183.2" cy="928.8" r="2.3"/><circle cx="179.7" cy="929.2" r="2.3"/><circle cx="175.8" cy="928.3" r="2.3"/><circle cx="178.1" cy="928.7" r="2.3"/><circle cx="176.2" cy="928.9" r="2.3"/><circle cx="188.8" cy="929.5" r="2.3"/><circle cx="183.3" cy="928.4" r="2.3"/><circle cx="200.8" cy="928.8" r="2.3"/><circle cx="173.5" cy="928.8" r="2.3"/><circle cx="192.3" cy="929.0" r="2.3"/><circle cx="193.5" cy="929.2" r="2.3"/><circle cx="193.8" cy="931.7" r="2.3"/><circle cx="180.1" cy="931.2" r="2.3"/><circle cx="179.4" cy="931.0" r="2.3"/><circle cx="187.1" cy="930.4" r="2.3"/><circle cx="197.8" cy="931.5" r="2.3"/><circle cx="195.8" cy="931.1" r="2.3"/><circle cx="162.7" cy="931.2" r="2.3"/><circle cx="174.3" cy="931.6" r="2.3"/><circle cx="160.6" cy="931.4" r="2.3"/><circle cx="188.0" cy="931.0" r="2.3"/><circle cx="172.5" cy="931.4" r="2.3"/><circle cx="178.2" cy="931.7" r="2.3"/><circle cx="176.9" cy="930.7" r="2.3"/><circle cx="195.7" cy="931.8" r="2.3"/><circle cx="193.0" cy="931.1" r="2.3"/><circle cx="179.5" cy="931.1" r="2.3"/><circle cx="172.4" cy="931.4" r="2.3"/><circle cx="160.1" cy="930.5" r="2.3"/><circle cx="186.7" cy="933.8" r="2.3"/><circle cx="199.3" cy="934.2" r="2.3"/><circle cx="171.1" cy="933.9" r="2.3"/><circle cx="179.0" cy="934.1" r="2.3"/><circle cx="188.2" cy="934.2" r="2.3"/><circle cx="175.0" cy="934.4" r="2.3"/><circle cx="184.8" cy="935.0" r="2.3"/><circle cx="182.9" cy="934.6" r="2.3"/><circle cx="176.3" cy="934.8" r="2.3"/><circle cx="196.6" cy="934.8" r="2.3"/><circle cx="164.0" cy="934.6" r="2.3"/><circle cx="180.0" cy="934.2" r="2.3"/><circle cx="191.7" cy="934.5" r="2.3"/><circle cx="183.9" cy="934.5" r="2.3"/><circle cx="172.4" cy="935.5" r="2.3"/><circle cx="194.8" cy="934.0" r="2.3"/><circle cx="165.7" cy="934.2" r="2.3"/><circle cx="178.9" cy="934.3" r="2.3"/><circle cx="168.0" cy="938.1" r="2.3"/><circle cx="170.7" cy="937.4" r="2.3"/><circle cx="165.4" cy="937.1" r="2.3"/><circle cx="199.8" cy="936.6" r="2.3"/><circle cx="185.9" cy="937.8" r="2.3"/><circle cx="196.8" cy="937.8" r="2.3"/><circle cx="177.5" cy="936.9" r="2.3"/><circle cx="164.7" cy="936.3" r="2.3"/><circle cx="174.7" cy="937.2" r="2.3"/><circle cx="172.4" cy="936.7" r="2.3"/><circle cx="175.6" cy="937.7" r="2.3"/><circle cx="171.8" cy="937.0" r="2.3"/><circle cx="162.6" cy="937.5" r="2.3"/><circle cx="189.1" cy="937.3" r="2.3"/><circle cx="165.8" cy="937.8" r="2.3"/><circle cx="199.7" cy="936.4" r="2.3"/><circle cx="188.9" cy="937.1" r="2.3"/><circle cx="175.4" cy="936.9" r="2.3"/><circle cx="191.4" cy="940.1" r="2.3"/><circle cx="166.0" cy="941.2" r="2.3"/><circle cx="198.1" cy="940.1" r="2.3"/><circle cx="188.0" cy="940.3" r="2.3"/><circle cx="188.1" cy="940.5" r="2.3"/><circle cx="183.9" cy="940.5" r="2.3"/><circle cx="201.1" cy="940.0" r="2.3"/><circle cx="168.6" cy="940.9" r="2.3"/><circle cx="196.5" cy="940.6" r="2.3"/><circle cx="164.9" cy="940.7" r="2.3"/><circle cx="190.9" cy="940.3" r="2.3"/><circle cx="164.0" cy="940.4" r="2.3"/><circle cx="169.2" cy="940.4" r="2.3"/><circle cx="179.9" cy="939.9" r="2.3"/><circle cx="168.6" cy="940.1" r="2.3"/><circle cx="183.5" cy="940.4" r="2.3"/><circle cx="185.9" cy="940.5" r="2.3"/><circle cx="184.8" cy="940.4" r="2.3"/><circle cx="170.6" cy="943.7" r="2.3"/><circle cx="184.5" cy="943.5" r="2.3"/><circle cx="182.3" cy="943.0" r="2.3"/><circle cx="171.5" cy="943.1" r="2.3"/><circle cx="183.7" cy="943.6" r="2.3"/><circle cx="187.4" cy="943.5" r="2.3"/><circle cx="173.8" cy="943.7" r="2.3"/><circle cx="172.2" cy="943.5" r="2.3"/><circle cx="185.8" cy="942.8" r="2.3"/><circle cx="163.2" cy="943.8" r="2.3"/><circle cx="175.3" cy="943.1" r="2.3"/><circle cx="180.2" cy="943.2" r="2.3"/><circle cx="178.6" cy="943.3" r="2.3"/><circle cx="193.8" cy="944.6" r="2.3"/><circle cx="166.5" cy="944.1" r="2.3"/><circle cx="169.8" cy="943.6" r="2.3"/><circle cx="181.3" cy="943.2" r="2.3"/><circle cx="193.0" cy="943.4" r="2.3"/><circle cx="185.7" cy="946.6" r="2.3"/><circle cx="175.4" cy="945.1" r="2.3"/><circle cx="170.7" cy="946.2" r="2.3"/><circle cx="174.4" cy="946.0" r="2.3"/><circle cx="161.4" cy="946.9" r="2.3"/><circle cx="190.6" cy="946.9" r="2.3"/><circle cx="200.5" cy="946.4" r="2.3"/><circle cx="162.0" cy="946.0" r="2.3"/><circle cx="181.9" cy="946.5" r="2.3"/><circle cx="167.1" cy="946.3" r="2.3"/><circle cx="192.5" cy="945.9" r="2.3"/><circle cx="183.3" cy="946.2" r="2.3"/><circle cx="180.5" cy="946.5" r="2.3"/><circle cx="188.1" cy="946.2" r="2.3"/><circle cx="176.9" cy="946.1" r="2.3"/><circle cx="170.2" cy="945.6" r="2.3"/><circle cx="176.5" cy="946.3" r="2.3"/><circle cx="189.7" cy="946.2" r="2.3"/><circle cx="161.0" cy="928.2" r="2.3"/><circle cx="175.5" cy="927.0" r="2.3"/><circle cx="159.7" cy="928.2" r="2.3"/><circle cx="160.7" cy="927.9" r="2.3"/><circle cx="167.3" cy="924.7" r="2.3"/><circle cx="173.9" cy="927.7" r="2.3"/><circle cx="170.2" cy="924.5" r="2.3"/><circle cx="175.5" cy="927.4" r="2.3"/><circle cx="159.5" cy="927.1" r="2.3"/><circle cx="203.9" cy="920.1" r="2.3"/><circle cx="202.2" cy="930.6" r="2.3"/><circle cx="201.8" cy="943.0" r="2.3"/><circle cx="202.7" cy="941.7" r="2.3"/><circle cx="201.4" cy="942.9" r="2.3"/><circle cx="202.3" cy="922.9" r="2.3"/><circle cx="202.4" cy="927.5" r="2.3"/><circle cx="201.8" cy="928.9" r="2.3"/><circle cx="202.4" cy="924.1" r="2.3"/><circle cx="201.2" cy="937.8" r="2.3"/><circle cx="200.9" cy="931.8" r="2.3"/><circle cx="202.2" cy="939.5" r="2.3"/><circle cx="222.2" cy="937.7" r="2.3"/><circle cx="238.0" cy="936.9" r="2.3"/><circle cx="212.5" cy="937.0" r="2.3"/><circle cx="214.6" cy="937.0" r="2.3"/><circle cx="227.5" cy="936.3" r="2.3"/><circle cx="213.5" cy="937.3" r="2.3"/><circle cx="231.2" cy="937.9" r="2.3"/><circle cx="215.9" cy="936.9" r="2.3"/><circle cx="217.3" cy="938.7" r="2.3"/><circle cx="227.2" cy="937.8" r="2.3"/><circle cx="219.1" cy="937.3" r="2.3"/><circle cx="234.3" cy="937.8" r="2.3"/><circle cx="212.6" cy="937.6" r="2.3"/><circle cx="218.5" cy="936.5" r="2.3"/><circle cx="234.6" cy="938.4" r="2.3"/><circle cx="235.2" cy="937.4" r="2.3"/><circle cx="225.7" cy="937.2" r="2.3"/><circle cx="208.7" cy="937.8" r="2.3"/><circle cx="211.5" cy="937.6" r="2.3"/><circle cx="229.8" cy="937.5" r="2.3"/><circle cx="203.2" cy="937.5" r="2.3"/><circle cx="229.1" cy="937.2" r="2.3"/><circle cx="290.7" cy="937.0" r="2.3"/><circle cx="254.1" cy="933.3" r="2.3"/><circle cx="272.4" cy="931.6" r="2.3"/><circle cx="271.9" cy="935.2" r="2.3"/><circle cx="280.1" cy="941.4" r="2.3"/><circle cx="268.9" cy="931.5" r="2.3"/><circle cx="272.6" cy="938.6" r="2.3"/><circle cx="258.5" cy="936.8" r="2.3"/><circle cx="269.7" cy="938.1" r="2.3"/><circle cx="272.3" cy="939.5" r="2.3"/><circle cx="250.6" cy="939.0" r="2.3"/><circle cx="266.5" cy="938.9" r="2.3"/><circle cx="259.9" cy="938.2" r="2.3"/><circle cx="265.3" cy="933.7" r="2.3"/><circle cx="246.9" cy="936.1" r="2.3"/><circle cx="289.1" cy="941.7" r="2.3"/><circle cx="294.0" cy="941.5" r="2.3"/><circle cx="262.7" cy="930.9" r="2.3"/><circle cx="284.9" cy="939.6" r="2.3"/><circle cx="268.4" cy="937.4" r="2.3"/><circle cx="275.2" cy="940.9" r="2.3"/><circle cx="284.3" cy="937.9" r="2.3"/><circle cx="289.3" cy="941.0" r="2.3"/><circle cx="254.6" cy="931.1" r="2.3"/><circle cx="280.1" cy="938.0" r="2.3"/><circle cx="279.5" cy="941.0" r="2.3"/><circle cx="258.5" cy="938.5" r="2.3"/><circle cx="294.9" cy="935.0" r="2.3"/><circle cx="292.0" cy="937.0" r="2.3"/><circle cx="296.4" cy="940.1" r="2.3"/><circle cx="261.4" cy="931.3" r="2.3"/><circle cx="287.7" cy="935.1" r="2.3"/><circle cx="281.3" cy="935.5" r="2.3"/><circle cx="247.2" cy="936.1" r="2.3"/><circle cx="263.9" cy="931.9" r="2.3"/><circle cx="260.5" cy="933.9" r="2.3"/><circle cx="279.9" cy="937.5" r="2.3"/><circle cx="265.6" cy="937.5" r="2.3"/><circle cx="267.6" cy="935.7" r="2.3"/><circle cx="255.5" cy="931.2" r="2.3"/><circle cx="258.8" cy="936.0" r="2.3"/><circle cx="247.8" cy="936.2" r="2.3"/><circle cx="279.8" cy="936.0" r="2.3"/><circle cx="287.8" cy="936.3" r="2.3"/><circle cx="262.6" cy="930.4" r="2.3"/><circle cx="286.6" cy="935.5" r="2.3"/><circle cx="291.8" cy="935.6" r="2.3"/><circle cx="268.9" cy="931.2" r="2.3"/><circle cx="269.5" cy="936.8" r="2.3"/><circle cx="255.5" cy="938.0" r="2.3"/><circle cx="270.8" cy="933.7" r="2.3"/><circle cx="266.0" cy="933.2" r="2.3"/><circle cx="257.2" cy="940.0" r="2.3"/><circle cx="296.3" cy="941.0" r="2.3"/><circle cx="274.7" cy="937.6" r="2.3"/><circle cx="259.5" cy="939.3" r="2.3"/><circle cx="278.6" cy="936.7" r="2.3"/><circle cx="262.5" cy="933.9" r="2.3"/><circle cx="291.9" cy="939.5" r="2.3"/><circle cx="279.2" cy="934.6" r="2.3"/><circle cx="251.6" cy="931.8" r="2.3"/><circle cx="282.9" cy="934.5" r="2.3"/><circle cx="247.6" cy="929.0" r="2.3"/><circle cx="273.9" cy="936.7" r="2.3"/><circle cx="272.3" cy="933.0" r="2.3"/><circle cx="257.1" cy="938.7" r="2.3"/><circle cx="248.4" cy="935.6" r="2.3"/><circle cx="246.3" cy="932.3" r="2.3"/><circle cx="257.7" cy="933.3" r="2.3"/><circle cx="260.1" cy="937.9" r="2.3"/><circle cx="263.5" cy="939.7" r="2.3"/><circle cx="270.4" cy="939.2" r="2.3"/><circle cx="271.4" cy="939.5" r="2.3"/><circle cx="255.4" cy="933.8" r="2.3"/><circle cx="285.8" cy="936.6" r="2.3"/><circle cx="251.7" cy="934.6" r="2.3"/><circle cx="283.0" cy="935.7" r="2.3"/><circle cx="289.0" cy="935.7" r="2.3"/><circle cx="293.1" cy="940.6" r="2.3"/><circle cx="268.8" cy="935.7" r="2.3"/><circle cx="247.0" cy="939.0" r="2.3"/><circle cx="255.8" cy="936.8" r="2.3"/><circle cx="286.5" cy="939.9" r="2.3"/><circle cx="276.5" cy="936.8" r="2.3"/><circle cx="288.5" cy="941.0" r="2.3"/><circle cx="253.6" cy="938.5" r="2.3"/><circle cx="260.3" cy="937.0" r="2.3"/><circle cx="261.1" cy="936.4" r="2.3"/><circle cx="252.0" cy="939.3" r="2.3"/><circle cx="254.8" cy="931.4" r="2.3"/><circle cx="243.3" cy="932.3" r="2.3"/><circle cx="245.9" cy="932.0" r="2.3"/><circle cx="237.6" cy="935.2" r="2.3"/><circle cx="241.5" cy="929.5" r="2.3"/><circle cx="245.8" cy="930.5" r="2.3"/><circle cx="242.3" cy="935.2" r="2.3"/><circle cx="239.8" cy="936.4" r="2.3"/><circle cx="236.5" cy="934.6" r="2.3"/><circle cx="239.9" cy="927.0" r="2.3"/><circle cx="247.3" cy="944.7" r="2.3"/><circle cx="243.3" cy="939.6" r="2.3"/><circle cx="244.6" cy="926.6" r="2.3"/><circle cx="247.3" cy="940.6" r="2.3"/><circle cx="239.8" cy="934.6" r="2.3"/><circle cx="244.9" cy="945.7" r="2.3"/><circle cx="241.3" cy="934.5" r="2.3"/><circle cx="245.5" cy="928.3" r="2.3"/><circle cx="243.7" cy="932.7" r="2.3"/><circle cx="241.2" cy="930.4" r="2.3"/><circle cx="241.4" cy="938.0" r="2.3"/><circle cx="244.3" cy="928.9" r="2.3"/><circle cx="247.2" cy="933.0" r="2.3"/><circle cx="243.4" cy="945.2" r="2.3"/><circle cx="247.3" cy="946.0" r="2.3"/><circle cx="245.6" cy="946.4" r="2.3"/><circle cx="243.0" cy="913.6" r="2.3"/><circle cx="239.4" cy="908.7" r="2.3"/><circle cx="241.6" cy="910.2" r="2.3"/><circle cx="246.1" cy="920.2" r="2.3"/><circle cx="242.8" cy="915.6" r="2.3"/><circle cx="242.1" cy="908.3" r="2.3"/><circle cx="229.5" cy="909.8" r="2.3"/><circle cx="211.8" cy="914.9" r="2.3"/><circle cx="221.9" cy="918.0" r="2.3"/><circle cx="240.4" cy="897.5" r="2.3"/><circle cx="235.4" cy="889.3" r="2.3"/><circle cx="231.1" cy="924.1" r="2.3"/><circle cx="231.1" cy="921.0" r="2.3"/><circle cx="222.7" cy="943.2" r="2.3"/><circle cx="232.8" cy="945.8" r="2.3"/><circle cx="236.0" cy="914.4" r="2.3"/><circle cx="239.0" cy="905.7" r="2.3"/><circle cx="215.0" cy="913.9" r="2.3"/><circle cx="243.0" cy="928.2" r="2.3"/><circle cx="249.0" cy="923.1" r="2.3"/><circle cx="252.0" cy="925.1" r="2.3"/><circle cx="333.0" cy="942.0" r="2.3"/><circle cx="315.9" cy="942.9" r="2.3"/><circle cx="333.1" cy="944.2" r="2.3"/><circle cx="316.3" cy="936.2" r="2.3"/><circle cx="356.6" cy="939.9" r="2.3"/><circle cx="319.6" cy="941.9" r="2.3"/><circle cx="356.2" cy="940.5" r="2.3"/><circle cx="321.3" cy="937.4" r="2.3"/><circle cx="313.8" cy="935.9" r="2.3"/><circle cx="344.7" cy="942.7" r="2.3"/><circle cx="354.8" cy="941.1" r="2.3"/><circle cx="350.5" cy="941.0" r="2.3"/><circle cx="306.8" cy="937.1" r="2.3"/><circle cx="363.2" cy="944.0" r="2.3"/><circle cx="360.2" cy="939.7" r="2.3"/><circle cx="359.5" cy="940.3" r="2.3"/><circle cx="348.2" cy="943.8" r="2.3"/><circle cx="359.9" cy="942.2" r="2.3"/><circle cx="352.0" cy="943.0" r="2.3"/><circle cx="356.4" cy="944.5" r="2.3"/><circle cx="334.0" cy="937.0" r="2.3"/><circle cx="342.4" cy="941.7" r="2.3"/><circle cx="354.8" cy="940.5" r="2.3"/><circle cx="325.2" cy="939.2" r="2.3"/><circle cx="347.2" cy="940.5" r="2.3"/><circle cx="311.3" cy="940.8" r="2.3"/><circle cx="361.2" cy="944.3" r="2.3"/><circle cx="338.2" cy="939.3" r="2.3"/><circle cx="332.3" cy="942.8" r="2.3"/><circle cx="325.2" cy="940.3" r="2.3"/><circle cx="363.2" cy="940.9" r="2.3"/><circle cx="307.7" cy="939.7" r="2.3"/><circle cx="336.0" cy="936.3" r="2.3"/><circle cx="361.3" cy="940.2" r="2.3"/><circle cx="356.5" cy="940.8" r="2.3"/><circle cx="354.9" cy="939.9" r="2.3"/><circle cx="353.2" cy="943.1" r="2.3"/><circle cx="339.7" cy="944.1" r="2.3"/><circle cx="333.2" cy="940.4" r="2.3"/><circle cx="352.6" cy="942.7" r="2.3"/><circle cx="313.6" cy="942.4" r="2.3"/><circle cx="359.6" cy="940.8" r="2.3"/><circle cx="341.6" cy="944.0" r="2.3"/><circle cx="345.2" cy="942.9" r="2.3"/><circle cx="348.1" cy="940.3" r="2.3"/><circle cx="353.5" cy="942.1" r="2.3"/><circle cx="305.1" cy="940.0" r="2.3"/><circle cx="317.3" cy="939.2" r="2.3"/><circle cx="310.3" cy="938.7" r="2.3"/><circle cx="319.4" cy="942.6" r="2.3"/><circle cx="334.0" cy="940.5" r="2.3"/><circle cx="351.2" cy="939.7" r="2.3"/><circle cx="328.1" cy="942.4" r="2.3"/><circle cx="357.4" cy="939.6" r="2.3"/><circle cx="318.4" cy="942.0" r="2.3"/><circle cx="329.8" cy="939.8" r="2.3"/><circle cx="350.8" cy="942.2" r="2.3"/><circle cx="347.1" cy="941.7" r="2.3"/><circle cx="332.1" cy="939.8" r="2.3"/><circle cx="359.5" cy="943.8" r="2.3"/><circle cx="304.2" cy="942.9" r="2.3"/><circle cx="350.5" cy="941.4" r="2.3"/><circle cx="317.2" cy="938.9" r="2.3"/><circle cx="358.5" cy="939.9" r="2.3"/><circle cx="323.3" cy="936.5" r="2.3"/><circle cx="314.5" cy="944.3" r="2.3"/><circle cx="362.3" cy="941.6" r="2.3"/><circle cx="351.3" cy="942.8" r="2.3"/><circle cx="308.8" cy="943.6" r="2.3"/><circle cx="318.5" cy="937.3" r="2.3"/><circle cx="325.5" cy="944.2" r="2.3"/><circle cx="318.2" cy="936.9" r="2.3"/><circle cx="317.9" cy="936.9" r="2.3"/><circle cx="339.3" cy="936.3" r="2.3"/><circle cx="317.3" cy="940.6" r="2.3"/><circle cx="357.9" cy="939.6" r="2.3"/><circle cx="313.7" cy="943.5" r="2.3"/><circle cx="359.5" cy="940.4" r="2.3"/><circle cx="317.9" cy="938.2" r="2.3"/><circle cx="328.4" cy="939.7" r="2.3"/><circle cx="338.6" cy="936.4" r="2.3"/><circle cx="336.3" cy="942.8" r="2.3"/><circle cx="316.5" cy="941.6" r="2.3"/><circle cx="308.0" cy="944.4" r="2.3"/><circle cx="314.1" cy="942.8" r="2.3"/><circle cx="341.9" cy="943.9" r="2.3"/><circle cx="336.8" cy="936.6" r="2.3"/><circle cx="308.3" cy="943.9" r="2.3"/><circle cx="344.2" cy="939.6" r="2.3"/><circle cx="317.9" cy="939.8" r="2.3"/><circle cx="322.7" cy="938.0" r="2.3"/><circle cx="310.8" cy="932.6" r="2.3"/><circle cx="318.3" cy="932.4" r="2.3"/><circle cx="320.0" cy="937.2" r="2.3"/><circle cx="314.8" cy="938.1" r="2.3"/><circle cx="310.0" cy="935.6" r="2.3"/><circle cx="331.5" cy="933.9" r="2.3"/><circle cx="319.6" cy="931.3" r="2.3"/><circle cx="320.4" cy="936.4" r="2.3"/><circle cx="322.6" cy="931.7" r="2.3"/><circle cx="320.9" cy="920.0" r="2.3"/><circle cx="328.2" cy="920.0" r="2.3"/><circle cx="330.4" cy="921.0" r="2.3"/><circle cx="322.5" cy="926.6" r="2.3"/><circle cx="324.0" cy="929.2" r="2.3"/><circle cx="330.5" cy="931.2" r="2.3"/><circle cx="362.5" cy="933.3" r="2.3"/><circle cx="362.5" cy="936.4" r="2.3"/><circle cx="362.5" cy="939.4" r="2.3"/><circle cx="362.8" cy="942.5" r="2.3"/>
</g>
<g fill="#d3d3d3" stroke="#000" stroke-width="0.9">
<circle cx="147.4" cy="936.4" r="2.3"/><circle cx="235.4" cy="927.7" r="2.3"/><circle cx="242.9" cy="918.0" r="2.3"/>
</g>
<g fill="#00eeee" stroke="#000" stroke-width="1.4">
<circle cx="218.0" cy="879.9" r="2.0"/><circle cx="228.5" cy="879.5" r="2.0"/><circle cx="227.5" cy="879.5" r="2.0"/><circle cx="212.2" cy="879.0" r="2.0"/><circle cx="223.6" cy="879.0" r="2.0"/><circle cx="215.4" cy="880.4" r="2.0"/><circle cx="213.6" cy="879.5" r="2.0"/><circle cx="211.9" cy="880.0" r="2.0"/><circle cx="229.7" cy="878.2" r="2.0"/><circle cx="209.4" cy="878.9" r="2.0"/><circle cx="220.1" cy="878.7" r="2.0"/><circle cx="222.9" cy="879.4" r="2.0"/><circle cx="232.4" cy="880.5" r="2.0"/><circle cx="209.1" cy="880.1" r="2.0"/><circle cx="228.8" cy="880.8" r="2.0"/><circle cx="224.0" cy="879.6" r="2.0"/><circle cx="230.2" cy="880.4" r="2.0"/><circle cx="215.7" cy="880.4" r="2.0"/><circle cx="218.4" cy="878.9" r="2.0"/><circle cx="227.9" cy="878.1" r="2.0"/><circle cx="226.2" cy="879.2" r="2.0"/><circle cx="225.5" cy="880.6" r="2.0"/><circle cx="220.9" cy="880.6" r="2.0"/><circle cx="229.3" cy="879.0" r="2.0"/><circle cx="221.8" cy="878.9" r="2.0"/><circle cx="230.6" cy="880.9" r="2.0"/><circle cx="231.9" cy="878.5" r="2.0"/><circle cx="232.3" cy="880.9" r="2.0"/><circle cx="214.7" cy="880.7" r="2.0"/><circle cx="208.6" cy="880.0" r="2.0"/><circle cx="213.6" cy="879.4" r="2.0"/><circle cx="220.6" cy="879.5" r="2.0"/><circle cx="225.9" cy="880.5" r="2.0"/><circle cx="225.0" cy="879.9" r="2.0"/><circle cx="211.7" cy="879.2" r="2.0"/><circle cx="229.4" cy="880.5" r="2.0"/><circle cx="219.0" cy="879.7" r="2.0"/><circle cx="217.1" cy="881.1" r="2.0"/><circle cx="213.5" cy="878.3" r="2.0"/><circle cx="211.2" cy="881.0" r="2.0"/><circle cx="227.5" cy="879.7" r="2.0"/><circle cx="221.2" cy="880.1" r="2.0"/><circle cx="211.3" cy="880.3" r="2.0"/><circle cx="210.7" cy="878.3" r="2.0"/><circle cx="208.8" cy="880.8" r="2.0"/>
</g>
<g fill="#00eeee" stroke="#000" stroke-width="0.9">
<circle cx="202.6" cy="912.9" r="2.3"/><circle cx="204.5" cy="902.6" r="2.3"/><circle cx="206.6" cy="902.6" r="2.3"/><circle cx="208.6" cy="902.6" r="2.3"/><circle cx="204.5" cy="890.4" r="2.3"/><circle cx="206.6" cy="890.4" r="2.3"/><circle cx="209.0" cy="890.4" r="2.3"/><circle cx="213.1" cy="865.8" r="2.3"/><circle cx="225.0" cy="863.8" r="2.3"/><circle cx="228.6" cy="863.8" r="2.3"/><circle cx="217.7" cy="884.2" r="2.3"/><circle cx="221.5" cy="883.7" r="2.3"/><circle cx="225.3" cy="884.2" r="2.3"/><circle cx="202.5" cy="912.9" r="2.3"/><circle cx="247.5" cy="918.0" r="2.3"/><circle cx="243.2" cy="929.2" r="2.3"/><circle cx="207.0" cy="913.4" r="2.3"/><circle cx="216.6" cy="877.7" r="2.3"/><circle cx="232.4" cy="880.1" r="2.3"/><circle cx="219.9" cy="881.0" r="2.3"/><circle cx="216.5" cy="881.4" r="2.3"/><circle cx="229.3" cy="878.6" r="2.3"/><circle cx="218.2" cy="879.9" r="2.3"/><circle cx="213.4" cy="878.0" r="2.3"/><circle cx="215.3" cy="880.9" r="2.3"/><circle cx="217.2" cy="878.3" r="2.3"/><circle cx="231.9" cy="879.1" r="2.3"/><circle cx="212.8" cy="878.3" r="2.3"/><circle cx="232.6" cy="879.8" r="2.3"/><circle cx="226.7" cy="879.6" r="2.3"/><circle cx="219.6" cy="878.6" r="2.3"/><circle cx="218.8" cy="892.8" r="2.3"/><circle cx="222.1" cy="890.9" r="2.3"/><circle cx="216.5" cy="891.8" r="2.3"/><circle cx="218.1" cy="893.1" r="2.3"/><circle cx="225.4" cy="891.4" r="2.3"/><circle cx="233.4" cy="890.6" r="2.3"/><circle cx="225.3" cy="890.9" r="2.3"/><circle cx="221.1" cy="892.7" r="2.3"/><circle cx="218.1" cy="892.6" r="2.3"/><circle cx="251.3" cy="907.6" r="2.3"/><circle cx="245.0" cy="890.9" r="2.3"/><circle cx="251.2" cy="907.4" r="2.3"/><circle cx="250.4" cy="904.3" r="2.3"/><circle cx="250.7" cy="917.0" r="2.3"/><circle cx="249.6" cy="908.9" r="2.3"/><circle cx="250.1" cy="904.8" r="2.3"/><circle cx="247.0" cy="894.1" r="2.3"/><circle cx="249.9" cy="914.2" r="2.3"/><circle cx="250.7" cy="909.2" r="2.3"/><circle cx="246.8" cy="893.7" r="2.3"/><circle cx="250.2" cy="903.0" r="2.3"/>
</g>
<g fill="#00cd00" stroke="#000" stroke-width="0.9">
<circle cx="243.4" cy="835.2" r="2.3"/>
</g>
<g fill="#ffa500" stroke="#000" stroke-width="0.9">
<circle cx="240.4" cy="816.8" r="2.3"/><circle cx="238.0" cy="837.2" r="2.3"/><circle cx="240.5" cy="840.3" r="2.3"/><circle cx="242.5" cy="841.3" r="2.3"/><circle cx="243.5" cy="839.3" r="2.3"/>
</g>
<g fill="#ff0000" stroke="#000" stroke-width="0.9">
<circle cx="239.6" cy="804.5" r="2.3"/>
</g><path d="M239.9,790.8 L242.9,793.8 L239.9,796.8 L236.9,793.8 Z" fill="#9932cc" stroke="#000" stroke-width="0.6"/><line x1="241.4" y1="792.6" x2="251.2" y2="786.2" stroke="#000" stroke-width="0.7"/><text x="253.0" y="784.3" font-size="9.4">rs138788</text>
<g fill="#4169e1" stroke="#000" stroke-width="1.4">
<circle cx="529.4" cy="638.4" r="2.0"/><circle cx="576.2" cy="641.5" r="2.0"/><circle cx="544.9" cy="635.8" r="2.0"/><circle cx="593.7" cy="642.2" r="2.0"/><circle cx="544.8" cy="638.5" r="2.0"/><circle cx="516.6" cy="635.1" r="2.0"/><circle cx="521.4" cy="640.1" r="2.0"/><circle cx="600.3" cy="638.3" r="2.0"/><circle cx="478.2" cy="641.2" r="2.0"/><circle cx="515.3" cy="643.0" r="2.0"/><circle cx="536.4" cy="637.4" r="2.0"/><circle cx="502.0" cy="636.3" r="2.0"/><circle cx="597.3" cy="639.1" r="2.0"/><circle cx="550.5" cy="642.6" r="2.0"/><circle cx="431.6" cy="634.9" r="2.0"/><circle cx="475.0" cy="642.0" r="2.0"/><circle cx="591.4" cy="637.2" r="2.0"/><circle cx="444.4" cy="641.1" r="2.0"/><circle cx="467.1" cy="641.5" r="2.0"/><circle cx="422.2" cy="639.3" r="2.0"/><circle cx="478.8" cy="640.5" r="2.0"/><circle cx="456.2" cy="642.7" r="2.0"/><circle cx="427.3" cy="636.0" r="2.0"/><circle cx="563.0" cy="639.0" r="2.0"/><circle cx="444.5" cy="642.4" r="2.0"/><circle cx="443.7" cy="641.1" r="2.0"/><circle cx="431.9" cy="641.5" r="2.0"/><circle cx="459.6" cy="642.1" r="2.0"/><circle cx="545.2" cy="639.9" r="2.0"/><circle cx="511.0" cy="640.8" r="2.0"/><circle cx="523.4" cy="636.9" r="2.0"/><circle cx="479.5" cy="642.9" r="2.0"/><circle cx="512.4" cy="640.6" r="2.0"/><circle cx="569.3" cy="642.7" r="2.0"/><circle cx="586.8" cy="643.2" r="2.0"/><circle cx="524.0" cy="640.1" r="2.0"/><circle cx="480.9" cy="635.9" r="2.0"/><circle cx="554.4" cy="642.3" r="2.0"/><circle cx="515.0" cy="638.5" r="2.0"/><circle cx="427.4" cy="642.8" r="2.0"/><circle cx="535.3" cy="637.4" r="2.0"/><circle cx="508.9" cy="640.3" r="2.0"/><circle cx="517.3" cy="641.6" r="2.0"/><circle cx="587.5" cy="635.1" r="2.0"/><circle cx="512.6" cy="643.2" r="2.0"/><circle cx="496.5" cy="636.7" r="2.0"/><circle cx="482.7" cy="642.7" r="2.0"/><circle cx="456.2" cy="637.6" r="2.0"/><circle cx="539.2" cy="641.4" r="2.0"/><circle cx="539.5" cy="637.1" r="2.0"/><circle cx="604.6" cy="636.4" r="2.0"/><circle cx="503.5" cy="636.7" r="2.0"/><circle cx="596.8" cy="636.1" r="2.0"/><circle cx="563.6" cy="638.8" r="2.0"/><circle cx="518.2" cy="636.2" r="2.0"/><circle cx="539.8" cy="637.5" r="2.0"/><circle cx="464.3" cy="642.8" r="2.0"/><circle cx="472.4" cy="638.8" r="2.0"/><circle cx="529.9" cy="642.1" r="2.0"/><circle cx="456.8" cy="635.2" r="2.0"/><circle cx="434.6" cy="635.5" r="2.0"/><circle cx="567.7" cy="638.9" r="2.0"/><circle cx="610.2" cy="637.9" r="2.0"/><circle cx="422.3" cy="635.4" r="2.0"/><circle cx="499.5" cy="635.6" r="2.0"/><circle cx="575.6" cy="642.5" r="2.0"/><circle cx="428.5" cy="643.2" r="2.0"/><circle cx="569.3" cy="636.8" r="2.0"/><circle cx="464.3" cy="642.7" r="2.0"/><circle cx="490.6" cy="636.8" r="2.0"/><circle cx="561.7" cy="636.1" r="2.0"/><circle cx="604.9" cy="637.2" r="2.0"/><circle cx="579.8" cy="643.2" r="2.0"/><circle cx="422.2" cy="636.1" r="2.0"/><circle cx="538.6" cy="641.1" r="2.0"/><circle cx="445.4" cy="641.0" r="2.0"/><circle cx="485.4" cy="639.6" r="2.0"/><circle cx="506.5" cy="642.0" r="2.0"/><circle cx="436.6" cy="642.0" r="2.0"/><circle cx="445.4" cy="642.8" r="2.0"/><circle cx="499.8" cy="642.6" r="2.0"/><circle cx="573.0" cy="639.2" r="2.0"/><circle cx="508.4" cy="638.3" r="2.0"/><circle cx="465.6" cy="643.2" r="2.0"/><circle cx="435.9" cy="641.0" r="2.0"/><circle cx="489.6" cy="641.7" r="2.0"/><circle cx="479.2" cy="636.4" r="2.0"/><circle cx="422.6" cy="640.0" r="2.0"/><circle cx="493.8" cy="641.4" r="2.0"/><circle cx="558.7" cy="641.9" r="2.0"/><circle cx="429.0" cy="642.4" r="2.0"/><circle cx="606.9" cy="640.9" r="2.0"/><circle cx="443.2" cy="635.0" r="2.0"/><circle cx="543.6" cy="635.2" r="2.0"/><circle cx="484.0" cy="636.6" r="2.0"/><circle cx="428.9" cy="641.8" r="2.0"/><circle cx="572.0" cy="639.4" r="2.0"/><circle cx="571.0" cy="640.6" r="2.0"/><circle cx="587.5" cy="642.9" r="2.0"/><circle cx="539.5" cy="642.1" r="2.0"/><circle cx="458.9" cy="635.9" r="2.0"/><circle cx="502.7" cy="636.6" r="2.0"/><circle cx="475.0" cy="637.4" r="2.0"/><circle cx="593.4" cy="638.4" r="2.0"/><circle cx="465.6" cy="638.0" r="2.0"/><circle cx="601.7" cy="636.7" r="2.0"/><circle cx="505.4" cy="640.5" r="2.0"/><circle cx="439.7" cy="637.1" r="2.0"/><circle cx="451.1" cy="641.9" r="2.0"/><circle cx="427.3" cy="642.3" r="2.0"/><circle cx="493.9" cy="639.8" r="2.0"/><circle cx="454.3" cy="640.2" r="2.0"/><circle cx="565.0" cy="642.8" r="2.0"/><circle cx="446.7" cy="639.4" r="2.0"/><circle cx="592.7" cy="635.6" r="2.0"/><circle cx="529.1" cy="642.8" r="2.0"/><circle cx="587.0" cy="634.8" r="2.0"/><circle cx="591.9" cy="639.3" r="2.0"/><circle cx="493.7" cy="638.8" r="2.0"/><circle cx="571.2" cy="634.8" r="2.0"/><circle cx="514.8" cy="639.5" r="2.0"/><circle cx="480.0" cy="639.2" r="2.0"/><circle cx="524.3" cy="641.4" r="2.0"/><circle cx="508.1" cy="635.6" r="2.0"/><circle cx="465.8" cy="641.6" r="2.0"/><circle cx="478.9" cy="636.2" r="2.0"/><circle cx="478.6" cy="636.5" r="2.0"/><circle cx="597.5" cy="636.0" r="2.0"/><circle cx="573.8" cy="642.1" r="2.0"/><circle cx="506.6" cy="636.5" r="2.0"/><circle cx="467.7" cy="638.6" r="2.0"/><circle cx="586.5" cy="635.4" r="2.0"/><circle cx="487.6" cy="642.6" r="2.0"/><circle cx="426.9" cy="641.1" r="2.0"/><circle cx="525.0" cy="641.4" r="2.0"/><circle cx="577.5" cy="638.2" r="2.0"/><circle cx="539.0" cy="636.5" r="2.0"/><circle cx="483.4" cy="638.2" r="2.0"/><circle cx="487.7" cy="641.4" r="2.0"/><circle cx="442.8" cy="636.9" r="2.0"/><circle cx="592.1" cy="643.2" r="2.0"/><circle cx="557.1" cy="643.0" r="2.0"/><circle cx="500.3" cy="641.1" r="2.0"/><circle cx="592.5" cy="640.2" r="2.0"/><circle cx="518.0" cy="640.8" r="2.0"/><circle cx="469.4" cy="641.7" r="2.0"/><circle cx="432.8" cy="643.2" r="2.0"/><circle cx="525.5" cy="637.3" r="2.0"/><circle cx="548.4" cy="641.6" r="2.0"/><circle cx="608.8" cy="642.9" r="2.0"/><circle cx="503.0" cy="641.0" r="2.0"/><circle cx="455.1" cy="635.1" r="2.0"/><circle cx="556.9" cy="642.5" r="2.0"/><circle cx="454.6" cy="636.6" r="2.0"/><circle cx="491.8" cy="641.3" r="2.0"/><circle cx="477.4" cy="641.1" r="2.0"/><circle cx="532.9" cy="641.2" r="2.0"/><circle cx="533.5" cy="643.0" r="2.0"/><circle cx="522.7" cy="638.8" r="2.0"/><circle cx="481.8" cy="636.1" r="2.0"/><circle cx="597.4" cy="638.1" r="2.0"/><circle cx="499.2" cy="642.3" r="2.0"/><circle cx="539.9" cy="641.4" r="2.0"/><circle cx="452.3" cy="639.3" r="2.0"/><circle cx="459.0" cy="638.3" r="2.0"/><circle cx="565.3" cy="643.3" r="2.0"/><circle cx="541.2" cy="642.1" r="2.0"/><circle cx="485.0" cy="637.5" r="2.0"/><circle cx="604.4" cy="641.2" r="2.0"/><circle cx="564.4" cy="640.9" r="2.0"/><circle cx="599.7" cy="642.3" r="2.0"/><circle cx="547.3" cy="642.9" r="2.0"/><circle cx="527.4" cy="637.3" r="2.0"/><circle cx="594.5" cy="637.1" r="2.0"/><circle cx="525.4" cy="640.4" r="2.0"/><circle cx="540.7" cy="638.2" r="2.0"/><circle cx="537.1" cy="637.6" r="2.0"/><circle cx="562.6" cy="635.4" r="2.0"/><circle cx="538.9" cy="636.0" r="2.0"/><circle cx="561.7" cy="640.6" r="2.0"/><circle cx="573.5" cy="640.7" r="2.0"/><circle cx="578.4" cy="636.0" r="2.0"/><circle cx="591.4" cy="635.6" r="2.0"/><circle cx="552.6" cy="639.6" r="2.0"/><circle cx="475.8" cy="638.3" r="2.0"/><circle cx="590.6" cy="640.8" r="2.0"/><circle cx="461.0" cy="637.2" r="2.0"/><circle cx="593.8" cy="642.0" r="2.0"/><circle cx="447.4" cy="642.7" r="2.0"/><circle cx="525.9" cy="636.4" r="2.0"/><circle cx="468.1" cy="636.8" r="2.0"/><circle cx="429.8" cy="642.0" r="2.0"/><circle cx="524.9" cy="637.2" r="2.0"/><circle cx="514.8" cy="637.8" r="2.0"/><circle cx="489.3" cy="640.6" r="2.0"/><circle cx="520.0" cy="643.3" r="2.0"/><circle cx="459.1" cy="640.9" r="2.0"/><circle cx="545.7" cy="642.1" r="2.0"/><circle cx="467.3" cy="634.8" r="2.0"/><circle cx="544.7" cy="640.4" r="2.0"/><circle cx="569.8" cy="637.6" r="2.0"/><circle cx="576.2" cy="639.0" r="2.0"/><circle cx="537.8" cy="642.8" r="2.0"/><circle cx="502.4" cy="640.5" r="2.0"/><circle cx="469.6" cy="640.7" r="2.0"/><circle cx="589.3" cy="641.9" r="2.0"/><circle cx="442.6" cy="641.0" r="2.0"/><circle cx="453.2" cy="643.2" r="2.0"/><circle cx="594.4" cy="639.1" r="2.0"/><circle cx="426.0" cy="639.3" r="2.0"/><circle cx="621.1" cy="637.2" r="2.0"/><circle cx="665.8" cy="628.0" r="2.0"/><circle cx="634.1" cy="631.9" r="2.0"/><circle cx="639.6" cy="642.7" r="2.0"/><circle cx="634.2" cy="631.4" r="2.0"/><circle cx="656.1" cy="633.0" r="2.0"/><circle cx="668.3" cy="638.8" r="2.0"/><circle cx="651.7" cy="631.2" r="2.0"/><circle cx="664.6" cy="630.2" r="2.0"/><circle cx="661.6" cy="639.4" r="2.0"/><circle cx="632.9" cy="634.9" r="2.0"/><circle cx="618.0" cy="639.9" r="2.0"/><circle cx="632.5" cy="641.3" r="2.0"/><circle cx="621.7" cy="634.3" r="2.0"/><circle cx="629.0" cy="642.9" r="2.0"/><circle cx="657.3" cy="628.7" r="2.0"/><circle cx="624.0" cy="633.7" r="2.0"/><circle cx="615.8" cy="641.1" r="2.0"/><circle cx="620.5" cy="634.5" r="2.0"/><circle cx="643.4" cy="631.1" r="2.0"/><circle cx="649.3" cy="632.4" r="2.0"/><circle cx="661.7" cy="635.5" r="2.0"/><circle cx="624.1" cy="641.8" r="2.0"/><circle cx="660.7" cy="631.2" r="2.0"/><circle cx="648.5" cy="628.6" r="2.0"/><circle cx="657.9" cy="638.5" r="2.0"/><circle cx="621.8" cy="638.1" r="2.0"/><circle cx="664.2" cy="629.8" r="2.0"/><circle cx="611.4" cy="643.3" r="2.0"/><circle cx="636.9" cy="629.4" r="2.0"/><circle cx="662.0" cy="630.8" r="2.0"/><circle cx="615.0" cy="641.3" r="2.0"/><circle cx="655.9" cy="637.9" r="2.0"/><circle cx="629.5" cy="628.4" r="2.0"/><circle cx="612.0" cy="637.1" r="2.0"/><circle cx="662.2" cy="633.4" r="2.0"/><circle cx="662.5" cy="640.4" r="2.0"/><circle cx="643.5" cy="628.0" r="2.0"/><circle cx="618.7" cy="638.1" r="2.0"/><circle cx="668.5" cy="641.8" r="2.0"/><circle cx="655.9" cy="632.5" r="2.0"/><circle cx="626.0" cy="627.8" r="2.0"/><circle cx="656.3" cy="642.2" r="2.0"/><circle cx="668.4" cy="629.9" r="2.0"/><circle cx="638.8" cy="643.1" r="2.0"/><circle cx="656.5" cy="635.5" r="2.0"/><circle cx="654.2" cy="642.7" r="2.0"/><circle cx="638.8" cy="631.4" r="2.0"/><circle cx="653.2" cy="641.7" r="2.0"/><circle cx="630.1" cy="637.7" r="2.0"/><circle cx="637.6" cy="627.8" r="2.0"/><circle cx="665.1" cy="643.3" r="2.0"/><circle cx="646.9" cy="642.1" r="2.0"/><circle cx="661.1" cy="636.5" r="2.0"/><circle cx="663.1" cy="629.4" r="2.0"/><circle cx="665.2" cy="641.7" r="2.0"/><circle cx="614.7" cy="632.1" r="2.0"/><circle cx="638.0" cy="632.0" r="2.0"/><circle cx="636.7" cy="638.3" r="2.0"/><circle cx="653.6" cy="639.0" r="2.0"/><circle cx="639.8" cy="638.6" r="2.0"/><circle cx="650.1" cy="642.8" r="2.0"/><circle cx="637.8" cy="635.6" r="2.0"/><circle cx="650.7" cy="629.6" r="2.0"/><circle cx="632.5" cy="628.4" r="2.0"/><circle cx="651.8" cy="638.8" r="2.0"/><circle cx="643.6" cy="639.1" r="2.0"/><circle cx="648.9" cy="643.2" r="2.0"/><circle cx="663.1" cy="639.1" r="2.0"/><circle cx="611.7" cy="642.7" r="2.0"/><circle cx="630.7" cy="640.5" r="2.0"/><circle cx="659.6" cy="638.9" r="2.0"/><circle cx="664.2" cy="640.3" r="2.0"/><circle cx="631.0" cy="628.6" r="2.0"/><circle cx="660.8" cy="628.9" r="2.0"/><circle cx="617.6" cy="642.8" r="2.0"/><circle cx="651.3" cy="639.5" r="2.0"/><circle cx="617.1" cy="642.6" r="2.0"/><circle cx="629.7" cy="639.9" r="2.0"/><circle cx="649.5" cy="627.8" r="2.0"/><circle cx="620.8" cy="631.7" r="2.0"/><circle cx="645.5" cy="630.3" r="2.0"/><circle cx="668.5" cy="629.3" r="2.0"/><circle cx="618.6" cy="632.7" r="2.0"/><circle cx="655.9" cy="638.8" r="2.0"/><circle cx="612.8" cy="632.3" r="2.0"/><circle cx="647.4" cy="632.3" r="2.0"/><circle cx="654.8" cy="632.8" r="2.0"/><circle cx="613.5" cy="628.8" r="2.0"/><circle cx="666.4" cy="639.2" r="2.0"/><circle cx="656.6" cy="628.8" r="2.0"/><circle cx="636.0" cy="639.5" r="2.0"/><circle cx="645.9" cy="631.9" r="2.0"/><circle cx="634.9" cy="633.4" r="2.0"/><circle cx="666.4" cy="638.9" r="2.0"/><circle cx="663.8" cy="642.1" r="2.0"/><circle cx="645.4" cy="630.9" r="2.0"/><circle cx="634.5" cy="640.3" r="2.0"/><circle cx="627.1" cy="639.1" r="2.0"/><circle cx="633.6" cy="638.3" r="2.0"/><circle cx="625.2" cy="635.3" r="2.0"/><circle cx="623.9" cy="640.5" r="2.0"/><circle cx="638.0" cy="629.4" r="2.0"/><circle cx="627.0" cy="641.6" r="2.0"/><circle cx="655.9" cy="635.5" r="2.0"/><circle cx="618.0" cy="628.1" r="2.0"/><circle cx="622.6" cy="634.6" r="2.0"/><circle cx="624.8" cy="631.0" r="2.0"/><circle cx="632.5" cy="634.7" r="2.0"/><circle cx="657.1" cy="633.4" r="2.0"/><circle cx="629.0" cy="640.0" r="2.0"/><circle cx="644.8" cy="636.5" r="2.0"/><circle cx="652.4" cy="642.8" r="2.0"/><circle cx="614.7" cy="643.3" r="2.0"/><circle cx="657.7" cy="641.7" r="2.0"/><circle cx="654.6" cy="637.6" r="2.0"/><circle cx="666.4" cy="634.6" r="2.0"/><circle cx="660.1" cy="642.5" r="2.0"/><circle cx="662.8" cy="638.8" r="2.0"/><circle cx="613.5" cy="630.4" r="2.0"/><circle cx="624.6" cy="634.3" r="2.0"/><circle cx="612.0" cy="637.9" r="2.0"/><circle cx="638.0" cy="637.7" r="2.0"/><circle cx="658.9" cy="640.2" r="2.0"/><circle cx="663.9" cy="641.8" r="2.0"/><circle cx="667.1" cy="640.2" r="2.0"/><circle cx="650.3" cy="629.0" r="2.0"/><circle cx="650.5" cy="630.5" r="2.0"/><circle cx="616.1" cy="628.3" r="2.0"/><circle cx="613.4" cy="633.9" r="2.0"/><circle cx="658.8" cy="632.2" r="2.0"/><circle cx="653.2" cy="635.1" r="2.0"/><circle cx="668.3" cy="641.1" r="2.0"/><circle cx="663.8" cy="631.4" r="2.0"/><circle cx="622.1" cy="637.5" r="2.0"/><circle cx="636.3" cy="642.0" r="2.0"/><circle cx="660.5" cy="630.5" r="2.0"/><circle cx="654.5" cy="643.1" r="2.0"/><circle cx="653.3" cy="629.0" r="2.0"/><circle cx="652.7" cy="629.0" r="2.0"/><circle cx="666.7" cy="633.4" r="2.0"/><circle cx="654.0" cy="640.0" r="2.0"/><circle cx="655.8" cy="639.8" r="2.0"/><circle cx="626.4" cy="639.6" r="2.0"/><circle cx="628.9" cy="643.1" r="2.0"/><circle cx="619.7" cy="640.3" r="2.0"/><circle cx="623.6" cy="643.2" r="2.0"/><circle cx="653.7" cy="631.1" r="2.0"/><circle cx="630.3" cy="633.2" r="2.0"/><circle cx="661.4" cy="643.1" r="2.0"/><circle cx="644.2" cy="635.4" r="2.0"/><circle cx="621.0" cy="629.6" r="2.0"/><circle cx="657.7" cy="636.3" r="2.0"/><circle cx="642.1" cy="630.9" r="2.0"/><circle cx="614.3" cy="630.1" r="2.0"/><circle cx="641.4" cy="640.0" r="2.0"/><circle cx="626.1" cy="636.2" r="2.0"/><circle cx="616.8" cy="631.0" r="2.0"/><circle cx="634.7" cy="629.7" r="2.0"/><circle cx="666.3" cy="631.7" r="2.0"/><circle cx="617.3" cy="640.8" r="2.0"/><circle cx="647.6" cy="628.8" r="2.0"/><circle cx="647.3" cy="639.1" r="2.0"/><circle cx="657.9" cy="637.5" r="2.0"/><circle cx="645.2" cy="637.7" r="2.0"/><circle cx="666.2" cy="635.0" r="2.0"/><circle cx="617.3" cy="634.4" r="2.0"/><circle cx="634.4" cy="641.7" r="2.0"/><circle cx="639.8" cy="640.5" r="2.0"/><circle cx="666.1" cy="641.1" r="2.0"/><circle cx="642.6" cy="643.3" r="2.0"/><circle cx="628.6" cy="634.3" r="2.0"/><circle cx="640.0" cy="634.1" r="2.0"/><circle cx="644.3" cy="635.0" r="2.0"/><circle cx="625.9" cy="629.1" r="2.0"/><circle cx="648.8" cy="643.2" r="2.0"/><circle cx="659.4" cy="641.7" r="2.0"/><circle cx="635.1" cy="634.3" r="2.0"/><circle cx="663.1" cy="641.7" r="2.0"/><circle cx="628.2" cy="636.7" r="2.0"/><circle cx="650.5" cy="637.5" r="2.0"/><circle cx="652.0" cy="627.8" r="2.0"/><circle cx="614.8" cy="638.5" r="2.0"/><circle cx="657.0" cy="631.3" r="2.0"/><circle cx="666.4" cy="639.5" r="2.0"/><circle cx="625.4" cy="634.0" r="2.0"/><circle cx="659.0" cy="631.6" r="2.0"/><circle cx="642.1" cy="642.2" r="2.0"/><circle cx="651.6" cy="640.6" r="2.0"/><circle cx="612.5" cy="643.3" r="2.0"/><circle cx="630.8" cy="638.9" r="2.0"/><circle cx="642.6" cy="637.8" r="2.0"/><circle cx="640.7" cy="634.6" r="2.0"/><circle cx="621.6" cy="631.5" r="2.0"/><circle cx="649.9" cy="631.3" r="2.0"/><circle cx="643.7" cy="636.2" r="2.0"/><circle cx="659.5" cy="634.2" r="2.0"/><circle cx="626.4" cy="630.3" r="2.0"/><circle cx="622.1" cy="640.4" r="2.0"/><circle cx="658.9" cy="637.7" r="2.0"/><circle cx="584.1" cy="604.7" r="2.0"/><circle cx="590.3" cy="610.3" r="2.0"/><circle cx="586.8" cy="608.2" r="2.0"/><circle cx="585.9" cy="605.8" r="2.0"/><circle cx="585.2" cy="609.9" r="2.0"/><circle cx="594.0" cy="606.8" r="2.0"/><circle cx="588.7" cy="604.8" r="2.0"/><circle cx="591.6" cy="605.0" r="2.0"/><circle cx="586.7" cy="608.5" r="2.0"/><circle cx="586.7" cy="607.4" r="2.0"/><circle cx="590.1" cy="609.2" r="2.0"/><circle cx="589.9" cy="604.4" r="2.0"/><circle cx="592.5" cy="610.4" r="2.0"/><circle cx="588.7" cy="606.4" r="2.0"/><circle cx="582.8" cy="604.1" r="2.0"/><circle cx="593.0" cy="606.9" r="2.0"/><circle cx="589.2" cy="606.4" r="2.0"/><circle cx="587.5" cy="606.8" r="2.0"/><circle cx="589.1" cy="608.2" r="2.0"/><circle cx="588.6" cy="610.1" r="2.0"/><circle cx="590.6" cy="608.9" r="2.0"/><circle cx="585.7" cy="609.5" r="2.0"/><circle cx="592.5" cy="607.5" r="2.0"/><circle cx="590.1" cy="607.2" r="2.0"/><circle cx="590.2" cy="608.1" r="2.0"/>
</g>
<g fill="#4169e1" stroke="#000" stroke-width="0.9">
<circle cx="485.4" cy="634.0" r="2.3"/><circle cx="600.7" cy="641.4" r="2.3"/><circle cx="456.2" cy="639.0" r="2.3"/><circle cx="618.1" cy="639.5" r="2.3"/><circle cx="477.0" cy="638.1" r="2.3"/><circle cx="545.0" cy="635.7" r="2.3"/><circle cx="500.2" cy="638.4" r="2.3"/><circle cx="665.0" cy="634.1" r="2.3"/><circle cx="475.4" cy="637.1" r="2.3"/><circle cx="458.7" cy="631.4" r="2.3"/><circle cx="485.5" cy="632.1" r="2.3"/><circle cx="474.7" cy="640.6" r="2.3"/><circle cx="505.9" cy="639.3" r="2.3"/><circle cx="506.3" cy="638.5" r="2.3"/><circle cx="522.4" cy="641.9" r="2.3"/><circle cx="576.7" cy="634.9" r="2.3"/><circle cx="476.5" cy="641.7" r="2.3"/><circle cx="429.7" cy="641.1" r="2.3"/><circle cx="549.3" cy="635.7" r="2.3"/><circle cx="653.8" cy="633.3" r="2.3"/><circle cx="460.4" cy="640.2" r="2.3"/><circle cx="469.6" cy="642.5" r="2.3"/><circle cx="427.9" cy="636.7" r="2.3"/><circle cx="657.8" cy="631.4" r="2.3"/><circle cx="427.0" cy="640.3" r="2.3"/><circle cx="508.2" cy="632.9" r="2.3"/><circle cx="446.3" cy="638.0" r="2.3"/><circle cx="637.7" cy="633.8" r="2.3"/><circle cx="465.7" cy="637.0" r="2.3"/><circle cx="589.7" cy="641.8" r="2.3"/><circle cx="634.9" cy="635.1" r="2.3"/><circle cx="511.9" cy="639.2" r="2.3"/><circle cx="443.1" cy="632.3" r="2.3"/><circle cx="468.5" cy="636.2" r="2.3"/><circle cx="594.1" cy="636.0" r="2.3"/><circle cx="618.6" cy="640.0" r="2.3"/><circle cx="586.5" cy="640.7" r="2.3"/><circle cx="596.7" cy="634.1" r="2.3"/><circle cx="536.5" cy="634.4" r="2.3"/><circle cx="588.9" cy="643.1" r="2.3"/><circle cx="473.6" cy="640.7" r="2.3"/><circle cx="592.4" cy="633.2" r="2.3"/><circle cx="478.1" cy="632.1" r="2.3"/><circle cx="469.7" cy="638.1" r="2.3"/><circle cx="631.6" cy="639.9" r="2.3"/><circle cx="633.7" cy="642.8" r="2.3"/><circle cx="493.3" cy="633.1" r="2.3"/><circle cx="583.6" cy="641.8" r="2.3"/><circle cx="542.5" cy="636.9" r="2.3"/><circle cx="428.2" cy="632.0" r="2.3"/><circle cx="427.2" cy="632.0" r="2.3"/><circle cx="593.4" cy="635.3" r="2.3"/><circle cx="512.9" cy="640.3" r="2.3"/><circle cx="543.3" cy="631.7" r="2.3"/><circle cx="444.7" cy="637.5" r="2.3"/><circle cx="571.1" cy="631.5" r="2.3"/><circle cx="595.7" cy="631.8" r="2.3"/><circle cx="594.7" cy="638.0" r="2.3"/><circle cx="653.1" cy="642.8" r="2.3"/><circle cx="606.5" cy="643.1" r="2.3"/><circle cx="443.1" cy="642.7" r="2.3"/><circle cx="532.5" cy="633.6" r="2.3"/><circle cx="618.3" cy="635.8" r="2.3"/><circle cx="512.6" cy="639.8" r="2.3"/><circle cx="533.6" cy="639.3" r="2.3"/><circle cx="548.5" cy="635.5" r="2.3"/><circle cx="443.8" cy="632.0" r="2.3"/><circle cx="453.3" cy="632.7" r="2.3"/><circle cx="424.8" cy="643.3" r="2.3"/><circle cx="659.2" cy="639.3" r="2.3"/><circle cx="518.0" cy="633.9" r="2.3"/><circle cx="441.1" cy="635.9" r="2.3"/><circle cx="636.2" cy="637.4" r="2.3"/><circle cx="426.9" cy="641.5" r="2.3"/><circle cx="638.3" cy="640.9" r="2.3"/><circle cx="596.1" cy="635.5" r="2.3"/><circle cx="613.1" cy="635.5" r="2.3"/><circle cx="554.2" cy="633.6" r="2.3"/><circle cx="599.8" cy="640.5" r="2.3"/><circle cx="439.1" cy="636.2" r="2.3"/><circle cx="563.5" cy="635.2" r="2.3"/><circle cx="493.3" cy="631.3" r="2.3"/><circle cx="569.1" cy="638.2" r="2.3"/><circle cx="463.1" cy="641.1" r="2.3"/><circle cx="488.7" cy="635.0" r="2.3"/><circle cx="523.3" cy="633.4" r="2.3"/><circle cx="500.0" cy="633.1" r="2.3"/><circle cx="661.7" cy="635.2" r="2.3"/><circle cx="618.3" cy="639.8" r="2.3"/><circle cx="535.0" cy="638.6" r="2.3"/><circle cx="520.5" cy="631.5" r="2.3"/><circle cx="503.6" cy="631.6" r="2.3"/><circle cx="602.6" cy="640.0" r="2.3"/><circle cx="528.4" cy="638.1" r="2.3"/><circle cx="534.9" cy="631.8" r="2.3"/><circle cx="578.7" cy="637.3" r="2.3"/><circle cx="565.7" cy="639.1" r="2.3"/><circle cx="453.3" cy="638.6" r="2.3"/><circle cx="621.3" cy="633.7" r="2.3"/><circle cx="429.3" cy="635.6" r="2.3"/><circle cx="611.1" cy="635.6" r="2.3"/><circle cx="658.0" cy="639.6" r="2.3"/><circle cx="462.2" cy="638.4" r="2.3"/><circle cx="427.0" cy="632.9" r="2.3"/><circle cx="531.3" cy="635.3" r="2.3"/><circle cx="545.7" cy="636.9" r="2.3"/><circle cx="514.5" cy="633.8" r="2.3"/><circle cx="637.0" cy="631.3" r="2.3"/><circle cx="561.4" cy="637.6" r="2.3"/><circle cx="562.0" cy="631.7" r="2.3"/><circle cx="503.2" cy="643.1" r="2.3"/><circle cx="546.0" cy="632.9" r="2.3"/><circle cx="456.7" cy="639.1" r="2.3"/><circle cx="576.6" cy="635.6" r="2.3"/><circle cx="503.2" cy="634.1" r="2.3"/><circle cx="625.6" cy="634.8" r="2.3"/><circle cx="637.3" cy="641.7" r="2.3"/><circle cx="523.4" cy="638.3" r="2.3"/><circle cx="492.8" cy="638.1" r="2.3"/><circle cx="651.9" cy="634.3" r="2.3"/><circle cx="468.0" cy="634.9" r="2.3"/><circle cx="582.5" cy="640.3" r="2.3"/><circle cx="506.2" cy="641.7" r="2.3"/><circle cx="533.1" cy="634.3" r="2.3"/><circle cx="507.9" cy="639.5" r="2.3"/><circle cx="481.7" cy="631.5" r="2.3"/><circle cx="483.0" cy="637.9" r="2.3"/><circle cx="478.3" cy="637.3" r="2.3"/><circle cx="614.6" cy="632.7" r="2.3"/><circle cx="564.9" cy="632.0" r="2.3"/><circle cx="492.6" cy="634.9" r="2.3"/><circle cx="512.3" cy="640.1" r="2.3"/><circle cx="519.3" cy="640.8" r="2.3"/><circle cx="576.4" cy="641.3" r="2.3"/><circle cx="597.0" cy="634.4" r="2.3"/><circle cx="426.3" cy="638.7" r="2.3"/><circle cx="582.6" cy="635.5" r="2.3"/><circle cx="574.6" cy="643.1" r="2.3"/><circle cx="606.0" cy="641.6" r="2.3"/><circle cx="425.4" cy="634.2" r="2.3"/><circle cx="528.5" cy="640.9" r="2.3"/><circle cx="456.0" cy="638.7" r="2.3"/><circle cx="584.8" cy="642.9" r="2.3"/><circle cx="549.5" cy="637.8" r="2.3"/><circle cx="637.3" cy="638.1" r="2.3"/><circle cx="461.7" cy="636.1" r="2.3"/><circle cx="443.5" cy="642.1" r="2.3"/><circle cx="643.4" cy="636.5" r="2.3"/><circle cx="508.3" cy="640.7" r="2.3"/><circle cx="456.7" cy="638.3" r="2.3"/><circle cx="500.9" cy="623.8" r="2.3"/><circle cx="510.5" cy="628.5" r="2.3"/><circle cx="515.7" cy="629.3" r="2.3"/><circle cx="516.4" cy="628.5" r="2.3"/><circle cx="459.6" cy="628.7" r="2.3"/><circle cx="568.3" cy="631.1" r="2.3"/><circle cx="536.2" cy="623.9" r="2.3"/><circle cx="532.7" cy="628.0" r="2.3"/><circle cx="585.9" cy="625.7" r="2.3"/><circle cx="485.1" cy="631.9" r="2.3"/><circle cx="594.8" cy="628.0" r="2.3"/><circle cx="481.7" cy="631.8" r="2.3"/><circle cx="462.6" cy="625.6" r="2.3"/><circle cx="535.7" cy="630.5" r="2.3"/><circle cx="565.0" cy="625.1" r="2.3"/><circle cx="438.4" cy="626.6" r="2.3"/><circle cx="484.5" cy="628.6" r="2.3"/><circle cx="475.7" cy="627.3" r="2.3"/><circle cx="438.0" cy="623.7" r="2.3"/><circle cx="449.0" cy="623.4" r="2.3"/><circle cx="426.0" cy="628.4" r="2.3"/><circle cx="472.8" cy="623.4" r="2.3"/><circle cx="486.3" cy="623.3" r="2.3"/><circle cx="492.0" cy="630.9" r="2.3"/><circle cx="492.9" cy="631.3" r="2.3"/><circle cx="513.7" cy="630.5" r="2.3"/><circle cx="462.8" cy="630.6" r="2.3"/><circle cx="482.5" cy="623.4" r="2.3"/><circle cx="522.9" cy="626.5" r="2.3"/><circle cx="578.6" cy="628.2" r="2.3"/><circle cx="546.4" cy="631.8" r="2.3"/><circle cx="521.0" cy="624.7" r="2.3"/><circle cx="489.1" cy="630.9" r="2.3"/><circle cx="595.3" cy="625.1" r="2.3"/><circle cx="481.3" cy="630.9" r="2.3"/><circle cx="493.6" cy="627.8" r="2.3"/><circle cx="470.8" cy="624.6" r="2.3"/><circle cx="527.8" cy="624.9" r="2.3"/><circle cx="520.7" cy="623.8" r="2.3"/><circle cx="541.8" cy="627.6" r="2.3"/><circle cx="432.6" cy="622.7" r="2.3"/><circle cx="434.2" cy="618.7" r="2.3"/><circle cx="436.8" cy="621.6" r="2.3"/><circle cx="426.3" cy="620.3" r="2.3"/><circle cx="432.0" cy="618.9" r="2.3"/><circle cx="425.7" cy="621.1" r="2.3"/><circle cx="426.3" cy="619.0" r="2.3"/><circle cx="440.1" cy="622.7" r="2.3"/><circle cx="439.2" cy="622.7" r="2.3"/><circle cx="440.9" cy="622.9" r="2.3"/><circle cx="433.2" cy="621.2" r="2.3"/><circle cx="423.2" cy="622.0" r="2.3"/><circle cx="434.9" cy="621.9" r="2.3"/><circle cx="423.9" cy="617.3" r="2.3"/><circle cx="428.5" cy="620.8" r="2.3"/><circle cx="429.9" cy="621.7" r="2.3"/><circle cx="456.0" cy="617.7" r="2.3"/><circle cx="455.4" cy="616.6" r="2.3"/><circle cx="453.8" cy="615.7" r="2.3"/><circle cx="460.2" cy="624.2" r="2.3"/><circle cx="458.4" cy="622.7" r="2.3"/><circle cx="451.5" cy="611.4" r="2.3"/><circle cx="455.4" cy="617.8" r="2.3"/><circle cx="457.0" cy="626.7" r="2.3"/><circle cx="450.0" cy="613.5" r="2.3"/><circle cx="470.4" cy="623.8" r="2.3"/><circle cx="473.6" cy="623.6" r="2.3"/><circle cx="466.3" cy="617.6" r="2.3"/><circle cx="470.5" cy="617.9" r="2.3"/><circle cx="477.2" cy="623.7" r="2.3"/><circle cx="467.3" cy="619.3" r="2.3"/><circle cx="466.5" cy="624.0" r="2.3"/><circle cx="465.3" cy="618.5" r="2.3"/><circle cx="476.5" cy="618.5" r="2.3"/><circle cx="469.4" cy="623.0" r="2.3"/><circle cx="471.5" cy="624.5" r="2.3"/><circle cx="466.9" cy="618.2" r="2.3"/><circle cx="511.7" cy="620.7" r="2.3"/><circle cx="491.1" cy="618.2" r="2.3"/><circle cx="509.5" cy="618.7" r="2.3"/><circle cx="499.4" cy="617.6" r="2.3"/><circle cx="504.3" cy="621.6" r="2.3"/><circle cx="493.9" cy="619.6" r="2.3"/><circle cx="497.7" cy="614.1" r="2.3"/><circle cx="490.2" cy="624.5" r="2.3"/><circle cx="499.9" cy="614.3" r="2.3"/><circle cx="510.5" cy="623.2" r="2.3"/><circle cx="511.9" cy="615.0" r="2.3"/><circle cx="492.1" cy="622.1" r="2.3"/><circle cx="490.4" cy="619.6" r="2.3"/><circle cx="500.0" cy="622.5" r="2.3"/><circle cx="498.5" cy="619.1" r="2.3"/><circle cx="489.2" cy="617.8" r="2.3"/><circle cx="488.3" cy="619.8" r="2.3"/><circle cx="490.2" cy="623.2" r="2.3"/><circle cx="500.5" cy="616.1" r="2.3"/><circle cx="499.1" cy="623.3" r="2.3"/><circle cx="489.9" cy="615.4" r="2.3"/><circle cx="500.2" cy="621.8" r="2.3"/><circle cx="495.4" cy="623.2" r="2.3"/><circle cx="500.6" cy="624.7" r="2.3"/><circle cx="506.1" cy="622.6" r="2.3"/><circle cx="494.5" cy="614.4" r="2.3"/><circle cx="486.6" cy="621.1" r="2.3"/><circle cx="501.9" cy="618.0" r="2.3"/><circle cx="507.4" cy="616.0" r="2.3"/><circle cx="497.3" cy="616.4" r="2.3"/><circle cx="491.4" cy="616.3" r="2.3"/><circle cx="507.4" cy="624.6" r="2.3"/><circle cx="505.8" cy="621.0" r="2.3"/><circle cx="488.2" cy="623.2" r="2.3"/><circle cx="492.2" cy="616.0" r="2.3"/><circle cx="508.2" cy="618.0" r="2.3"/><circle cx="494.6" cy="621.8" r="2.3"/><circle cx="490.7" cy="623.9" r="2.3"/><circle cx="497.4" cy="617.8" r="2.3"/><circle cx="506.8" cy="616.6" r="2.3"/><circle cx="597.4" cy="610.3" r="2.3"/><circle cx="572.6" cy="611.6" r="2.3"/><circle cx="522.5" cy="613.5" r="2.3"/><circle cx="551.3" cy="610.8" r="2.3"/><circle cx="576.4" cy="609.8" r="2.3"/><circle cx="600.3" cy="607.5" r="2.3"/><circle cx="609.2" cy="609.6" r="2.3"/><circle cx="516.4" cy="612.4" r="2.3"/><circle cx="546.6" cy="612.3" r="2.3"/><circle cx="569.0" cy="609.8" r="2.3"/><circle cx="521.1" cy="615.5" r="2.3"/><circle cx="589.6" cy="611.4" r="2.3"/><circle cx="534.2" cy="610.8" r="2.3"/><circle cx="563.7" cy="612.0" r="2.3"/><circle cx="580.3" cy="607.1" r="2.3"/><circle cx="573.9" cy="608.3" r="2.3"/><circle cx="554.5" cy="609.7" r="2.3"/><circle cx="549.0" cy="611.6" r="2.3"/><circle cx="548.3" cy="612.7" r="2.3"/><circle cx="590.1" cy="606.7" r="2.3"/><circle cx="556.4" cy="608.8" r="2.3"/><circle cx="601.8" cy="609.7" r="2.3"/><circle cx="590.5" cy="610.3" r="2.3"/><circle cx="532.2" cy="610.7" r="2.3"/><circle cx="527.3" cy="616.1" r="2.3"/><circle cx="609.2" cy="610.2" r="2.3"/><circle cx="606.8" cy="611.2" r="2.3"/><circle cx="582.2" cy="610.1" r="2.3"/><circle cx="599.3" cy="607.5" r="2.3"/><circle cx="579.0" cy="609.1" r="2.3"/><circle cx="572.2" cy="609.1" r="2.3"/><circle cx="599.8" cy="609.4" r="2.3"/><circle cx="518.5" cy="612.6" r="2.3"/><circle cx="595.7" cy="613.2" r="2.3"/><circle cx="577.4" cy="607.4" r="2.3"/><circle cx="567.7" cy="609.4" r="2.3"/><circle cx="606.9" cy="609.7" r="2.3"/><circle cx="529.3" cy="613.0" r="2.3"/><circle cx="534.1" cy="609.7" r="2.3"/><circle cx="599.1" cy="608.9" r="2.3"/><circle cx="570.3" cy="609.1" r="2.3"/><circle cx="533.3" cy="609.4" r="2.3"/><circle cx="577.9" cy="612.4" r="2.3"/><circle cx="595.6" cy="607.8" r="2.3"/><circle cx="513.8" cy="615.5" r="2.3"/><circle cx="589.7" cy="609.6" r="2.3"/><circle cx="593.9" cy="606.8" r="2.3"/><circle cx="596.9" cy="608.6" r="2.3"/><circle cx="538.6" cy="615.6" r="2.3"/><circle cx="558.4" cy="608.4" r="2.3"/><circle cx="539.1" cy="614.8" r="2.3"/><circle cx="586.6" cy="610.5" r="2.3"/><circle cx="561.9" cy="610.6" r="2.3"/><circle cx="582.9" cy="608.6" r="2.3"/><circle cx="533.7" cy="615.4" r="2.3"/><circle cx="567.8" cy="608.9" r="2.3"/><circle cx="576.0" cy="608.4" r="2.3"/><circle cx="591.4" cy="609.3" r="2.3"/><circle cx="531.3" cy="611.5" r="2.3"/><circle cx="522.7" cy="613.7" r="2.3"/><circle cx="552.1" cy="608.9" r="2.3"/><circle cx="569.8" cy="608.5" r="2.3"/><circle cx="580.5" cy="609.2" r="2.3"/><circle cx="563.8" cy="609.7" r="2.3"/><circle cx="527.4" cy="615.9" r="2.3"/><circle cx="540.6" cy="611.0" r="2.3"/><circle cx="517.2" cy="612.5" r="2.3"/><circle cx="553.4" cy="609.2" r="2.3"/><circle cx="558.0" cy="610.5" r="2.3"/><circle cx="522.3" cy="615.4" r="2.3"/><circle cx="641.9" cy="625.4" r="2.3"/><circle cx="661.1" cy="626.1" r="2.3"/><circle cx="617.9" cy="623.5" r="2.3"/><circle cx="651.9" cy="626.7" r="2.3"/><circle cx="641.8" cy="621.8" r="2.3"/><circle cx="617.7" cy="620.6" r="2.3"/><circle cx="630.5" cy="624.0" r="2.3"/><circle cx="627.9" cy="621.2" r="2.3"/><circle cx="646.7" cy="624.9" r="2.3"/><circle cx="630.9" cy="621.3" r="2.3"/><circle cx="629.5" cy="626.7" r="2.3"/><circle cx="612.9" cy="620.3" r="2.3"/><circle cx="661.7" cy="621.0" r="2.3"/><circle cx="668.9" cy="624.7" r="2.3"/><circle cx="663.8" cy="622.8" r="2.3"/><circle cx="626.3" cy="625.5" r="2.3"/><circle cx="630.0" cy="625.8" r="2.3"/><circle cx="626.9" cy="625.6" r="2.3"/><circle cx="665.7" cy="628.5" r="2.3"/><circle cx="637.9" cy="621.4" r="2.3"/><circle cx="657.3" cy="628.7" r="2.3"/><circle cx="658.8" cy="625.9" r="2.3"/><circle cx="648.5" cy="623.1" r="2.3"/><circle cx="659.4" cy="619.9" r="2.3"/><circle cx="655.1" cy="627.5" r="2.3"/><circle cx="628.3" cy="626.1" r="2.3"/><circle cx="616.5" cy="626.5" r="2.3"/><circle cx="623.4" cy="619.3" r="2.3"/><circle cx="647.0" cy="620.3" r="2.3"/><circle cx="667.0" cy="620.4" r="2.3"/><circle cx="514.0" cy="571.9" r="2.3"/><circle cx="523.3" cy="576.2" r="2.3"/><circle cx="484.8" cy="590.5" r="2.3"/><circle cx="487.8" cy="594.6" r="2.3"/><circle cx="460.3" cy="604.7" r="2.3"/><circle cx="449.3" cy="607.6" r="2.3"/><circle cx="591.2" cy="570.9" r="2.3"/><circle cx="594.7" cy="580.5" r="2.3"/><circle cx="593.0" cy="574.8" r="2.3"/><circle cx="602.2" cy="581.0" r="2.3"/><circle cx="523.5" cy="576.2" r="2.3"/><circle cx="613.4" cy="584.8" r="2.3"/><circle cx="450.0" cy="603.3" r="2.3"/><circle cx="455.0" cy="606.2" r="2.3"/><circle cx="520.0" cy="599.0" r="2.3"/><circle cx="632.0" cy="610.5" r="2.3"/><circle cx="600.0" cy="613.3" r="2.3"/><circle cx="615.1" cy="599.5" r="2.3"/><circle cx="613.7" cy="597.4" r="2.3"/><circle cx="614.1" cy="598.2" r="2.3"/><circle cx="615.3" cy="599.2" r="2.3"/><circle cx="614.5" cy="602.3" r="2.3"/><circle cx="615.6" cy="600.7" r="2.3"/>
</g>
<g fill="#d3d3d3" stroke="#000" stroke-width="0.9">
<circle cx="617.6" cy="617.2" r="2.3"/>
</g>
<g fill="#00eeee" stroke="#000" stroke-width="0.9">
<circle cx="433.4" cy="587.6" r="2.3"/><circle cx="462.8" cy="586.5" r="2.3"/><circle cx="438.7" cy="591.9" r="2.3"/><circle cx="447.9" cy="587.3" r="2.3"/><circle cx="471.4" cy="588.8" r="2.3"/><circle cx="441.2" cy="587.8" r="2.3"/><circle cx="467.7" cy="588.5" r="2.3"/><circle cx="429.7" cy="587.1" r="2.3"/><circle cx="451.0" cy="585.3" r="2.3"/><circle cx="434.0" cy="587.9" r="2.3"/><circle cx="469.7" cy="588.1" r="2.3"/><circle cx="459.3" cy="584.1" r="2.3"/><circle cx="433.8" cy="588.4" r="2.3"/><circle cx="441.3" cy="587.8" r="2.3"/><circle cx="424.6" cy="583.5" r="2.3"/><circle cx="420.1" cy="581.9" r="2.3"/><circle cx="458.5" cy="586.4" r="2.3"/><circle cx="421.7" cy="582.5" r="2.3"/><circle cx="442.8" cy="585.9" r="2.3"/><circle cx="467.2" cy="588.2" r="2.3"/><circle cx="449.7" cy="600.5" r="2.3"/><circle cx="452.0" cy="596.2" r="2.3"/><circle cx="466.0" cy="600.5" r="2.3"/><circle cx="470.0" cy="596.2" r="2.3"/><circle cx="477.8" cy="601.2" r="2.3"/><circle cx="482.5" cy="601.2" r="2.3"/><circle cx="503.0" cy="598.3" r="2.3"/><circle cx="517.5" cy="604.7" r="2.3"/><circle cx="522.3" cy="599.5" r="2.3"/><circle cx="571.0" cy="609.7" r="2.3"/><circle cx="585.0" cy="613.3" r="2.3"/><circle cx="599.4" cy="607.6" r="2.3"/><circle cx="634.5" cy="606.2" r="2.3"/><circle cx="544.5" cy="589.3" r="2.3"/><circle cx="550.4" cy="589.3" r="2.3"/><circle cx="512.0" cy="592.3" r="2.3"/><circle cx="523.5" cy="591.7" r="2.3"/><circle cx="530.1" cy="593.5" r="2.3"/><circle cx="513.1" cy="590.8" r="2.3"/><circle cx="514.1" cy="592.7" r="2.3"/><circle cx="531.5" cy="592.1" r="2.3"/><circle cx="524.7" cy="593.7" r="2.3"/><circle cx="515.9" cy="591.8" r="2.3"/><circle cx="503.5" cy="588.3" r="2.3"/><circle cx="581.4" cy="594.6" r="2.3"/><circle cx="577.0" cy="597.5" r="2.3"/><circle cx="595.5" cy="598.0" r="2.3"/><circle cx="591.4" cy="593.7" r="2.3"/><circle cx="576.7" cy="599.8" r="2.3"/><circle cx="590.1" cy="597.7" r="2.3"/><circle cx="575.0" cy="599.3" r="2.3"/><circle cx="587.0" cy="598.8" r="2.3"/><circle cx="587.6" cy="599.4" r="2.3"/><circle cx="575.8" cy="599.2" r="2.3"/><circle cx="591.6" cy="600.3" r="2.3"/><circle cx="572.6" cy="601.1" r="2.3"/><circle cx="601.0" cy="535.6" r="2.3"/>
</g>
<g fill="#00cd00" stroke="#000" stroke-width="0.9">
<circle cx="435.6" cy="515.0" r="2.3"/><circle cx="426.4" cy="513.5" r="2.3"/><circle cx="435.6" cy="520.2" r="2.3"/><circle cx="430.6" cy="515.3" r="2.3"/><circle cx="433.7" cy="516.9" r="2.3"/><circle cx="424.5" cy="519.0" r="2.3"/><circle cx="438.4" cy="522.4" r="2.3"/><circle cx="427.0" cy="522.8" r="2.3"/><circle cx="424.3" cy="521.9" r="2.3"/><circle cx="426.1" cy="526.0" r="2.3"/><circle cx="430.1" cy="521.0" r="2.3"/><circle cx="434.2" cy="522.7" r="2.3"/><circle cx="441.3" cy="524.2" r="2.3"/><circle cx="431.1" cy="525.1" r="2.3"/><circle cx="430.7" cy="521.6" r="2.3"/><circle cx="430.4" cy="523.4" r="2.3"/><circle cx="428.9" cy="517.7" r="2.3"/><circle cx="427.0" cy="522.7" r="2.3"/><circle cx="434.6" cy="506.2" r="2.3"/><circle cx="434.6" cy="543.3" r="2.3"/><circle cx="421.5" cy="513.4" r="2.3"/><circle cx="422.0" cy="511.2" r="2.3"/><circle cx="470.0" cy="530.5" r="2.3"/><circle cx="481.8" cy="534.8" r="2.3"/><circle cx="476.0" cy="527.6" r="2.3"/><circle cx="512.0" cy="519.1" r="2.3"/><circle cx="515.0" cy="506.2" r="2.3"/><circle cx="519.8" cy="503.4" r="2.3"/><circle cx="536.4" cy="549.1" r="2.3"/><circle cx="545.2" cy="546.2" r="2.3"/><circle cx="556.2" cy="505.4" r="2.3"/><circle cx="562.5" cy="507.2" r="2.3"/><circle cx="564.4" cy="501.9" r="2.3"/><circle cx="568.0" cy="501.2" r="2.3"/><circle cx="577.9" cy="519.1" r="2.3"/><circle cx="535.0" cy="502.6" r="2.3"/><circle cx="612.3" cy="521.9" r="2.3"/><circle cx="613.0" cy="524.8" r="2.3"/><circle cx="614.6" cy="517.6" r="2.3"/><circle cx="613.5" cy="527.6" r="2.3"/><circle cx="614.6" cy="540.5" r="2.3"/><circle cx="613.4" cy="544.8" r="2.3"/><circle cx="617.0" cy="553.3" r="2.3"/><circle cx="611.6" cy="556.2" r="2.3"/><circle cx="618.0" cy="560.0" r="2.3"/><circle cx="610.5" cy="534.8" r="2.3"/>
</g>
<g fill="#ffa500" stroke="#000" stroke-width="0.9">
<circle cx="473.0" cy="529.8" r="2.3"/><circle cx="491.8" cy="518.5" r="2.3"/><circle cx="611.1" cy="518.1" r="2.3"/><circle cx="600.6" cy="526.2" r="2.3"/><circle cx="604.0" cy="527.6" r="2.3"/><circle cx="608.3" cy="534.8" r="2.3"/><circle cx="608.8" cy="542.6" r="2.3"/><circle cx="588.9" cy="548.3" r="2.3"/>
</g>
<g fill="#ff0000" stroke="#000" stroke-width="0.9">
<circle cx="438.0" cy="514.5" r="2.3"/><circle cx="472.0" cy="521.9" r="2.3"/><circle cx="477.0" cy="524.8" r="2.3"/><circle cx="482.5" cy="520.5" r="2.3"/><circle cx="498.3" cy="523.3" r="2.3"/><circle cx="498.3" cy="526.5" r="2.3"/><circle cx="506.0" cy="517.6" r="2.3"/><circle cx="509.0" cy="515.5" r="2.3"/><circle cx="512.0" cy="518.3" r="2.3"/><circle cx="510.0" cy="514.8" r="2.3"/><circle cx="524.5" cy="523.5" r="2.3"/><circle cx="524.5" cy="500.5" r="2.3"/><circle cx="526.0" cy="496.2" r="2.3"/><circle cx="530.3" cy="504.1" r="2.3"/><circle cx="529.3" cy="506.2" r="2.3"/><circle cx="538.7" cy="499.1" r="2.3"/><circle cx="553.9" cy="497.6" r="2.3"/><circle cx="556.2" cy="496.2" r="2.3"/><circle cx="566.7" cy="496.2" r="2.3"/><circle cx="568.0" cy="499.8" r="2.3"/><circle cx="569.0" cy="503.4" r="2.3"/><circle cx="584.2" cy="509.6" r="2.3"/><circle cx="599.9" cy="500.5" r="2.3"/><circle cx="599.9" cy="507.6" r="2.3"/><circle cx="524.7" cy="523.5" r="2.3"/>
</g><path d="M544.6,486.4 L547.6,489.4 L544.6,492.4 L541.6,489.4 Z" fill="#9932cc" stroke="#000" stroke-width="0.6"/><line x1="546.2" y1="488.3" x2="555.8" y2="482.6" stroke="#000" stroke-width="0.7"/><text x="557.8" y="480.6" font-size="9.4">rs2224873</text>
<g fill="#4169e1" stroke="#000" stroke-width="1.4">
<circle cx="547.5" cy="927.1" r="2.0"/><circle cx="518.0" cy="928.0" r="2.0"/><circle cx="512.2" cy="927.4" r="2.0"/><circle cx="542.1" cy="928.5" r="2.0"/><circle cx="547.9" cy="928.4" r="2.0"/><circle cx="533.5" cy="928.7" r="2.0"/><circle cx="519.8" cy="928.2" r="2.0"/><circle cx="503.3" cy="928.6" r="2.0"/><circle cx="490.1" cy="927.9" r="2.0"/><circle cx="532.9" cy="928.3" r="2.0"/><circle cx="537.7" cy="929.3" r="2.0"/><circle cx="522.1" cy="927.4" r="2.0"/><circle cx="513.5" cy="928.4" r="2.0"/><circle cx="532.8" cy="929.0" r="2.0"/><circle cx="522.2" cy="927.2" r="2.0"/><circle cx="545.2" cy="927.7" r="2.0"/><circle cx="505.3" cy="926.4" r="2.0"/><circle cx="522.5" cy="927.4" r="2.0"/><circle cx="531.9" cy="927.9" r="2.0"/><circle cx="488.5" cy="928.7" r="2.0"/><circle cx="488.9" cy="927.4" r="2.0"/><circle cx="522.1" cy="927.5" r="2.0"/><circle cx="509.5" cy="927.7" r="2.0"/><circle cx="525.8" cy="928.2" r="2.0"/><circle cx="499.8" cy="927.5" r="2.0"/><circle cx="530.6" cy="929.8" r="2.0"/><circle cx="506.9" cy="928.6" r="2.0"/><circle cx="526.2" cy="928.4" r="2.0"/><circle cx="527.5" cy="928.0" r="2.0"/><circle cx="504.5" cy="928.3" r="2.0"/><circle cx="508.2" cy="927.7" r="2.0"/><circle cx="494.9" cy="928.1" r="2.0"/><circle cx="536.4" cy="926.5" r="2.0"/><circle cx="532.8" cy="928.7" r="2.0"/><circle cx="544.3" cy="928.6" r="2.0"/><circle cx="543.5" cy="926.5" r="2.0"/><circle cx="520.9" cy="927.3" r="2.0"/><circle cx="511.4" cy="927.8" r="2.0"/><circle cx="494.1" cy="928.4" r="2.0"/><circle cx="488.0" cy="927.2" r="2.0"/><circle cx="528.3" cy="928.3" r="2.0"/><circle cx="547.8" cy="928.4" r="2.0"/><circle cx="517.7" cy="928.6" r="2.0"/><circle cx="536.6" cy="928.1" r="2.0"/><circle cx="511.6" cy="928.4" r="2.0"/><circle cx="571.5" cy="937.0" r="2.0"/><circle cx="618.4" cy="938.5" r="2.0"/><circle cx="564.4" cy="935.0" r="2.0"/><circle cx="585.3" cy="936.2" r="2.0"/><circle cx="576.9" cy="935.4" r="2.0"/><circle cx="567.6" cy="936.7" r="2.0"/><circle cx="605.0" cy="938.1" r="2.0"/><circle cx="599.9" cy="935.9" r="2.0"/><circle cx="562.5" cy="934.8" r="2.0"/><circle cx="577.2" cy="935.4" r="2.0"/><circle cx="576.0" cy="936.8" r="2.0"/><circle cx="601.3" cy="937.3" r="2.0"/><circle cx="611.7" cy="936.9" r="2.0"/><circle cx="569.6" cy="936.4" r="2.0"/><circle cx="591.5" cy="936.6" r="2.0"/><circle cx="566.2" cy="936.2" r="2.0"/><circle cx="569.1" cy="935.9" r="2.0"/><circle cx="584.0" cy="935.5" r="2.0"/><circle cx="592.7" cy="936.2" r="2.0"/><circle cx="575.6" cy="936.3" r="2.0"/><circle cx="567.1" cy="934.7" r="2.0"/><circle cx="615.1" cy="938.2" r="2.0"/><circle cx="584.3" cy="937.8" r="2.0"/><circle cx="615.0" cy="938.0" r="2.0"/><circle cx="585.6" cy="937.6" r="2.0"/><circle cx="584.7" cy="937.3" r="2.0"/><circle cx="608.2" cy="936.1" r="2.0"/><circle cx="569.6" cy="936.5" r="2.0"/><circle cx="580.9" cy="936.0" r="2.0"/><circle cx="566.4" cy="937.3" r="2.0"/><circle cx="597.3" cy="936.5" r="2.0"/><circle cx="607.8" cy="937.7" r="2.0"/><circle cx="604.8" cy="939.1" r="2.0"/><circle cx="599.8" cy="935.3" r="2.0"/><circle cx="593.3" cy="938.3" r="2.0"/><circle cx="575.7" cy="935.4" r="2.0"/><circle cx="599.8" cy="937.1" r="2.0"/><circle cx="585.3" cy="936.8" r="2.0"/><circle cx="599.9" cy="936.0" r="2.0"/><circle cx="577.3" cy="935.7" r="2.0"/><circle cx="600.1" cy="937.4" r="2.0"/><circle cx="568.9" cy="936.7" r="2.0"/><circle cx="616.3" cy="938.3" r="2.0"/><circle cx="571.7" cy="934.9" r="2.0"/><circle cx="585.9" cy="936.3" r="2.0"/><circle cx="577.9" cy="936.0" r="2.0"/><circle cx="603.2" cy="937.0" r="2.0"/><circle cx="601.1" cy="938.9" r="2.0"/><circle cx="576.1" cy="935.0" r="2.0"/><circle cx="607.0" cy="939.2" r="2.0"/><circle cx="584.6" cy="938.5" r="2.0"/><circle cx="598.0" cy="935.5" r="2.0"/><circle cx="565.1" cy="935.9" r="2.0"/><circle cx="585.0" cy="936.6" r="2.0"/><circle cx="585.2" cy="936.9" r="2.0"/><circle cx="611.5" cy="938.6" r="2.0"/><circle cx="614.9" cy="939.0" r="2.0"/><circle cx="618.3" cy="937.5" r="2.0"/><circle cx="584.6" cy="936.3" r="2.0"/><circle cx="584.8" cy="936.1" r="2.0"/><circle cx="599.9" cy="938.6" r="2.0"/><circle cx="572.0" cy="936.9" r="2.0"/><circle cx="568.6" cy="935.5" r="2.0"/><circle cx="567.9" cy="936.2" r="2.0"/><circle cx="604.9" cy="937.7" r="2.0"/><circle cx="598.7" cy="938.6" r="2.0"/><circle cx="591.5" cy="937.6" r="2.0"/><circle cx="605.3" cy="939.4" r="2.0"/><circle cx="590.9" cy="936.3" r="2.0"/><circle cx="599.6" cy="938.4" r="2.0"/><circle cx="641.4" cy="943.0" r="2.0"/><circle cx="666.8" cy="944.9" r="2.0"/><circle cx="638.8" cy="943.7" r="2.0"/><circle cx="638.5" cy="943.1" r="2.0"/><circle cx="661.2" cy="945.4" r="2.0"/><circle cx="664.0" cy="945.4" r="2.0"/><circle cx="661.5" cy="945.9" r="2.0"/><circle cx="658.4" cy="946.9" r="2.0"/><circle cx="646.5" cy="945.3" r="2.0"/><circle cx="663.5" cy="943.0" r="2.0"/><circle cx="639.2" cy="945.0" r="2.0"/><circle cx="662.2" cy="942.1" r="2.0"/><circle cx="650.3" cy="946.6" r="2.0"/><circle cx="660.3" cy="946.4" r="2.0"/><circle cx="654.5" cy="945.8" r="2.0"/><circle cx="638.1" cy="947.4" r="2.0"/><circle cx="648.8" cy="947.2" r="2.0"/><circle cx="655.8" cy="943.4" r="2.0"/><circle cx="658.6" cy="944.7" r="2.0"/><circle cx="655.4" cy="942.7" r="2.0"/><circle cx="645.8" cy="944.2" r="2.0"/><circle cx="641.2" cy="943.7" r="2.0"/><circle cx="666.9" cy="945.7" r="2.0"/><circle cx="657.3" cy="946.6" r="2.0"/><circle cx="667.0" cy="947.2" r="2.0"/><circle cx="643.8" cy="945.2" r="2.0"/><circle cx="659.7" cy="944.5" r="2.0"/><circle cx="638.6" cy="944.0" r="2.0"/><circle cx="638.3" cy="945.7" r="2.0"/><circle cx="665.7" cy="944.6" r="2.0"/><circle cx="636.2" cy="946.2" r="2.0"/><circle cx="644.5" cy="946.5" r="2.0"/><circle cx="659.5" cy="946.0" r="2.0"/><circle cx="656.8" cy="944.5" r="2.0"/><circle cx="663.0" cy="945.6" r="2.0"/><circle cx="636.1" cy="944.0" r="2.0"/><circle cx="653.5" cy="947.3" r="2.0"/><circle cx="650.8" cy="946.7" r="2.0"/><circle cx="666.9" cy="944.4" r="2.0"/><circle cx="661.0" cy="944.0" r="2.0"/><circle cx="654.8" cy="942.8" r="2.0"/><circle cx="636.8" cy="945.6" r="2.0"/><circle cx="656.4" cy="945.7" r="2.0"/><circle cx="664.0" cy="945.9" r="2.0"/><circle cx="658.3" cy="944.6" r="2.0"/><circle cx="652.1" cy="942.8" r="2.0"/><circle cx="665.8" cy="942.1" r="2.0"/><circle cx="646.4" cy="944.6" r="2.0"/><circle cx="640.3" cy="943.2" r="2.0"/><circle cx="655.0" cy="944.8" r="2.0"/><circle cx="652.1" cy="945.5" r="2.0"/><circle cx="642.2" cy="945.0" r="2.0"/><circle cx="657.5" cy="947.1" r="2.0"/><circle cx="643.7" cy="945.9" r="2.0"/><circle cx="659.8" cy="944.8" r="2.0"/><circle cx="663.3" cy="945.3" r="2.0"/><circle cx="641.4" cy="946.0" r="2.0"/><circle cx="636.9" cy="944.8" r="2.0"/><circle cx="650.2" cy="945.3" r="2.0"/><circle cx="656.1" cy="944.2" r="2.0"/><circle cx="646.1" cy="943.7" r="2.0"/><circle cx="640.9" cy="943.8" r="2.0"/><circle cx="648.5" cy="943.3" r="2.0"/><circle cx="662.1" cy="944.8" r="2.0"/><circle cx="639.1" cy="943.9" r="2.0"/><circle cx="636.2" cy="947.1" r="2.0"/><circle cx="642.3" cy="943.1" r="2.0"/><circle cx="647.6" cy="943.6" r="2.0"/><circle cx="651.6" cy="944.2" r="2.0"/><circle cx="636.3" cy="942.3" r="2.0"/><circle cx="649.6" cy="947.1" r="2.0"/><circle cx="653.4" cy="942.7" r="2.0"/><circle cx="650.5" cy="943.9" r="2.0"/><circle cx="638.8" cy="946.6" r="2.0"/><circle cx="646.0" cy="947.3" r="2.0"/><circle cx="655.1" cy="947.5" r="2.0"/><circle cx="650.4" cy="943.8" r="2.0"/><circle cx="640.6" cy="942.0" r="2.0"/><circle cx="654.4" cy="943.4" r="2.0"/><circle cx="658.3" cy="944.4" r="2.0"/><circle cx="648.0" cy="944.2" r="2.0"/><circle cx="657.8" cy="945.5" r="2.0"/><circle cx="636.3" cy="942.4" r="2.0"/><circle cx="644.5" cy="942.4" r="2.0"/><circle cx="667.0" cy="947.2" r="2.0"/><circle cx="664.2" cy="945.6" r="2.0"/><circle cx="662.8" cy="943.2" r="2.0"/><circle cx="644.5" cy="943.1" r="2.0"/><circle cx="639.0" cy="942.5" r="2.0"/><circle cx="654.3" cy="942.1" r="2.0"/>
</g>
<g fill="#4169e1" stroke="#000" stroke-width="0.9">
<circle cx="433.1" cy="925.8" r="2.3"/><circle cx="447.6" cy="928.1" r="2.3"/><circle cx="427.2" cy="929.0" r="2.3"/><circle cx="423.7" cy="929.1" r="2.3"/><circle cx="425.0" cy="926.0" r="2.3"/><circle cx="451.7" cy="924.9" r="2.3"/><circle cx="432.1" cy="926.7" r="2.3"/><circle cx="442.1" cy="927.1" r="2.3"/><circle cx="422.4" cy="924.0" r="2.3"/><circle cx="439.8" cy="928.5" r="2.3"/><circle cx="422.2" cy="928.6" r="2.3"/><circle cx="450.7" cy="928.5" r="2.3"/><circle cx="440.0" cy="923.2" r="2.3"/><circle cx="421.1" cy="926.8" r="2.3"/><circle cx="435.3" cy="923.5" r="2.3"/><circle cx="426.0" cy="927.6" r="2.3"/><circle cx="427.9" cy="928.8" r="2.3"/><circle cx="441.6" cy="924.1" r="2.3"/><circle cx="434.0" cy="928.9" r="2.3"/><circle cx="442.8" cy="924.6" r="2.3"/><circle cx="440.9" cy="927.1" r="2.3"/><circle cx="446.6" cy="925.3" r="2.3"/><circle cx="472.7" cy="924.7" r="2.3"/><circle cx="462.0" cy="925.0" r="2.3"/><circle cx="478.8" cy="924.2" r="2.3"/><circle cx="465.4" cy="923.7" r="2.3"/><circle cx="480.2" cy="926.5" r="2.3"/><circle cx="459.7" cy="925.9" r="2.3"/><circle cx="455.4" cy="923.9" r="2.3"/><circle cx="474.4" cy="924.7" r="2.3"/><circle cx="484.8" cy="925.4" r="2.3"/><circle cx="461.0" cy="926.3" r="2.3"/><circle cx="465.2" cy="923.6" r="2.3"/><circle cx="473.2" cy="926.5" r="2.3"/><circle cx="545.2" cy="927.6" r="2.3"/><circle cx="570.2" cy="927.0" r="2.3"/><circle cx="511.7" cy="923.2" r="2.3"/><circle cx="598.3" cy="923.4" r="2.3"/><circle cx="526.8" cy="923.2" r="2.3"/><circle cx="523.9" cy="927.9" r="2.3"/><circle cx="524.2" cy="922.9" r="2.3"/><circle cx="570.7" cy="926.5" r="2.3"/><circle cx="599.0" cy="921.8" r="2.3"/><circle cx="524.9" cy="920.9" r="2.3"/><circle cx="522.7" cy="927.4" r="2.3"/><circle cx="555.6" cy="921.6" r="2.3"/><circle cx="567.2" cy="923.9" r="2.3"/><circle cx="552.4" cy="925.8" r="2.3"/><circle cx="527.6" cy="925.0" r="2.3"/><circle cx="560.2" cy="921.0" r="2.3"/><circle cx="497.6" cy="926.1" r="2.3"/><circle cx="612.5" cy="923.1" r="2.3"/><circle cx="497.8" cy="924.7" r="2.3"/><circle cx="573.9" cy="921.2" r="2.3"/><circle cx="499.1" cy="921.3" r="2.3"/><circle cx="589.7" cy="925.9" r="2.3"/><circle cx="558.4" cy="921.9" r="2.3"/><circle cx="520.1" cy="922.8" r="2.3"/><circle cx="561.9" cy="927.4" r="2.3"/><circle cx="523.9" cy="924.9" r="2.3"/><circle cx="506.4" cy="921.0" r="2.3"/><circle cx="521.0" cy="926.2" r="2.3"/><circle cx="566.8" cy="924.0" r="2.3"/><circle cx="530.1" cy="925.5" r="2.3"/><circle cx="553.5" cy="921.2" r="2.3"/><circle cx="498.4" cy="921.2" r="2.3"/><circle cx="611.8" cy="922.9" r="2.3"/><circle cx="594.0" cy="925.1" r="2.3"/><circle cx="615.1" cy="922.5" r="2.3"/><circle cx="578.6" cy="924.6" r="2.3"/><circle cx="517.1" cy="922.8" r="2.3"/><circle cx="585.1" cy="927.9" r="2.3"/><circle cx="529.1" cy="924.0" r="2.3"/><circle cx="516.0" cy="927.0" r="2.3"/><circle cx="512.8" cy="927.8" r="2.3"/><circle cx="503.9" cy="925.0" r="2.3"/><circle cx="554.2" cy="923.2" r="2.3"/><circle cx="528.7" cy="927.0" r="2.3"/><circle cx="609.5" cy="923.3" r="2.3"/><circle cx="577.6" cy="922.9" r="2.3"/><circle cx="530.5" cy="923.6" r="2.3"/><circle cx="530.1" cy="923.1" r="2.3"/><circle cx="596.0" cy="927.8" r="2.3"/><circle cx="593.0" cy="927.1" r="2.3"/><circle cx="490.1" cy="927.4" r="2.3"/><circle cx="562.2" cy="921.6" r="2.3"/><circle cx="610.1" cy="926.8" r="2.3"/><circle cx="544.6" cy="921.0" r="2.3"/><circle cx="605.2" cy="921.8" r="2.3"/><circle cx="520.8" cy="925.9" r="2.3"/><circle cx="507.7" cy="926.0" r="2.3"/><circle cx="541.4" cy="922.1" r="2.3"/><circle cx="575.1" cy="926.7" r="2.3"/><circle cx="511.6" cy="924.6" r="2.3"/><circle cx="605.5" cy="924.4" r="2.3"/><circle cx="592.1" cy="922.9" r="2.3"/><circle cx="603.9" cy="924.3" r="2.3"/><circle cx="537.9" cy="924.6" r="2.3"/><circle cx="593.9" cy="925.9" r="2.3"/><circle cx="513.5" cy="921.8" r="2.3"/><circle cx="551.4" cy="923.2" r="2.3"/><circle cx="511.0" cy="927.6" r="2.3"/><circle cx="517.7" cy="924.8" r="2.3"/><circle cx="492.4" cy="925.9" r="2.3"/><circle cx="612.5" cy="924.7" r="2.3"/><circle cx="488.6" cy="922.0" r="2.3"/><circle cx="527.8" cy="926.6" r="2.3"/><circle cx="572.2" cy="923.0" r="2.3"/><circle cx="530.8" cy="922.7" r="2.3"/><circle cx="603.6" cy="925.4" r="2.3"/><circle cx="553.6" cy="927.9" r="2.3"/><circle cx="566.1" cy="925.8" r="2.3"/><circle cx="574.1" cy="922.3" r="2.3"/><circle cx="533.0" cy="923.0" r="2.3"/><circle cx="589.1" cy="936.7" r="2.3"/><circle cx="579.8" cy="938.8" r="2.3"/><circle cx="566.1" cy="936.6" r="2.3"/><circle cx="616.2" cy="938.1" r="2.3"/><circle cx="567.3" cy="939.8" r="2.3"/><circle cx="575.0" cy="936.5" r="2.3"/><circle cx="580.2" cy="937.9" r="2.3"/><circle cx="610.4" cy="936.8" r="2.3"/><circle cx="566.2" cy="935.6" r="2.3"/><circle cx="601.2" cy="939.4" r="2.3"/><circle cx="566.4" cy="935.8" r="2.3"/><circle cx="578.6" cy="937.7" r="2.3"/><circle cx="579.4" cy="936.5" r="2.3"/><circle cx="587.2" cy="936.9" r="2.3"/><circle cx="613.1" cy="939.6" r="2.3"/><circle cx="584.1" cy="936.6" r="2.3"/><circle cx="609.0" cy="935.9" r="2.3"/><circle cx="585.3" cy="936.8" r="2.3"/><circle cx="594.8" cy="936.0" r="2.3"/><circle cx="573.0" cy="939.8" r="2.3"/><circle cx="527.6" cy="936.2" r="2.3"/><circle cx="552.2" cy="933.7" r="2.3"/><circle cx="532.5" cy="938.5" r="2.3"/><circle cx="537.5" cy="930.6" r="2.3"/><circle cx="523.8" cy="931.1" r="2.3"/><circle cx="537.4" cy="933.7" r="2.3"/><circle cx="535.8" cy="930.8" r="2.3"/><circle cx="555.4" cy="933.2" r="2.3"/><circle cx="542.2" cy="933.9" r="2.3"/><circle cx="530.3" cy="933.5" r="2.3"/><circle cx="559.7" cy="938.3" r="2.3"/><circle cx="540.5" cy="934.7" r="2.3"/><circle cx="543.3" cy="930.5" r="2.3"/><circle cx="545.5" cy="935.0" r="2.3"/><circle cx="523.8" cy="936.4" r="2.3"/><circle cx="558.7" cy="933.6" r="2.3"/><circle cx="553.1" cy="931.0" r="2.3"/><circle cx="559.4" cy="931.3" r="2.3"/><circle cx="563.0" cy="931.1" r="2.3"/><circle cx="550.4" cy="934.5" r="2.3"/><circle cx="635.4" cy="941.8" r="2.3"/><circle cx="650.2" cy="945.6" r="2.3"/><circle cx="646.3" cy="942.9" r="2.3"/><circle cx="660.2" cy="945.7" r="2.3"/><circle cx="639.4" cy="945.0" r="2.3"/><circle cx="638.2" cy="943.8" r="2.3"/><circle cx="663.1" cy="945.0" r="2.3"/><circle cx="639.0" cy="941.7" r="2.3"/><circle cx="640.0" cy="946.4" r="2.3"/><circle cx="651.7" cy="943.3" r="2.3"/><circle cx="646.1" cy="946.8" r="2.3"/><circle cx="644.3" cy="942.1" r="2.3"/><circle cx="667.1" cy="946.0" r="2.3"/><circle cx="657.7" cy="942.7" r="2.3"/><circle cx="662.1" cy="947.4" r="2.3"/><circle cx="635.1" cy="947.0" r="2.3"/><circle cx="653.2" cy="946.3" r="2.3"/><circle cx="665.2" cy="946.0" r="2.3"/><circle cx="649.3" cy="946.7" r="2.3"/><circle cx="664.7" cy="946.1" r="2.3"/><circle cx="643.3" cy="945.7" r="2.3"/><circle cx="640.9" cy="947.0" r="2.3"/><circle cx="661.2" cy="947.0" r="2.3"/><circle cx="644.2" cy="947.4" r="2.3"/><circle cx="652.7" cy="944.4" r="2.3"/><circle cx="632.7" cy="942.3" r="2.3"/><circle cx="633.2" cy="941.4" r="2.3"/><circle cx="623.7" cy="933.6" r="2.3"/><circle cx="631.8" cy="933.7" r="2.3"/><circle cx="620.8" cy="941.1" r="2.3"/><circle cx="623.6" cy="939.3" r="2.3"/><circle cx="627.5" cy="942.2" r="2.3"/><circle cx="627.3" cy="942.6" r="2.3"/><circle cx="428.3" cy="943.5" r="2.3"/><circle cx="456.3" cy="945.8" r="2.3"/><circle cx="458.0" cy="945.8" r="2.3"/><circle cx="460.3" cy="941.3" r="2.3"/><circle cx="465.0" cy="942.6" r="2.3"/><circle cx="471.0" cy="940.2" r="2.3"/><circle cx="476.0" cy="940.2" r="2.3"/><circle cx="517.5" cy="935.3" r="2.3"/><circle cx="529.6" cy="946.3" r="2.3"/><circle cx="532.7" cy="938.9" r="2.3"/><circle cx="529.3" cy="946.3" r="2.3"/><circle cx="556.0" cy="941.4" r="2.3"/><circle cx="560.0" cy="940.2" r="2.3"/><circle cx="564.0" cy="942.6" r="2.3"/><circle cx="577.0" cy="945.1" r="2.3"/><circle cx="594.0" cy="945.1" r="2.3"/><circle cx="627.5" cy="945.1" r="2.3"/><circle cx="421.0" cy="919.3" r="2.3"/><circle cx="425.0" cy="916.9" r="2.3"/><circle cx="429.0" cy="918.7" r="2.3"/><circle cx="433.0" cy="920.6" r="2.3"/><circle cx="436.0" cy="916.9" r="2.3"/>
</g>
<g fill="#d3d3d3" stroke="#000" stroke-width="0.9">
<circle cx="454.0" cy="830.0" r="2.3"/>
</g>
<g fill="#00eeee" stroke="#000" stroke-width="0.9">
<circle cx="435.6" cy="936.6" r="2.3"/><circle cx="455.8" cy="932.6" r="2.3"/><circle cx="441.7" cy="934.4" r="2.3"/><circle cx="462.3" cy="930.6" r="2.3"/><circle cx="462.8" cy="931.7" r="2.3"/><circle cx="442.6" cy="937.7" r="2.3"/><circle cx="446.9" cy="933.6" r="2.3"/><circle cx="430.7" cy="936.3" r="2.3"/><circle cx="433.8" cy="937.6" r="2.3"/><circle cx="464.9" cy="929.5" r="2.3"/><circle cx="454.7" cy="931.2" r="2.3"/><circle cx="466.6" cy="930.4" r="2.3"/><circle cx="458.8" cy="930.4" r="2.3"/><circle cx="460.6" cy="929.6" r="2.3"/><circle cx="436.3" cy="938.2" r="2.3"/><circle cx="466.6" cy="929.8" r="2.3"/><circle cx="442.3" cy="934.7" r="2.3"/><circle cx="447.2" cy="934.6" r="2.3"/><circle cx="469.9" cy="932.3" r="2.3"/><circle cx="449.6" cy="930.1" r="2.3"/><circle cx="449.0" cy="932.9" r="2.3"/><circle cx="425.1" cy="938.1" r="2.3"/><circle cx="506.9" cy="929.4" r="2.3"/><circle cx="515.3" cy="929.3" r="2.3"/><circle cx="531.7" cy="931.5" r="2.3"/><circle cx="503.5" cy="929.9" r="2.3"/><circle cx="533.5" cy="929.4" r="2.3"/><circle cx="553.2" cy="928.7" r="2.3"/><circle cx="535.2" cy="929.6" r="2.3"/><circle cx="526.7" cy="931.7" r="2.3"/><circle cx="504.4" cy="929.9" r="2.3"/><circle cx="554.6" cy="929.3" r="2.3"/><circle cx="504.7" cy="929.7" r="2.3"/><circle cx="517.7" cy="929.5" r="2.3"/><circle cx="506.4" cy="930.6" r="2.3"/><circle cx="524.4" cy="929.0" r="2.3"/><circle cx="548.1" cy="929.3" r="2.3"/><circle cx="519.6" cy="929.3" r="2.3"/><circle cx="508.4" cy="930.6" r="2.3"/><circle cx="518.3" cy="930.2" r="2.3"/><circle cx="531.7" cy="930.2" r="2.3"/><circle cx="513.1" cy="930.1" r="2.3"/><circle cx="526.0" cy="930.3" r="2.3"/><circle cx="501.6" cy="931.1" r="2.3"/><circle cx="526.8" cy="930.5" r="2.3"/><circle cx="524.0" cy="929.9" r="2.3"/><circle cx="542.5" cy="928.6" r="2.3"/><circle cx="543.2" cy="930.6" r="2.3"/><circle cx="567.9" cy="926.9" r="2.3"/><circle cx="572.3" cy="926.9" r="2.3"/><circle cx="572.1" cy="927.3" r="2.3"/><circle cx="571.1" cy="928.9" r="2.3"/><circle cx="570.1" cy="927.5" r="2.3"/><circle cx="441.6" cy="914.9" r="2.3"/><circle cx="449.7" cy="910.8" r="2.3"/><circle cx="452.8" cy="908.3" r="2.3"/><circle cx="522.3" cy="903.2" r="2.3"/><circle cx="571.0" cy="899.8" r="2.3"/><circle cx="585.0" cy="897.3" r="2.3"/><circle cx="599.4" cy="901.0" r="2.3"/><circle cx="601.3" cy="914.8" r="2.3"/><circle cx="608.8" cy="912.0" r="2.3"/><circle cx="634.9" cy="894.5" r="2.3"/><circle cx="634.5" cy="909.6" r="2.3"/><circle cx="499.7" cy="905.7" r="2.3"/><circle cx="521.8" cy="904.6" r="2.3"/><circle cx="480.6" cy="905.7" r="2.3"/><circle cx="517.4" cy="905.9" r="2.3"/><circle cx="502.2" cy="905.9" r="2.3"/><circle cx="492.8" cy="904.9" r="2.3"/><circle cx="503.2" cy="904.5" r="2.3"/><circle cx="506.7" cy="906.2" r="2.3"/><circle cx="490.0" cy="903.8" r="2.3"/><circle cx="509.1" cy="905.5" r="2.3"/><circle cx="519.8" cy="905.6" r="2.3"/><circle cx="499.5" cy="906.4" r="2.3"/><circle cx="474.5" cy="906.1" r="2.3"/><circle cx="474.8" cy="906.4" r="2.3"/><circle cx="524.6" cy="904.0" r="2.3"/><circle cx="475.7" cy="906.1" r="2.3"/>
</g>
<g fill="#00cd00" stroke="#000" stroke-width="0.9">
<circle cx="425.0" cy="905.1" r="2.3"/><circle cx="436.8" cy="902.8" r="2.3"/><circle cx="442.5" cy="903.7" r="2.3"/><circle cx="439.3" cy="904.5" r="2.3"/><circle cx="431.8" cy="905.4" r="2.3"/><circle cx="441.7" cy="903.5" r="2.3"/><circle cx="421.9" cy="905.9" r="2.3"/><circle cx="441.1" cy="903.2" r="2.3"/><circle cx="442.7" cy="905.4" r="2.3"/><circle cx="431.8" cy="903.5" r="2.3"/><circle cx="426.7" cy="904.5" r="2.3"/><circle cx="424.2" cy="905.9" r="2.3"/><circle cx="429.7" cy="903.8" r="2.3"/><circle cx="422.0" cy="904.7" r="2.3"/><circle cx="423.4" cy="905.5" r="2.3"/><circle cx="440.4" cy="902.8" r="2.3"/><circle cx="424.2" cy="905.6" r="2.3"/><circle cx="425.7" cy="905.6" r="2.3"/><circle cx="434.1" cy="891.2" r="2.3"/><circle cx="434.1" cy="889.4" r="2.3"/><circle cx="434.3" cy="888.1" r="2.3"/><circle cx="434.1" cy="866.7" r="2.3"/><circle cx="454.0" cy="894.9" r="2.3"/><circle cx="470.3" cy="893.6" r="2.3"/><circle cx="477.3" cy="891.2" r="2.3"/><circle cx="481.8" cy="894.9" r="2.3"/><circle cx="491.8" cy="893.0" r="2.3"/><circle cx="506.0" cy="892.4" r="2.3"/><circle cx="512.0" cy="891.8" r="2.3"/><circle cx="515.0" cy="889.4" r="2.3"/><circle cx="519.0" cy="888.7" r="2.3"/><circle cx="532.7" cy="890.0" r="2.3"/><circle cx="578.4" cy="894.3" r="2.3"/><circle cx="454.0" cy="825.1" r="2.3"/><circle cx="614.0" cy="850.8" r="2.3"/><circle cx="616.0" cy="853.3" r="2.3"/><circle cx="618.0" cy="854.5" r="2.3"/><circle cx="613.0" cy="848.4" r="2.3"/><circle cx="612.5" cy="849.6" r="2.3"/><circle cx="619.3" cy="867.9" r="2.3"/><circle cx="536.3" cy="890.8" r="2.3"/><circle cx="551.5" cy="889.2" r="2.3"/><circle cx="554.6" cy="887.0" r="2.3"/><circle cx="572.3" cy="886.8" r="2.3"/><circle cx="523.1" cy="886.9" r="2.3"/><circle cx="525.2" cy="888.3" r="2.3"/><circle cx="559.2" cy="889.3" r="2.3"/><circle cx="562.3" cy="888.3" r="2.3"/><circle cx="570.3" cy="889.8" r="2.3"/>
</g>
<g fill="#ffa500" stroke="#000" stroke-width="0.9">
<circle cx="473.6" cy="821.4" r="2.3"/><circle cx="492.5" cy="822.7" r="2.3"/><circle cx="588.9" cy="842.2" r="2.3"/><circle cx="600.6" cy="847.1" r="2.3"/><circle cx="604.0" cy="848.4" r="2.3"/><circle cx="608.0" cy="849.6" r="2.3"/><circle cx="611.0" cy="846.5" r="2.3"/><circle cx="608.3" cy="860.6" r="2.3"/>
</g>
<g fill="#ff0000" stroke="#000" stroke-width="0.9">
<circle cx="438.1" cy="837.3" r="2.3"/><circle cx="473.0" cy="814.1" r="2.3"/><circle cx="476.6" cy="814.1" r="2.3"/><circle cx="482.5" cy="813.5" r="2.3"/><circle cx="484.8" cy="812.9" r="2.3"/><circle cx="490.2" cy="812.2" r="2.3"/><circle cx="498.3" cy="812.9" r="2.3"/><circle cx="508.0" cy="811.6" r="2.3"/><circle cx="510.0" cy="810.4" r="2.3"/><circle cx="511.0" cy="811.6" r="2.3"/><circle cx="524.0" cy="804.3" r="2.3"/><circle cx="527.0" cy="801.8" r="2.3"/><circle cx="531.0" cy="803.1" r="2.3"/><circle cx="524.7" cy="802.5" r="2.3"/><circle cx="530.5" cy="801.2" r="2.3"/><circle cx="538.7" cy="801.2" r="2.3"/><circle cx="542.2" cy="802.5" r="2.3"/><circle cx="553.9" cy="801.8" r="2.3"/><circle cx="555.0" cy="801.8" r="2.3"/><circle cx="567.9" cy="794.5" r="2.3"/><circle cx="568.5" cy="799.4" r="2.3"/><circle cx="569.0" cy="804.3" r="2.3"/><circle cx="567.9" cy="809.2" r="2.3"/><circle cx="575.6" cy="800.6" r="2.3"/><circle cx="584.2" cy="809.2" r="2.3"/><circle cx="599.9" cy="817.8" r="2.3"/><circle cx="599.9" cy="827.5" r="2.3"/><circle cx="524.7" cy="859.4" r="2.3"/>
</g><path d="M544.5,801.1 L547.5,804.1 L544.5,807.1 L541.5,804.1 Z" fill="#9932cc" stroke="#000" stroke-width="0.6"/><line x1="546.1" y1="802.8" x2="555.2" y2="798.8" stroke="#000" stroke-width="0.7"/><text x="557.4" y="795.3" font-size="9.4">rs2224873</text>
<line x1="108.3" y1="483.0" x2="108.3" y2="649.3" stroke="#222" stroke-width="1" />
<line x1="108.3" y1="649.3" x2="372.0" y2="649.3" stroke="#222" stroke-width="1" />
<line x1="104.8" y1="642.9" x2="108.3" y2="642.9" stroke="#222" stroke-width="0.8" />
<text x="103.6" y="646.3" font-size="9.5" text-anchor="end" fill="#000" >0</text>
<line x1="104.8" y1="602.1" x2="108.3" y2="602.1" stroke="#222" stroke-width="0.8" />
<text x="103.6" y="605.5" font-size="9.5" text-anchor="end" fill="#000" >2</text>
<line x1="104.8" y1="561.3" x2="108.3" y2="561.3" stroke="#222" stroke-width="0.8" />
<text x="103.6" y="564.7" font-size="9.5" text-anchor="end" fill="#000" >4</text>
<line x1="104.8" y1="520.5" x2="108.3" y2="520.5" stroke="#222" stroke-width="0.8" />
<text x="103.6" y="523.9" font-size="9.5" text-anchor="end" fill="#000" >6</text>
<line x1="145.3" y1="649.3" x2="145.3" y2="652.0" stroke="#222" stroke-width="0.8" />
<line x1="186.0" y1="649.3" x2="186.0" y2="652.0" stroke="#222" stroke-width="0.8" />
<line x1="226.6" y1="649.3" x2="226.6" y2="652.0" stroke="#222" stroke-width="0.8" />
<line x1="267.2" y1="649.3" x2="267.2" y2="652.0" stroke="#222" stroke-width="0.8" />
<line x1="307.9" y1="649.3" x2="307.9" y2="652.0" stroke="#222" stroke-width="0.8" />
<line x1="348.6" y1="649.3" x2="348.6" y2="652.0" stroke="#222" stroke-width="0.8" />
<line x1="108.3" y1="494.2" x2="372.0" y2="494.2" stroke="#aaa" stroke-width="0.8" stroke-dasharray="3,2.6"/>
<line x1="108.0" y1="743.3" x2="372.0" y2="743.3" stroke="#222" stroke-width="1" />
<line x1="145.3" y1="743.3" x2="145.3" y2="746.0" stroke="#222" stroke-width="0.8" />
<text x="144.5" y="753.3" font-size="9.5" text-anchor="middle" fill="#000" >35.1</text>
<line x1="186.0" y1="743.3" x2="186.0" y2="746.0" stroke="#222" stroke-width="0.8" />
<text x="185.2" y="753.3" font-size="9.5" text-anchor="middle" fill="#000" >35.2</text>
<line x1="226.6" y1="743.3" x2="226.6" y2="746.0" stroke="#222" stroke-width="0.8" />
<text x="225.8" y="753.3" font-size="9.5" text-anchor="middle" fill="#000" >35.3</text>
<line x1="267.2" y1="743.3" x2="267.2" y2="746.0" stroke="#222" stroke-width="0.8" />
<text x="266.4" y="753.3" font-size="9.5" text-anchor="middle" fill="#000" >35.4</text>
<line x1="307.9" y1="743.3" x2="307.9" y2="746.0" stroke="#222" stroke-width="0.8" />
<text x="307.1" y="753.3" font-size="9.5" text-anchor="middle" fill="#000" >35.5</text>
<line x1="348.6" y1="743.3" x2="348.6" y2="746.0" stroke="#222" stroke-width="0.8" />
<text x="347.8" y="753.3" font-size="9.5" text-anchor="middle" fill="#000" >35.6</text>
<text x="240.0" y="763.4" font-size="9.8" text-anchor="middle" fill="#000" >Chromosome 22 (Mb)</text>
<line x1="108.2" y1="787.5" x2="108.2" y2="953.3" stroke="#222" stroke-width="1" />
<line x1="108.2" y1="953.3" x2="372.7" y2="953.3" stroke="#222" stroke-width="1" />
<line x1="104.8" y1="947.6" x2="108.2" y2="947.6" stroke="#222" stroke-width="0.8" />
<text x="103.6" y="951.0" font-size="9.5" text-anchor="end" fill="#000" >0</text>
<line x1="104.8" y1="896.5" x2="108.2" y2="896.5" stroke="#222" stroke-width="0.8" />
<text x="103.6" y="899.9" font-size="9.5" text-anchor="end" fill="#000" >5</text>
<line x1="104.8" y1="845.4" x2="108.2" y2="845.4" stroke="#222" stroke-width="0.8" />
<text x="103.6" y="848.8" font-size="9.5" text-anchor="end" fill="#000" >10</text>
<line x1="104.8" y1="794.3" x2="108.2" y2="794.3" stroke="#222" stroke-width="0.8" />
<text x="103.6" y="797.7" font-size="9.5" text-anchor="end" fill="#000" >15</text>
<line x1="145.3" y1="953.3" x2="145.3" y2="956.0" stroke="#222" stroke-width="0.8" />
<line x1="186.0" y1="953.3" x2="186.0" y2="956.0" stroke="#222" stroke-width="0.8" />
<line x1="226.6" y1="953.3" x2="226.6" y2="956.0" stroke="#222" stroke-width="0.8" />
<line x1="267.2" y1="953.3" x2="267.2" y2="956.0" stroke="#222" stroke-width="0.8" />
<line x1="307.9" y1="953.3" x2="307.9" y2="956.0" stroke="#222" stroke-width="0.8" />
<line x1="348.6" y1="953.3" x2="348.6" y2="956.0" stroke="#222" stroke-width="0.8" />
<line x1="108.2" y1="872.8" x2="372.7" y2="872.8" stroke="#aaa" stroke-width="0.8" stroke-dasharray="3,2.6"/>
<line x1="108.5" y1="1047.3" x2="371.0" y2="1047.3" stroke="#222" stroke-width="1" />
<line x1="145.3" y1="1047.3" x2="145.3" y2="1050.0" stroke="#222" stroke-width="0.8" />
<text x="144.5" y="1057.4" font-size="9.5" text-anchor="middle" fill="#000" >35.1</text>
<line x1="186.0" y1="1047.3" x2="186.0" y2="1050.0" stroke="#222" stroke-width="0.8" />
<text x="185.2" y="1057.4" font-size="9.5" text-anchor="middle" fill="#000" >35.2</text>
<line x1="226.6" y1="1047.3" x2="226.6" y2="1050.0" stroke="#222" stroke-width="0.8" />
<text x="225.8" y="1057.4" font-size="9.5" text-anchor="middle" fill="#000" >35.3</text>
<line x1="267.2" y1="1047.3" x2="267.2" y2="1050.0" stroke="#222" stroke-width="0.8" />
<text x="266.4" y="1057.4" font-size="9.5" text-anchor="middle" fill="#000" >35.4</text>
<line x1="307.9" y1="1047.3" x2="307.9" y2="1050.0" stroke="#222" stroke-width="0.8" />
<text x="307.1" y="1057.4" font-size="9.5" text-anchor="middle" fill="#000" >35.5</text>
<line x1="348.6" y1="1047.3" x2="348.6" y2="1050.0" stroke="#222" stroke-width="0.8" />
<text x="347.8" y="1057.4" font-size="9.5" text-anchor="middle" fill="#000" >35.6</text>
<text x="240.0" y="1067.5" font-size="9.8" text-anchor="middle" fill="#000" >Chromosome 22 (Mb)</text>
<line x1="412.6" y1="483.3" x2="412.6" y2="648.7" stroke="#222" stroke-width="1" />
<line x1="412.6" y1="648.7" x2="676.9" y2="648.7" stroke="#222" stroke-width="1" />
<line x1="409.6" y1="643.3" x2="412.6" y2="643.3" stroke="#222" stroke-width="0.8" />
<text x="408.2" y="646.7" font-size="9.5" text-anchor="end" fill="#000" >0</text>
<line x1="409.6" y1="614.7" x2="412.6" y2="614.7" stroke="#222" stroke-width="0.8" />
<text x="408.2" y="618.1" font-size="9.5" text-anchor="end" fill="#000" >2</text>
<line x1="409.6" y1="586.2" x2="412.6" y2="586.2" stroke="#222" stroke-width="0.8" />
<text x="408.2" y="589.6" font-size="9.5" text-anchor="end" fill="#000" >4</text>
<line x1="409.6" y1="557.6" x2="412.6" y2="557.6" stroke="#222" stroke-width="0.8" />
<text x="408.2" y="561.0" font-size="9.5" text-anchor="end" fill="#000" >6</text>
<line x1="409.6" y1="529.1" x2="412.6" y2="529.1" stroke="#222" stroke-width="0.8" />
<text x="408.2" y="532.5" font-size="9.5" text-anchor="end" fill="#000" >8</text>
<line x1="409.6" y1="500.5" x2="412.6" y2="500.5" stroke="#222" stroke-width="0.8" />
<text x="408.2" y="503.9" font-size="9.5" text-anchor="end" fill="#000" >10</text>
<line x1="431.3" y1="648.7" x2="431.3" y2="651.4" stroke="#222" stroke-width="0.8" />
<line x1="472.1" y1="648.7" x2="472.1" y2="651.4" stroke="#222" stroke-width="0.8" />
<line x1="512.9" y1="648.7" x2="512.9" y2="651.4" stroke="#222" stroke-width="0.8" />
<line x1="553.7" y1="648.7" x2="553.7" y2="651.4" stroke="#222" stroke-width="0.8" />
<line x1="594.5" y1="648.7" x2="594.5" y2="651.4" stroke="#222" stroke-width="0.8" />
<line x1="635.3" y1="648.7" x2="635.3" y2="651.4" stroke="#222" stroke-width="0.8" />
<line x1="676.1" y1="648.7" x2="676.1" y2="651.4" stroke="#222" stroke-width="0.8" />
<line x1="412.6" y1="539.0" x2="676.9" y2="539.0" stroke="#aaa" stroke-width="0.8" stroke-dasharray="3,2.6"/>
<line x1="412.8" y1="743.4" x2="676.9" y2="743.4" stroke="#222" stroke-width="1" />
<line x1="431.3" y1="743.4" x2="431.3" y2="746.0" stroke="#222" stroke-width="0.8" />
<text x="430.8" y="753.3" font-size="9.5" text-anchor="middle" fill="#000" >197.4</text>
<line x1="472.1" y1="743.4" x2="472.1" y2="746.0" stroke="#222" stroke-width="0.8" />
<text x="471.6" y="753.3" font-size="9.5" text-anchor="middle" fill="#000" >197.5</text>
<line x1="512.9" y1="743.4" x2="512.9" y2="746.0" stroke="#222" stroke-width="0.8" />
<text x="512.4" y="753.3" font-size="9.5" text-anchor="middle" fill="#000" >197.6</text>
<line x1="553.7" y1="743.4" x2="553.7" y2="746.0" stroke="#222" stroke-width="0.8" />
<text x="553.2" y="753.3" font-size="9.5" text-anchor="middle" fill="#000" >197.7</text>
<line x1="594.5" y1="743.4" x2="594.5" y2="746.0" stroke="#222" stroke-width="0.8" />
<text x="594.0" y="753.3" font-size="9.5" text-anchor="middle" fill="#000" >197.8</text>
<line x1="635.3" y1="743.4" x2="635.3" y2="746.0" stroke="#222" stroke-width="0.8" />
<text x="634.8" y="753.3" font-size="9.5" text-anchor="middle" fill="#000" >197.9</text>
<line x1="676.1" y1="743.4" x2="676.1" y2="746.0" stroke="#222" stroke-width="0.8" />
<text x="675.6" y="753.3" font-size="9.5" text-anchor="middle" fill="#000" >198</text>
<text x="544.5" y="763.4" font-size="9.8" text-anchor="middle" fill="#000" >Chromosome 1 (Mb)</text>
<line x1="412.4" y1="788.0" x2="412.4" y2="953.3" stroke="#222" stroke-width="1" />
<line x1="412.4" y1="953.3" x2="676.5" y2="953.3" stroke="#222" stroke-width="1" />
<line x1="409.4" y1="947.5" x2="412.4" y2="947.5" stroke="#222" stroke-width="0.8" />
<text x="408.0" y="950.9" font-size="9.5" text-anchor="end" fill="#000" >0</text>
<line x1="409.4" y1="923.0" x2="412.4" y2="923.0" stroke="#222" stroke-width="0.8" />
<text x="408.0" y="926.4" font-size="9.5" text-anchor="end" fill="#000" >2</text>
<line x1="409.4" y1="898.5" x2="412.4" y2="898.5" stroke="#222" stroke-width="0.8" />
<text x="408.0" y="901.9" font-size="9.5" text-anchor="end" fill="#000" >4</text>
<line x1="409.4" y1="874.1" x2="412.4" y2="874.1" stroke="#222" stroke-width="0.8" />
<text x="408.0" y="877.5" font-size="9.5" text-anchor="end" fill="#000" >6</text>
<line x1="409.4" y1="849.6" x2="412.4" y2="849.6" stroke="#222" stroke-width="0.8" />
<text x="408.0" y="853.0" font-size="9.5" text-anchor="end" fill="#000" >8</text>
<line x1="409.4" y1="825.1" x2="412.4" y2="825.1" stroke="#222" stroke-width="0.8" />
<text x="408.0" y="828.5" font-size="9.5" text-anchor="end" fill="#000" >10</text>
<line x1="409.4" y1="800.6" x2="412.4" y2="800.6" stroke="#222" stroke-width="0.8" />
<text x="408.0" y="804.0" font-size="9.5" text-anchor="end" fill="#000" >12</text>
<line x1="431.3" y1="953.3" x2="431.3" y2="956.0" stroke="#222" stroke-width="0.8" />
<line x1="472.1" y1="953.3" x2="472.1" y2="956.0" stroke="#222" stroke-width="0.8" />
<line x1="512.9" y1="953.3" x2="512.9" y2="956.0" stroke="#222" stroke-width="0.8" />
<line x1="553.7" y1="953.3" x2="553.7" y2="956.0" stroke="#222" stroke-width="0.8" />
<line x1="594.5" y1="953.3" x2="594.5" y2="956.0" stroke="#222" stroke-width="0.8" />
<line x1="635.3" y1="953.3" x2="635.3" y2="956.0" stroke="#222" stroke-width="0.8" />
<line x1="676.1" y1="953.3" x2="676.1" y2="956.0" stroke="#222" stroke-width="0.8" />
<line x1="412.4" y1="858.1" x2="676.5" y2="858.1" stroke="#aaa" stroke-width="0.8" stroke-dasharray="3,2.6"/>
<line x1="412.3" y1="1047.6" x2="685.0" y2="1047.6" stroke="#222" stroke-width="1" />
<line x1="431.3" y1="1047.6" x2="431.3" y2="1050.3" stroke="#222" stroke-width="0.8" />
<text x="430.8" y="1057.6" font-size="9.5" text-anchor="middle" fill="#000" >197.4</text>
<line x1="472.1" y1="1047.6" x2="472.1" y2="1050.3" stroke="#222" stroke-width="0.8" />
<text x="471.6" y="1057.6" font-size="9.5" text-anchor="middle" fill="#000" >197.5</text>
<line x1="512.9" y1="1047.6" x2="512.9" y2="1050.3" stroke="#222" stroke-width="0.8" />
<text x="512.4" y="1057.6" font-size="9.5" text-anchor="middle" fill="#000" >197.6</text>
<line x1="553.7" y1="1047.6" x2="553.7" y2="1050.3" stroke="#222" stroke-width="0.8" />
<text x="553.2" y="1057.6" font-size="9.5" text-anchor="middle" fill="#000" >197.7</text>
<line x1="594.5" y1="1047.6" x2="594.5" y2="1050.3" stroke="#222" stroke-width="0.8" />
<text x="594.0" y="1057.6" font-size="9.5" text-anchor="middle" fill="#000" >197.8</text>
<line x1="635.3" y1="1047.6" x2="635.3" y2="1050.3" stroke="#222" stroke-width="0.8" />
<text x="634.8" y="1057.6" font-size="9.5" text-anchor="middle" fill="#000" >197.9</text>
<line x1="676.1" y1="1047.6" x2="676.1" y2="1050.3" stroke="#222" stroke-width="0.8" />
<text x="675.6" y="1057.6" font-size="9.5" text-anchor="middle" fill="#000" >198</text>
<text x="544.5" y="1067.6" font-size="9.8" text-anchor="middle" fill="#000" >Chromosome 1 (Mb)</text>
<text transform="translate(90.8,566.5) rotate(-90)" font-size="10.4" text-anchor="middle">− log<tspan font-size="7" dy="2">10</tspan><tspan dy="-2"> (P) UC</tspan></text>
<text transform="translate(90.8,870.5) rotate(-90)" font-size="10.4" text-anchor="middle">− log<tspan font-size="7" dy="2">10</tspan><tspan dy="-2"> (P) <tspan font-style="italic">TOM1</tspan> sQTL (CIL_6)</tspan></text>
<text transform="translate(395.6,566.5) rotate(-90)" font-size="10.4" text-anchor="middle">− log<tspan font-size="7" dy="2">10</tspan><tspan dy="-2"> (P) IBD</tspan></text>
<text transform="translate(395.6,870.5) rotate(-90)" font-size="10.15" text-anchor="middle">− log<tspan font-size="7" dy="2">10</tspan><tspan dy="-2"> (P) <tspan font-style="italic">DENND1B</tspan> sQTL (CIL_24)</tspan></text>
<text x="127.0" y="661.0" font-size="6.4" textLength="16.8" lengthAdjust="spacingAndGlyphs">ISX<tspan font-size="8.6">→</tspan></text>
<line x1="131.0" y1="664.0" x2="139.7" y2="664.0" stroke="#17179a" stroke-width="0.8" />
<line x1="131.0" y1="662.4" x2="131.0" y2="665.6" stroke="#17179a" stroke-width="0.8" />
<rect x="136.5" y="662.4" width="3.2" height="3.2" fill="#17179a"/>
<text x="155.0" y="661.0" font-size="6.4" textLength="41.0" lengthAdjust="spacingAndGlyphs"><tspan font-size="8.6">←</tspan>LINC01399</text>
<line x1="152.4" y1="664.0" x2="198.6" y2="664.0" stroke="#17179a" stroke-width="0.8" />
<line x1="152.6" y1="662.4" x2="152.6" y2="665.6" stroke="#17179a" stroke-width="0.8" />
<line x1="167.0" y1="662.4" x2="167.0" y2="665.6" stroke="#17179a" stroke-width="0.8" />
<line x1="178.0" y1="662.4" x2="178.0" y2="665.6" stroke="#17179a" stroke-width="0.8" />
<line x1="198.4" y1="662.4" x2="198.4" y2="665.6" stroke="#17179a" stroke-width="0.8" />
<text x="223.5" y="661.0" font-size="6.4" textLength="24.1" lengthAdjust="spacingAndGlyphs">TOM1<tspan font-size="8.6">→</tspan></text>
<line x1="225.0" y1="664.0" x2="245.8" y2="664.0" stroke="#17179a" stroke-width="0.8" />
<line x1="225.2" y1="662.4" x2="225.2" y2="665.6" stroke="#17179a" stroke-width="0.8" />
<line x1="228.0" y1="662.4" x2="228.0" y2="665.6" stroke="#17179a" stroke-width="0.8" />
<line x1="230.0" y1="662.4" x2="230.0" y2="665.6" stroke="#17179a" stroke-width="0.8" />
<line x1="232.0" y1="662.4" x2="232.0" y2="665.6" stroke="#17179a" stroke-width="0.8" />
<line x1="234.0" y1="662.4" x2="234.0" y2="665.6" stroke="#17179a" stroke-width="0.8" />
<line x1="236.0" y1="662.4" x2="236.0" y2="665.6" stroke="#17179a" stroke-width="0.8" />
<line x1="237.5" y1="662.4" x2="237.5" y2="665.6" stroke="#17179a" stroke-width="0.8" />
<line x1="239.0" y1="662.4" x2="239.0" y2="665.6" stroke="#17179a" stroke-width="0.8" />
<line x1="241.0" y1="662.4" x2="241.0" y2="665.6" stroke="#17179a" stroke-width="0.8" />
<line x1="245.6" y1="662.4" x2="245.6" y2="665.6" stroke="#17179a" stroke-width="0.8" />
<rect x="236.0" y="662.4" width="2.5" height="3.2" fill="#17179a"/>
<rect x="242.5" y="662.4" width="3.0" height="3.2" fill="#17179a"/>
<text x="258.5" y="661.0" font-size="6.4" textLength="26.5" lengthAdjust="spacingAndGlyphs">MCM5<tspan font-size="8.6">→</tspan></text>
<rect x="265.7" y="662.3" width="11.2" height="3.4" fill="#17179a"/>
<text x="291.8" y="661.0" font-size="6.4" textLength="52.5" lengthAdjust="spacingAndGlyphs">RP4−569D19.8<tspan font-size="8.6">→</tspan></text>
<line x1="318.2" y1="662.4" x2="318.2" y2="665.6" stroke="#17179a" stroke-width="0.8" />
<text x="348.4" y="661.0" font-size="6.4" textLength="16.4" lengthAdjust="spacingAndGlyphs"><tspan font-size="8.6">←</tspan>MB</text>
<line x1="350.0" y1="664.0" x2="363.3" y2="664.0" stroke="#17179a" stroke-width="0.8" />
<rect x="350.0" y="662.4" width="5.0" height="3.2" fill="#17179a"/>
<line x1="357.5" y1="662.4" x2="357.5" y2="665.6" stroke="#17179a" stroke-width="0.8" />
<line x1="363.1" y1="662.4" x2="363.1" y2="665.6" stroke="#17179a" stroke-width="0.8" />
<text x="131.0" y="673.3" font-size="6.4" textLength="48.6" lengthAdjust="spacingAndGlyphs">CTA−714B7.7<tspan font-size="8.6">→</tspan></text>
<line x1="154.7" y1="674.2" x2="154.7" y2="677.4" stroke="#17179a" stroke-width="0.8" />
<text x="183.7" y="673.3" font-size="6.4" textLength="43.9" lengthAdjust="spacingAndGlyphs">RNU7−167P<tspan font-size="8.6">→</tspan></text>
<line x1="205.0" y1="674.2" x2="205.0" y2="677.4" stroke="#17179a" stroke-width="0.8" />
<text x="230.8" y="673.3" font-size="6.4" textLength="51.8" lengthAdjust="spacingAndGlyphs">CTA−286B10.8<tspan font-size="8.6">→</tspan></text>
<line x1="257.0" y1="674.2" x2="257.0" y2="677.4" stroke="#17179a" stroke-width="0.8" />
<text x="311.6" y="673.3" font-size="6.4" textLength="29.3" lengthAdjust="spacingAndGlyphs">RASD2<tspan font-size="8.6">→</tspan></text>
<line x1="323.3" y1="675.8" x2="329.0" y2="675.8" stroke="#17179a" stroke-width="0.8" />
<rect x="323.3" y="674.2" width="1.9" height="3.2" fill="#17179a"/>
<rect x="327.0" y="674.2" width="2.0" height="3.2" fill="#17179a"/>
<text x="154.7" y="685.1" font-size="6.4" textLength="51.9" lengthAdjust="spacingAndGlyphs">RP3−323A16.1<tspan font-size="8.6">→</tspan></text>
<rect x="169.4" y="686.4" width="22.5" height="3.3" fill="#17179a"/>
<text x="223.9" y="685.1" font-size="6.4" textLength="33.1" lengthAdjust="spacingAndGlyphs">MIR3909<tspan font-size="8.6">→</tspan></text>
<line x1="240.2" y1="686.4" x2="240.2" y2="689.6" stroke="#17179a" stroke-width="0.8" />
<text x="281.6" y="685.1" font-size="6.4" textLength="53.1" lengthAdjust="spacingAndGlyphs"><tspan font-size="8.6">←</tspan>RP4−569D19.5</text>
<line x1="308.0" y1="686.4" x2="308.0" y2="689.6" stroke="#17179a" stroke-width="0.8" />
<text x="146.9" y="697.0" font-size="6.4" textLength="48.0" lengthAdjust="spacingAndGlyphs">CTA−714B7.4<tspan font-size="8.6">→</tspan></text>
<line x1="171.4" y1="698.6" x2="171.4" y2="701.8" stroke="#17179a" stroke-width="0.8" />
<text x="199.0" y="697.0" font-size="6.4" textLength="35.0" lengthAdjust="spacingAndGlyphs">HMGXB4<tspan font-size="8.6">→</tspan></text>
<line x1="208.0" y1="700.2" x2="224.6" y2="700.2" stroke="#17179a" stroke-width="0.8" />
<rect x="208.0" y="698.6" width="2.5" height="3.2" fill="#17179a"/>
<rect x="220.5" y="698.6" width="4.1" height="3.2" fill="#17179a"/>
<text x="246.8" y="697.0" font-size="6.4" textLength="29.2" lengthAdjust="spacingAndGlyphs">HMOX1<tspan font-size="8.6">→</tspan></text>
<line x1="258.5" y1="700.2" x2="264.6" y2="700.2" stroke="#17179a" stroke-width="0.8" />
<rect x="258.5" y="698.6" width="2.0" height="3.2" fill="#17179a"/>
<rect x="262.0" y="698.6" width="2.6" height="3.2" fill="#17179a"/>
<line x1="357.6" y1="700.2" x2="361.7" y2="700.2" stroke="#17179a" stroke-width="0.8" />
<line x1="357.8" y1="698.6" x2="357.8" y2="701.8" stroke="#17179a" stroke-width="0.8" />
<line x1="361.5" y1="698.6" x2="361.5" y2="701.8" stroke="#17179a" stroke-width="0.8" />
<text x="164.7" y="708.7" font-size="6.4" textLength="36.8" lengthAdjust="spacingAndGlyphs"><tspan font-size="8.6">←</tspan>COX7BP1</text>
<line x1="183.7" y1="710.6" x2="183.7" y2="713.8" stroke="#17179a" stroke-width="0.8" />
<text x="224.2" y="708.7" font-size="6.4" textLength="33.6" lengthAdjust="spacingAndGlyphs"><tspan font-size="8.6">←</tspan>MIR6069</text>
<line x1="240.5" y1="710.6" x2="240.5" y2="713.8" stroke="#17179a" stroke-width="0.8" />
<text x="199.4" y="721.1" font-size="6.4" textLength="52.6" lengthAdjust="spacingAndGlyphs"><tspan font-size="8.6">←</tspan>RP3−510H16.3</text>
<line x1="225.6" y1="722.4" x2="225.6" y2="725.6" stroke="#17179a" stroke-width="0.8" />
<text x="229.3" y="732.8" font-size="6.4" textLength="51.8" lengthAdjust="spacingAndGlyphs">CTA−286B10.7<tspan font-size="8.6">→</tspan></text>
<line x1="255.4" y1="734.7" x2="255.4" y2="737.9" stroke="#17179a" stroke-width="0.8" />
<text x="223.9" y="984.0" font-size="6.8" textLength="24.6" lengthAdjust="spacingAndGlyphs">TOM1<tspan font-size="8.6">→</tspan></text>
<line x1="226.0" y1="1019.0" x2="245.0" y2="1019.0" stroke="#17179a" stroke-width="1.0" />
<rect x="226.00" y="1005.8" width="1" height="26" fill="#17179a" opacity="1"/>
<rect x="230.20" y="1005.8" width="1.6" height="26" fill="#17179a" opacity="0.35"/>
<rect x="233.05" y="1005.8" width="0.9" height="26" fill="#17179a" opacity="0.8"/>
<rect x="234.70" y="1005.8" width="1.2" height="26" fill="#17179a" opacity="1"/>
<rect x="236.10" y="1005.8" width="1.0" height="26" fill="#17179a" opacity="0.6"/>
<rect x="237.20" y="1005.8" width="1.2" height="26" fill="#17179a" opacity="1"/>
<rect x="238.50" y="1005.8" width="1.0" height="26" fill="#17179a" opacity="0.7"/>
<rect x="239.65" y="1005.8" width="1.3" height="26" fill="#17179a" opacity="1"/>
<rect x="242.00" y="1005.8" width="1.0" height="26" fill="#17179a" opacity="1"/>
<rect x="244.20" y="1005.8" width="2.6" height="26" fill="#17179a" opacity="1"/>
<line x1="412.8" y1="665.4" x2="464.3" y2="665.4" stroke="#17179a" stroke-width="0.8" />
<line x1="413.5" y1="663.8" x2="413.5" y2="667.0" stroke="#17179a" stroke-width="0.8" />
<line x1="437.8" y1="663.8" x2="437.8" y2="667.0" stroke="#17179a" stroke-width="0.8" />
<line x1="441.0" y1="663.8" x2="441.0" y2="667.0" stroke="#17179a" stroke-width="0.8" />
<line x1="443.6" y1="663.8" x2="443.6" y2="667.0" stroke="#17179a" stroke-width="0.8" />
<line x1="464.0" y1="663.8" x2="464.0" y2="667.0" stroke="#17179a" stroke-width="0.8" />
<rect x="446.5" y="663.8" width="3.0" height="3.2" fill="#17179a"/>
<line x1="474.5" y1="665.4" x2="584.3" y2="665.4" stroke="#17179a" stroke-width="0.8" />
<rect x="474.5" y="663.6" width="3.4" height="3.6" fill="#17179a"/>
<line x1="488.5" y1="663.8" x2="488.5" y2="667.0" stroke="#17179a" stroke-width="0.8" />
<line x1="491.0" y1="663.8" x2="491.0" y2="667.0" stroke="#17179a" stroke-width="0.8" />
<line x1="493.2" y1="663.8" x2="493.2" y2="667.0" stroke="#17179a" stroke-width="0.8" />
<line x1="502.0" y1="663.8" x2="502.0" y2="667.0" stroke="#17179a" stroke-width="0.8" />
<line x1="507.5" y1="663.8" x2="507.5" y2="667.0" stroke="#17179a" stroke-width="0.8" />
<line x1="512.0" y1="663.8" x2="512.0" y2="667.0" stroke="#17179a" stroke-width="0.8" />
<line x1="515.0" y1="663.8" x2="515.0" y2="667.0" stroke="#17179a" stroke-width="0.8" />
<line x1="517.8" y1="663.8" x2="517.8" y2="667.0" stroke="#17179a" stroke-width="0.8" />
<line x1="520.0" y1="663.8" x2="520.0" y2="667.0" stroke="#17179a" stroke-width="0.8" />
<line x1="530.5" y1="663.8" x2="530.5" y2="667.0" stroke="#17179a" stroke-width="0.8" />
<line x1="532.0" y1="663.8" x2="532.0" y2="667.0" stroke="#17179a" stroke-width="0.8" />
<line x1="533.5" y1="663.8" x2="533.5" y2="667.0" stroke="#17179a" stroke-width="0.8" />
<line x1="536.0" y1="663.8" x2="536.0" y2="667.0" stroke="#17179a" stroke-width="0.8" />
<line x1="538.0" y1="663.8" x2="538.0" y2="667.0" stroke="#17179a" stroke-width="0.8" />
<line x1="543.0" y1="663.8" x2="543.0" y2="667.0" stroke="#17179a" stroke-width="0.8" />
<line x1="560.5" y1="663.8" x2="560.5" y2="667.0" stroke="#17179a" stroke-width="0.8" />
<line x1="568.4" y1="663.8" x2="568.4" y2="667.0" stroke="#17179a" stroke-width="0.8" />
<rect x="583.4" y="663.6" width="1.2" height="3.6" fill="#17179a"/>
<text x="509.5" y="661.8" font-size="6.4" textLength="39.6" lengthAdjust="spacingAndGlyphs"><tspan font-size="8.6">←</tspan>DENND1B</text>
<text x="621.0" y="661.8" font-size="6.4" textLength="30.8" lengthAdjust="spacingAndGlyphs">C1orf53<tspan font-size="8.6">→</tspan></text>
<rect x="635.8" y="663.7" width="1.9" height="3.4" fill="#17179a"/>
<text x="423.0" y="675.3" font-size="6.4" textLength="52.5" lengthAdjust="spacingAndGlyphs"><tspan font-size="8.6">←</tspan>RP11−75C23.1</text>
<line x1="446.9" y1="679.6" x2="452.0" y2="679.6" stroke="#17179a" stroke-width="0.8" />
<line x1="447.1" y1="678.0" x2="447.1" y2="681.2" stroke="#17179a" stroke-width="0.8" />
<line x1="451.8" y1="678.0" x2="451.8" y2="681.2" stroke="#17179a" stroke-width="0.8" />
<text x="533.0" y="675.3" font-size="6.4" textLength="29.0" lengthAdjust="spacingAndGlyphs"><tspan font-size="8.6">←</tspan>Y_RNA</text>
<line x1="547.5" y1="678.0" x2="547.5" y2="681.2" stroke="#17179a" stroke-width="0.8" />
<text x="632.3" y="675.3" font-size="6.4" textLength="23.7" lengthAdjust="spacingAndGlyphs">LHX9<tspan font-size="8.6">→</tspan></text>
<rect x="639.0" y="677.9" width="10.3" height="3.4" fill="#17179a"/>
<text x="527.8" y="689.9" font-size="6.4" textLength="43.0" lengthAdjust="spacingAndGlyphs">EEF1A1P32<tspan font-size="8.6">→</tspan></text>
<line x1="549.4" y1="691.8" x2="549.4" y2="695.4" stroke="#17179a" stroke-width="1.0" />
<text x="541.9" y="704.2" font-size="6.4" textLength="52.6" lengthAdjust="spacingAndGlyphs">RP11−448G4.2<tspan font-size="8.6">→</tspan></text>
<line x1="568.0" y1="706.2" x2="568.0" y2="709.4" stroke="#17179a" stroke-width="0.8" />
<text x="552.7" y="718.3" font-size="6.4" textLength="40.5" lengthAdjust="spacingAndGlyphs"><tspan font-size="8.6">←</tspan>FAM204BP</text>
<line x1="572.4" y1="719.9" x2="572.4" y2="723.1" stroke="#17179a" stroke-width="0.8" />
<text x="551.3" y="732.0" font-size="6.4" textLength="52.7" lengthAdjust="spacingAndGlyphs">RP11−448G4.4<tspan font-size="8.6">→</tspan></text>
<line x1="576.4" y1="735.8" x2="578.3" y2="735.8" stroke="#17179a" stroke-width="0.8" />
<line x1="576.5" y1="734.2" x2="576.5" y2="737.4" stroke="#17179a" stroke-width="0.8" />
<line x1="578.2" y1="734.2" x2="578.2" y2="737.4" stroke="#17179a" stroke-width="0.8" />
<text x="507.9" y="983.2" font-size="6.8" textLength="40.5" lengthAdjust="spacingAndGlyphs"><tspan font-size="8.6">←</tspan>DENND1B</text>
<line x1="474.5" y1="1018.7" x2="584.6" y2="1018.7" stroke="#17179a" stroke-width="1.2" />
<rect x="474.1" y="1006" width="4.2" height="25.4" fill="#17179a"/>
<rect x="488.15" y="1006" width="1.1" height="25.4" fill="#17179a" opacity="0.9"/>
<rect x="490.65" y="1006" width="1.1" height="25.4" fill="#17179a" opacity="1"/>
<rect x="492.95" y="1006" width="1.1" height="25.4" fill="#17179a" opacity="0.6"/>
<rect x="493.85" y="1006" width="1.1" height="25.4" fill="#17179a" opacity="1"/>
<rect x="505.85" y="1006" width="1.1" height="25.4" fill="#17179a" opacity="0.7"/>
<rect x="510.55" y="1006" width="1.1" height="25.4" fill="#17179a" opacity="0.8"/>
<rect x="514.75" y="1006" width="1.1" height="25.4" fill="#17179a" opacity="1"/>
<rect x="516.05" y="1006" width="1.1" height="25.4" fill="#17179a" opacity="0.8"/>
<rect x="517.55" y="1006" width="1.1" height="25.4" fill="#17179a" opacity="1"/>
<rect x="519.45" y="1006" width="1.1" height="25.4" fill="#17179a" opacity="0.8"/>
<rect x="529.95" y="1006" width="1.1" height="25.4" fill="#17179a" opacity="0.6"/>
<rect x="531.25" y="1006" width="1.1" height="25.4" fill="#17179a" opacity="1"/>
<rect x="532.75" y="1006" width="1.1" height="25.4" fill="#17179a" opacity="0.8"/>
<rect x="534.65" y="1006" width="1.1" height="25.4" fill="#17179a" opacity="0.6"/>
<rect x="536.95" y="1006" width="1.1" height="25.4" fill="#17179a" opacity="0.8"/>
<rect x="542.25" y="1006" width="1.1" height="25.4" fill="#17179a" opacity="1"/>
<rect x="559.95" y="1006" width="1.1" height="25.4" fill="#17179a" opacity="1"/>
<rect x="567.85" y="1006" width="1.1" height="25.4" fill="#17179a" opacity="1"/>
<rect x="584.05" y="1006" width="1.1" height="25.4" fill="#17179a" opacity="1"/>
<text x="28.4" y="686.2" font-size="11.5">r<tspan font-size="8" dy="-4">2</tspan></text>
<path d="M6.4,690.5 L12.2,696.3 L6.4,702.1 L0.6,696.3 Z" fill="#6b4c9b" stroke="#4b3a70" stroke-width="0.6"/>
<text x="20.8" y="700.2" font-size="12.4" textLength="59.2" lengthAdjust="spacingAndGlyphs">Index SNP</text>
<circle cx="6.4" cy="715.2" r="5.4" fill="#e41f26" stroke="#555" stroke-width="0.5"/>
<text x="20.8" y="719.7" font-size="12.6" textLength="39.3" lengthAdjust="spacingAndGlyphs">0.8-1.0</text>
<circle cx="6.4" cy="734.1" r="5.4" fill="#f5a51d" stroke="#555" stroke-width="0.5"/>
<text x="20.8" y="738.6" font-size="12.6" textLength="39.3" lengthAdjust="spacingAndGlyphs">0.6-0.8</text>
<circle cx="6.4" cy="752.8" r="5.4" fill="#4dab3c" stroke="#555" stroke-width="0.5"/>
<text x="20.8" y="757.3" font-size="12.6" textLength="39.3" lengthAdjust="spacingAndGlyphs">0.4-0.6</text>
<circle cx="6.4" cy="771.5" r="5.4" fill="#6fc5d4" stroke="#555" stroke-width="0.5"/>
<text x="20.8" y="776.0" font-size="12.6" textLength="39.3" lengthAdjust="spacingAndGlyphs">0.2-0.4</text>
<circle cx="6.4" cy="790.2" r="5.4" fill="#3c5ba8" stroke="#555" stroke-width="0.5"/>
<text x="20.8" y="794.7" font-size="12.6" textLength="39.3" lengthAdjust="spacingAndGlyphs">0.0-0.2</text>
</svg></body></html>
